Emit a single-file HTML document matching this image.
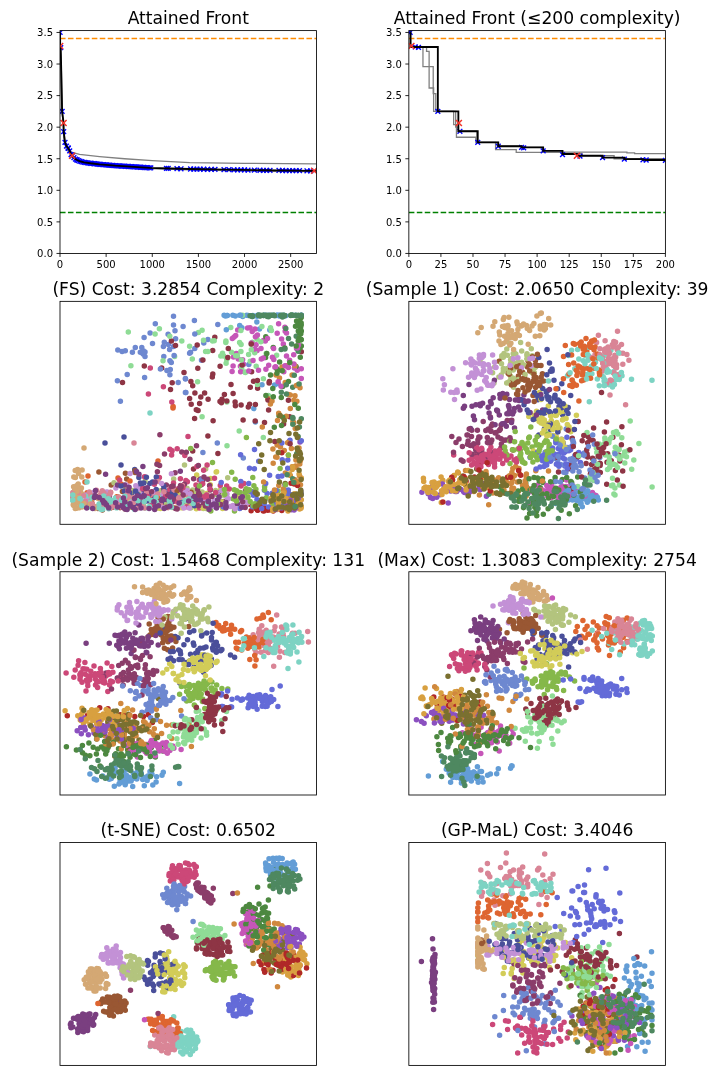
<!DOCTYPE html>
<html><head><meta charset="utf-8"><title>Attained Front</title>
<style>html,body{margin:0;padding:0;background:#fff}svg{display:block}text{font-family:"DejaVu Sans","Liberation Sans",sans-serif;fill:#000}</style>
</head><body>
<svg width="720" height="1080" viewBox="0 0 720 1080">
<rect width="720" height="1080" fill="#fff"/>
<line x1="56.5" x2="60.0" y1="253.45" y2="253.45" stroke="#000" stroke-width="0.85"/>
<line x1="56.5" x2="60.0" y1="221.88" y2="221.88" stroke="#000" stroke-width="0.85"/>
<line x1="56.5" x2="60.0" y1="190.31" y2="190.31" stroke="#000" stroke-width="0.85"/>
<line x1="56.5" x2="60.0" y1="158.74" y2="158.74" stroke="#000" stroke-width="0.85"/>
<line x1="56.5" x2="60.0" y1="127.17" y2="127.17" stroke="#000" stroke-width="0.85"/>
<line x1="56.5" x2="60.0" y1="95.60" y2="95.60" stroke="#000" stroke-width="0.85"/>
<line x1="56.5" x2="60.0" y1="64.03" y2="64.03" stroke="#000" stroke-width="0.85"/>
<line x1="56.5" x2="60.0" y1="32.46" y2="32.46" stroke="#000" stroke-width="0.85"/>
<line x1="60.00" x2="60.00" y1="253.45" y2="256.95" stroke="#000" stroke-width="0.85"/>
<line x1="106.13" x2="106.13" y1="253.45" y2="256.95" stroke="#000" stroke-width="0.85"/>
<line x1="152.27" x2="152.27" y1="253.45" y2="256.95" stroke="#000" stroke-width="0.85"/>
<line x1="198.40" x2="198.40" y1="253.45" y2="256.95" stroke="#000" stroke-width="0.85"/>
<line x1="244.53" x2="244.53" y1="253.45" y2="256.95" stroke="#000" stroke-width="0.85"/>
<line x1="290.67" x2="290.67" y1="253.45" y2="256.95" stroke="#000" stroke-width="0.85"/>
<clipPath id="c1"><rect x="60.0" y="30.6" width="256.5" height="222.85"/></clipPath>
<g clip-path="url(#c1)">
<path d="M60.09,28.67 L60.18,45.72 L61.38,70.34 L62.12,109.49 L63.41,127.17 L64.80,139.80 L66.46,146.11 L69.23,150.22 L72.09,152.43 L79.56,154.32 L99.58,156.53 L124.59,158.74 L152.27,160.63 L189.73,162.53 L244.53,163.29 L316.50,163.92" fill="none" stroke="#808080" stroke-width="1.3" stroke-linejoin="miter" />
<path d="M60.09,28.67 L60.18,46.98 L60.92,67.19 L61.85,108.23 L63.23,124.64 L63.69,137.27 L66.27,149.27 L69.23,152.43 L73.93,158.74 L83.99,163.16 L99.58,165.05 L149.68,168.65 L189.73,169.79 L262.99,171.24 L316.50,171.68" fill="none" stroke="#808080" stroke-width="1.3" stroke-linejoin="miter" />
<line x1="60.0" x2="316.5" y1="38.48" y2="38.48" stroke="#ff8c00" stroke-width="1.5" stroke-dasharray="5.55 2.4"/>
<line x1="60.0" x2="316.5" y1="212.40" y2="212.40" stroke="#008000" stroke-width="1.5" stroke-dasharray="5.55 2.4"/>
<path d="M57.69,30.06L62.49,34.86M57.69,34.86L62.49,30.06" stroke="#0000ff" stroke-width="1.4" fill="none"/>
<path d="M58.34,45.21L63.14,50.01M58.34,50.01L63.14,45.21" stroke="#0000ff" stroke-width="1.4" fill="none"/>
<path d="M59.72,108.98L64.52,113.78M59.72,113.78L64.52,108.98" stroke="#0000ff" stroke-width="1.4" fill="none"/>
<path d="M61.29,129.19L66.09,133.99M61.29,133.99L66.09,129.19" stroke="#0000ff" stroke-width="1.4" fill="none"/>
<path d="M62.58,139.92L67.38,144.72M62.58,144.72L67.38,139.92" stroke="#0000ff" stroke-width="1.4" fill="none"/>
<path d="M64.06,143.71L68.86,148.51M64.06,148.51L68.86,143.71" stroke="#0000ff" stroke-width="1.4" fill="none"/>
<path d="M65.72,145.61L70.52,150.41M65.72,150.41L70.52,145.61" stroke="#0000ff" stroke-width="1.4" fill="none"/>
<path d="M65.90,145.94L70.70,150.74M65.90,150.74L70.70,145.94" stroke="#0000ff" stroke-width="1.4" fill="none"/>
<path d="M67.29,148.45L72.09,153.25M67.29,153.25L72.09,148.45" stroke="#0000ff" stroke-width="1.4" fill="none"/>
<path d="M68.67,152.24L73.47,157.04M68.67,157.04L73.47,152.24" stroke="#0000ff" stroke-width="1.4" fill="none"/>
<path d="M69.87,153.57L74.67,158.37M69.87,158.37L74.67,153.57" stroke="#0000ff" stroke-width="1.4" fill="none"/>
<path d="M71.53,155.27L76.33,160.07M71.53,160.07L76.33,155.27" stroke="#0000ff" stroke-width="1.4" fill="none"/>
<path d="M73.10,156.66L77.90,161.46M73.10,161.46L77.90,156.66" stroke="#0000ff" stroke-width="1.4" fill="none"/>
<path d="M74.48,157.49L79.28,162.29M74.48,162.29L79.28,157.49" stroke="#0000ff" stroke-width="1.4" fill="none"/>
<path d="M74.67,157.60L79.47,162.40M74.67,162.40L79.47,157.60" stroke="#0000ff" stroke-width="1.4" fill="none"/>
<path d="M76.05,158.23L80.85,163.03M76.05,163.03L80.85,158.23" stroke="#0000ff" stroke-width="1.4" fill="none"/>
<path d="M77.53,158.84L82.33,163.64M77.53,163.64L82.33,158.84" stroke="#0000ff" stroke-width="1.4" fill="none"/>
<path d="M79.01,159.24L83.81,164.04M79.01,164.04L83.81,159.24" stroke="#0000ff" stroke-width="1.4" fill="none"/>
<path d="M80.48,159.64L85.28,164.44M80.48,164.44L85.28,159.64" stroke="#0000ff" stroke-width="1.4" fill="none"/>
<path d="M81.96,159.99L86.76,164.79M81.96,164.79L86.76,159.99" stroke="#0000ff" stroke-width="1.4" fill="none"/>
<path d="M83.43,160.21L88.23,165.01M83.43,165.01L88.23,160.21" stroke="#0000ff" stroke-width="1.4" fill="none"/>
<path d="M84.91,160.43L89.71,165.23M84.91,165.23L89.71,160.43" stroke="#0000ff" stroke-width="1.4" fill="none"/>
<path d="M86.39,160.64L91.19,165.44M86.39,165.44L91.19,160.64" stroke="#0000ff" stroke-width="1.4" fill="none"/>
<path d="M87.86,160.86L92.66,165.66M87.86,165.66L92.66,160.86" stroke="#0000ff" stroke-width="1.4" fill="none"/>
<path d="M89.34,161.03L94.14,165.83M89.34,165.83L94.14,161.03" stroke="#0000ff" stroke-width="1.4" fill="none"/>
<path d="M90.82,161.19L95.62,165.99M90.82,165.99L95.62,161.19" stroke="#0000ff" stroke-width="1.4" fill="none"/>
<path d="M92.29,161.36L97.09,166.16M92.29,166.16L97.09,161.36" stroke="#0000ff" stroke-width="1.4" fill="none"/>
<path d="M93.77,161.52L98.57,166.32M93.77,166.32L98.57,161.52" stroke="#0000ff" stroke-width="1.4" fill="none"/>
<path d="M95.24,161.68L100.04,166.48M95.24,166.48L100.04,161.68" stroke="#0000ff" stroke-width="1.4" fill="none"/>
<path d="M96.72,161.85L101.52,166.65M96.72,166.65L101.52,161.85" stroke="#0000ff" stroke-width="1.4" fill="none"/>
<path d="M98.20,161.99L103.00,166.79M98.20,166.79L103.00,161.99" stroke="#0000ff" stroke-width="1.4" fill="none"/>
<path d="M99.67,162.12L104.47,166.92M99.67,166.92L104.47,162.12" stroke="#0000ff" stroke-width="1.4" fill="none"/>
<path d="M101.15,162.25L105.95,167.05M101.15,167.05L105.95,162.25" stroke="#0000ff" stroke-width="1.4" fill="none"/>
<path d="M102.63,162.38L107.43,167.18M102.63,167.18L107.43,162.38" stroke="#0000ff" stroke-width="1.4" fill="none"/>
<path d="M104.10,162.51L108.90,167.31M104.10,167.31L108.90,162.51" stroke="#0000ff" stroke-width="1.4" fill="none"/>
<path d="M105.58,162.64L110.38,167.44M105.58,167.44L110.38,162.64" stroke="#0000ff" stroke-width="1.4" fill="none"/>
<path d="M107.05,162.77L111.85,167.57M107.05,167.57L111.85,162.77" stroke="#0000ff" stroke-width="1.4" fill="none"/>
<path d="M108.53,162.90L113.33,167.70M108.53,167.70L113.33,162.90" stroke="#0000ff" stroke-width="1.4" fill="none"/>
<path d="M110.01,163.03L114.81,167.83M110.01,167.83L114.81,163.03" stroke="#0000ff" stroke-width="1.4" fill="none"/>
<path d="M111.48,163.16L116.28,167.96M111.48,167.96L116.28,163.16" stroke="#0000ff" stroke-width="1.4" fill="none"/>
<path d="M112.96,163.29L117.76,168.09M112.96,168.09L117.76,163.29" stroke="#0000ff" stroke-width="1.4" fill="none"/>
<path d="M114.44,163.38L119.24,168.18M114.44,168.18L119.24,163.38" stroke="#0000ff" stroke-width="1.4" fill="none"/>
<path d="M115.91,163.47L120.71,168.27M115.91,168.27L120.71,163.47" stroke="#0000ff" stroke-width="1.4" fill="none"/>
<path d="M117.39,163.56L122.19,168.36M117.39,168.36L122.19,163.56" stroke="#0000ff" stroke-width="1.4" fill="none"/>
<path d="M118.86,163.65L123.66,168.45M118.86,168.45L123.66,163.65" stroke="#0000ff" stroke-width="1.4" fill="none"/>
<path d="M120.34,163.74L125.14,168.54M120.34,168.54L125.14,163.74" stroke="#0000ff" stroke-width="1.4" fill="none"/>
<path d="M121.82,163.83L126.62,168.63M121.82,168.63L126.62,163.83" stroke="#0000ff" stroke-width="1.4" fill="none"/>
<path d="M123.29,163.92L128.09,168.72M123.29,168.72L128.09,163.92" stroke="#0000ff" stroke-width="1.4" fill="none"/>
<path d="M124.77,164.01L129.57,168.81M124.77,168.81L129.57,164.01" stroke="#0000ff" stroke-width="1.4" fill="none"/>
<path d="M126.25,164.10L131.05,168.90M126.25,168.90L131.05,164.10" stroke="#0000ff" stroke-width="1.4" fill="none"/>
<path d="M127.72,164.19L132.52,168.99M127.72,168.99L132.52,164.19" stroke="#0000ff" stroke-width="1.4" fill="none"/>
<path d="M129.20,164.29L134.00,169.09M129.20,169.09L134.00,164.29" stroke="#0000ff" stroke-width="1.4" fill="none"/>
<path d="M130.67,164.38L135.47,169.18M130.67,169.18L135.47,164.38" stroke="#0000ff" stroke-width="1.4" fill="none"/>
<path d="M132.15,164.47L136.95,169.27M132.15,169.27L136.95,164.47" stroke="#0000ff" stroke-width="1.4" fill="none"/>
<path d="M133.63,164.56L138.43,169.36M133.63,169.36L138.43,164.56" stroke="#0000ff" stroke-width="1.4" fill="none"/>
<path d="M135.10,164.66L139.90,169.46M135.10,169.46L139.90,164.66" stroke="#0000ff" stroke-width="1.4" fill="none"/>
<path d="M136.58,164.75L141.38,169.55M136.58,169.55L141.38,164.75" stroke="#0000ff" stroke-width="1.4" fill="none"/>
<path d="M138.06,164.84L142.86,169.64M138.06,169.64L142.86,164.84" stroke="#0000ff" stroke-width="1.4" fill="none"/>
<path d="M139.53,164.94L144.33,169.74M139.53,169.74L144.33,164.94" stroke="#0000ff" stroke-width="1.4" fill="none"/>
<path d="M141.01,165.03L145.81,169.83M141.01,169.83L145.81,165.03" stroke="#0000ff" stroke-width="1.4" fill="none"/>
<path d="M142.48,165.13L147.28,169.93M142.48,169.93L147.28,165.13" stroke="#0000ff" stroke-width="1.4" fill="none"/>
<path d="M143.96,165.22L148.76,170.02M143.96,170.02L148.76,165.22" stroke="#0000ff" stroke-width="1.4" fill="none"/>
<path d="M145.44,165.31L150.24,170.11M145.44,170.11L150.24,165.31" stroke="#0000ff" stroke-width="1.4" fill="none"/>
<path d="M146.91,165.41L151.71,170.21M146.91,170.21L151.71,165.41" stroke="#0000ff" stroke-width="1.4" fill="none"/>
<path d="M148.39,165.47L153.19,170.27M148.39,170.27L153.19,165.47" stroke="#0000ff" stroke-width="1.4" fill="none"/>
<path d="M164.10,165.99L168.90,170.79M164.10,170.79L168.90,165.99" stroke="#0000ff" stroke-width="1.4" fill="none"/>
<path d="M165.80,166.04L170.60,170.84M165.80,170.84L170.60,166.04" stroke="#0000ff" stroke-width="1.4" fill="none"/>
<path d="M174.60,166.27L179.40,171.07M174.60,171.07L179.40,166.27" stroke="#0000ff" stroke-width="1.4" fill="none"/>
<path d="M178.60,166.37L183.40,171.17M178.60,171.17L183.40,166.37" stroke="#0000ff" stroke-width="1.4" fill="none"/>
<path d="M188.20,166.59L193.00,171.39M188.20,171.39L193.00,166.59" stroke="#0000ff" stroke-width="1.4" fill="none"/>
<path d="M191.40,166.65L196.20,171.45M191.40,171.45L196.20,166.65" stroke="#0000ff" stroke-width="1.4" fill="none"/>
<path d="M194.60,166.71L199.40,171.51M194.60,171.51L199.40,166.71" stroke="#0000ff" stroke-width="1.4" fill="none"/>
<path d="M197.60,166.76L202.40,171.56M197.60,171.56L202.40,166.76" stroke="#0000ff" stroke-width="1.4" fill="none"/>
<path d="M201.35,166.84L206.15,171.64M201.35,171.64L206.15,166.84" stroke="#0000ff" stroke-width="1.4" fill="none"/>
<path d="M205.10,166.91L209.90,171.71M205.10,171.71L209.90,166.91" stroke="#0000ff" stroke-width="1.4" fill="none"/>
<path d="M208.85,166.98L213.65,171.78M208.85,171.78L213.65,166.98" stroke="#0000ff" stroke-width="1.4" fill="none"/>
<path d="M212.60,167.05L217.40,171.85M212.60,171.85L217.40,167.05" stroke="#0000ff" stroke-width="1.4" fill="none"/>
<path d="M221.60,167.22L226.40,172.02M221.60,172.02L226.40,167.22" stroke="#0000ff" stroke-width="1.4" fill="none"/>
<path d="M226.60,167.31L231.40,172.11M226.60,172.11L231.40,167.31" stroke="#0000ff" stroke-width="1.4" fill="none"/>
<path d="M231.60,167.40L236.40,172.20M231.60,172.20L236.40,167.40" stroke="#0000ff" stroke-width="1.4" fill="none"/>
<path d="M235.10,167.46L239.90,172.26M235.10,172.26L239.90,167.46" stroke="#0000ff" stroke-width="1.4" fill="none"/>
<path d="M238.60,167.52L243.40,172.32M238.60,172.32L243.40,167.52" stroke="#0000ff" stroke-width="1.4" fill="none"/>
<path d="M242.10,167.58L246.90,172.38M242.10,172.38L246.90,167.58" stroke="#0000ff" stroke-width="1.4" fill="none"/>
<path d="M245.60,167.64L250.40,172.44M245.60,172.44L250.40,167.64" stroke="#0000ff" stroke-width="1.4" fill="none"/>
<path d="M252.00,167.75L256.80,172.55M252.00,172.55L256.80,167.75" stroke="#0000ff" stroke-width="1.4" fill="none"/>
<path d="M257.60,167.84L262.40,172.64M257.60,172.64L262.40,167.84" stroke="#0000ff" stroke-width="1.4" fill="none"/>
<path d="M260.93,167.90L265.73,172.70M260.93,172.70L265.73,167.90" stroke="#0000ff" stroke-width="1.4" fill="none"/>
<path d="M264.27,167.93L269.07,172.73M264.27,172.73L269.07,167.93" stroke="#0000ff" stroke-width="1.4" fill="none"/>
<path d="M267.60,167.97L272.40,172.77M267.60,172.77L272.40,167.97" stroke="#0000ff" stroke-width="1.4" fill="none"/>
<path d="M276.60,168.07L281.40,172.87M276.60,172.87L281.40,168.07" stroke="#0000ff" stroke-width="1.4" fill="none"/>
<path d="M280.10,168.10L284.90,172.90M280.10,172.90L284.90,168.10" stroke="#0000ff" stroke-width="1.4" fill="none"/>
<path d="M283.60,168.14L288.40,172.94M283.60,172.94L288.40,168.14" stroke="#0000ff" stroke-width="1.4" fill="none"/>
<path d="M286.98,168.18L291.77,172.98M286.98,172.98L291.77,168.18" stroke="#0000ff" stroke-width="1.4" fill="none"/>
<path d="M290.35,168.21L295.15,173.01M290.35,173.01L295.15,168.21" stroke="#0000ff" stroke-width="1.4" fill="none"/>
<path d="M293.73,168.25L298.52,173.05M293.73,173.05L298.52,168.25" stroke="#0000ff" stroke-width="1.4" fill="none"/>
<path d="M297.10,168.29L301.90,173.09M297.10,173.09L301.90,168.29" stroke="#0000ff" stroke-width="1.4" fill="none"/>
<path d="M304.60,168.37L309.40,173.17M304.60,173.17L309.40,168.37" stroke="#0000ff" stroke-width="1.4" fill="none"/>
<path d="M308.30,168.41L313.10,173.21M308.30,173.21L313.10,168.41" stroke="#0000ff" stroke-width="1.4" fill="none"/>
<path d="M60.09,32.46 L60.18,46.01 L60.74,47.61 L62.12,111.38 L63.60,123.07 L63.69,131.59 L64.98,142.32 L66.46,146.11 L68.12,148.01 L69.69,150.85 L71.07,154.64 L72.09,155.79 L73.93,157.67 L75.50,159.06 L77.07,160.00 L79.56,161.14 L83.99,162.34 L90.45,163.29 L99.58,164.30 L115.36,165.69 L133.81,166.82 L149.68,167.83 L170.72,168.53 L189.73,168.97 L226.08,169.66 L262.99,170.29 L314.10,170.84 L316.50,170.84" fill="none" stroke="#000" stroke-width="1.85" stroke-linejoin="miter" />
<path d="M57.18,43.01L63.18,49.01M57.18,49.01L63.18,43.01" stroke="#f2342a" stroke-width="1.5" fill="none"/>
<path d="M60.60,120.07L66.60,126.07M60.60,126.07L66.60,120.07" stroke="#f2342a" stroke-width="1.5" fill="none"/>
<path d="M69.09,152.79L75.09,158.79M69.09,158.79L75.09,152.79" stroke="#f2342a" stroke-width="1.5" fill="none"/>
<path d="M311.10,167.84L317.10,173.84M311.10,173.84L317.10,167.84" stroke="#f2342a" stroke-width="1.5" fill="none"/>
</g>
<line x1="405.35" x2="408.85" y1="253.45" y2="253.45" stroke="#000" stroke-width="0.85"/>
<line x1="405.35" x2="408.85" y1="221.88" y2="221.88" stroke="#000" stroke-width="0.85"/>
<line x1="405.35" x2="408.85" y1="190.31" y2="190.31" stroke="#000" stroke-width="0.85"/>
<line x1="405.35" x2="408.85" y1="158.74" y2="158.74" stroke="#000" stroke-width="0.85"/>
<line x1="405.35" x2="408.85" y1="127.17" y2="127.17" stroke="#000" stroke-width="0.85"/>
<line x1="405.35" x2="408.85" y1="95.60" y2="95.60" stroke="#000" stroke-width="0.85"/>
<line x1="405.35" x2="408.85" y1="64.03" y2="64.03" stroke="#000" stroke-width="0.85"/>
<line x1="405.35" x2="408.85" y1="32.46" y2="32.46" stroke="#000" stroke-width="0.85"/>
<line x1="408.85" x2="408.85" y1="253.45" y2="256.95" stroke="#000" stroke-width="0.85"/>
<line x1="440.92" x2="440.92" y1="253.45" y2="256.95" stroke="#000" stroke-width="0.85"/>
<line x1="472.99" x2="472.99" y1="253.45" y2="256.95" stroke="#000" stroke-width="0.85"/>
<line x1="505.06" x2="505.06" y1="253.45" y2="256.95" stroke="#000" stroke-width="0.85"/>
<line x1="537.12" x2="537.12" y1="253.45" y2="256.95" stroke="#000" stroke-width="0.85"/>
<line x1="569.19" x2="569.19" y1="253.45" y2="256.95" stroke="#000" stroke-width="0.85"/>
<line x1="601.26" x2="601.26" y1="253.45" y2="256.95" stroke="#000" stroke-width="0.85"/>
<line x1="633.33" x2="633.33" y1="253.45" y2="256.95" stroke="#000" stroke-width="0.85"/>
<line x1="665.40" x2="665.40" y1="253.45" y2="256.95" stroke="#000" stroke-width="0.85"/>
<clipPath id="c2"><rect x="408.85" y="30.6" width="256.54999999999995" height="222.85"/></clipPath>
<g clip-path="url(#c2)">
<path d="M409.23,28.67 L410.52,28.67 L410.52,46.98 L422.96,46.98 L422.96,66.56 L433.22,66.56 L433.22,93.71 L435.79,93.71 L435.79,111.38 L453.62,111.38 L453.62,124.64 L456.44,124.64 L456.44,137.27 L475.81,137.27 L475.81,142.32 L495.56,142.32 L495.56,149.58 L516.22,149.58 L516.22,152.43 L561.50,152.43 L561.50,153.37 L582.02,153.37 L582.02,155.58 L614.09,155.58 L614.09,158.74 L665.40,158.74 L665.40,161.27" fill="none" stroke="#808080" stroke-width="1.3" stroke-linejoin="miter" />
<path d="M409.23,28.67 L410.52,28.67 L410.52,46.98 L426.55,46.98 L426.55,51.40 L429.12,51.40 L429.12,88.02 L433.61,88.02 L433.61,111.38 L455.67,111.38 L455.67,127.17 L458.36,127.17 L458.36,131.27 L476.84,131.27 L476.84,142.32 L498.13,142.32 L498.13,146.11 L521.60,146.11 L521.60,147.37 L543.03,147.37 L543.03,150.66 L562.40,150.66 L562.40,152.11 L626.92,152.11 L626.92,152.87 L634.61,152.87 L634.61,153.69 L665.40,153.69 L665.40,154.38" fill="none" stroke="#808080" stroke-width="1.3" stroke-linejoin="miter" />
<line x1="408.85" x2="665.4" y1="38.48" y2="38.48" stroke="#ff8c00" stroke-width="1.5" stroke-dasharray="5.55 2.4"/>
<line x1="408.85" x2="665.4" y1="212.40" y2="212.40" stroke="#008000" stroke-width="1.5" stroke-dasharray="5.55 2.4"/>
<path d="M407.73,30.06L412.53,34.86M407.73,34.86L412.53,30.06" stroke="#0000ff" stroke-width="1.4" fill="none"/>
<path d="M412.86,44.58L417.66,49.38M412.86,49.38L417.66,44.58" stroke="#0000ff" stroke-width="1.4" fill="none"/>
<path d="M416.07,44.90L420.87,49.70M416.07,49.70L420.87,44.90" stroke="#0000ff" stroke-width="1.4" fill="none"/>
<path d="M435.44,108.98L440.24,113.78M435.44,113.78L440.24,108.98" stroke="#0000ff" stroke-width="1.4" fill="none"/>
<path d="M457.50,128.87L462.30,133.67M457.50,133.67L462.30,128.87" stroke="#0000ff" stroke-width="1.4" fill="none"/>
<path d="M475.33,139.92L480.13,144.72M475.33,144.72L480.13,139.92" stroke="#0000ff" stroke-width="1.4" fill="none"/>
<path d="M495.86,143.84L500.66,148.64M495.86,148.64L500.66,143.84" stroke="#0000ff" stroke-width="1.4" fill="none"/>
<path d="M519.20,144.97L524.00,149.77M519.20,149.77L524.00,144.97" stroke="#0000ff" stroke-width="1.4" fill="none"/>
<path d="M521.26,145.48L526.06,150.28M521.26,150.28L526.06,145.48" stroke="#0000ff" stroke-width="1.4" fill="none"/>
<path d="M540.75,148.45L545.55,153.25M540.75,153.25L545.55,148.45" stroke="#0000ff" stroke-width="1.4" fill="none"/>
<path d="M560.12,152.24L564.92,157.04M560.12,157.04L564.92,152.24" stroke="#0000ff" stroke-width="1.4" fill="none"/>
<path d="M577.57,153.75L582.37,158.55M577.57,158.55L582.37,153.75" stroke="#0000ff" stroke-width="1.4" fill="none"/>
<path d="M600.15,155.27L604.95,160.07M600.15,160.07L604.95,155.27" stroke="#0000ff" stroke-width="1.4" fill="none"/>
<path d="M621.95,156.66L626.75,161.46M621.95,161.46L626.75,156.66" stroke="#0000ff" stroke-width="1.4" fill="none"/>
<path d="M640.55,157.48L645.35,162.28M640.55,162.28L645.35,157.48" stroke="#0000ff" stroke-width="1.4" fill="none"/>
<path d="M643.76,157.60L648.56,162.40M643.76,162.40L648.56,157.60" stroke="#0000ff" stroke-width="1.4" fill="none"/>
<path d="M663.00,158.04L667.80,162.84M663.00,162.84L667.80,158.04" stroke="#0000ff" stroke-width="1.4" fill="none"/>
<path d="M410.13,32.46 L410.52,32.46 L410.52,46.98 L437.84,46.98 L437.84,111.38 L458.36,111.38 L458.36,131.27 L477.73,131.27 L477.73,142.32 L498.26,142.32 L498.26,146.24 L521.60,146.24 L521.60,147.37 L543.15,147.37 L543.15,150.85 L562.52,150.85 L562.52,154.00 L576.89,154.00 L576.89,155.79 L602.55,155.79 L602.55,157.67 L624.35,157.67 L624.35,159.06 L642.95,159.06 L642.95,159.88 L646.16,159.88 L646.16,160.00 L665.40,160.00 L665.40,160.44 L666.68,160.44 L666.68,160.44" fill="none" stroke="#000" stroke-width="1.85" stroke-linejoin="miter" />
<path d="M408.42,43.01L414.42,49.01M408.42,49.01L414.42,43.01" stroke="#f2342a" stroke-width="1.5" fill="none"/>
<path d="M455.88,120.07L461.88,126.07M455.88,126.07L461.88,120.07" stroke="#f2342a" stroke-width="1.5" fill="none"/>
<path d="M573.89,152.79L579.89,158.79M573.89,158.79L579.89,152.79" stroke="#f2342a" stroke-width="1.5" fill="none"/>
</g>
<g fill="none" stroke-width="5.5" stroke-linecap="round">
<path stroke="#8b50c0" d="M482.8,485.9h0M450.6,491.0h0M432.0,491.8h0M428.2,493.7h0M481.1,487.2h0M453.6,485.6h0M421.9,492.3h0"/>
<path stroke="#639dd6" d="M588.9,497.7h0M566.4,498.9h0M571.6,494.8h0M582.5,494.6h0M564.9,496.3h0M581.7,497.0h0M594.1,494.7h0M588.7,500.6h0"/>
<path stroke="#c656b8" d="M551.9,486.3h0M565.6,501.1h0M596.0,495.5h0M578.7,490.1h0M566.2,486.5h0M567.5,494.6h0M557.3,495.9h0M564.3,494.8h0M553.9,496.1h0M551.6,491.1h0M574.8,492.4h0"/>
<path stroke="#c656b8" d="M565.0,490.9h0M556.6,491.9h0M538.4,489.2h0M591.1,496.4h0M547.2,490.8h0M563.3,500.6h0M570.8,483.5h0M550.8,497.7h0M559.5,495.7h0M566.7,499.7h0"/>
<path stroke="#639dd6" d="M583.5,496.7h0M596.1,497.8h0M589.2,496.4h0M590.3,495.8h0M587.3,502.2h0M568.5,500.1h0M581.0,503.6h0M582.3,506.7h0M571.5,493.0h0"/>
<path stroke="#8b50c0" d="M463.5,491.4h0M468.8,490.2h0M460.7,489.3h0M456.8,491.5h0M432.7,486.1h0M455.2,491.6h0"/>
<path stroke="#8b50c0" d="M464.7,483.4h0M445.3,490.1h0M464.5,492.6h0M468.0,494.1h0M452.9,485.6h0M430.5,497.5h0M449.5,488.9h0"/>
<path stroke="#8b50c0" d="M479.1,487.3h0M440.1,494.7h0M448.2,503.1h0M469.4,492.3h0M430.8,487.5h0M480.2,489.8h0M450.3,486.7h0"/>
<path stroke="#c656b8" d="M564.3,493.0h0M547.0,495.6h0M569.8,489.9h0M525.8,494.3h0M566.2,498.1h0M561.1,486.9h0M587.2,485.1h0M547.6,486.7h0M552.2,497.0h0M537.7,485.1h0M537.8,491.8h0"/>
<path stroke="#4d8840" d="M577.7,477.0h0M529.0,489.0h0M552.2,494.6h0M560.3,490.2h0M539.3,481.1h0M543.3,514.3h0M548.1,508.7h0M523.5,507.7h0M540.3,487.8h0M529.8,504.5h0"/>
<path stroke="#4d8840" d="M543.0,482.5h0M533.0,500.9h0M554.3,490.0h0M562.9,503.0h0M534.1,485.6h0M555.1,477.6h0M525.8,482.9h0M560.3,492.2h0M536.6,511.0h0M499.8,486.7h0M536.8,515.7h0"/>
<path stroke="#7dd3c3" d="M589.7,374.0h0M595.5,362.2h0M593.7,358.9h0M631.5,379.2h0M574.8,368.7h0M606.1,353.9h0M613.5,383.6h0M591.9,373.8h0M612.5,387.0h0M593.1,365.1h0"/>
<path stroke="#d2cc58" d="M552.7,427.3h0M551.3,420.5h0M544.4,420.1h0M528.8,416.4h0M544.9,429.6h0M553.4,435.5h0M539.5,392.5h0M556.4,415.2h0M562.5,420.1h0M560.0,428.1h0"/>
<path stroke="#d0883e" d="M486.4,474.4h0M522.5,485.3h0M519.0,468.5h0M478.3,482.3h0M488.7,504.8h0M518.7,496.8h0M498.6,477.8h0M505.8,482.1h0M524.8,490.5h0M465.5,470.4h0"/>
<path stroke="#d4a874" d="M548.7,318.4h0M532.0,325.9h0M550.7,325.1h0M541.3,313.0h0M540.3,329.0h0M503.3,319.4h0M506.2,341.2h0M502.5,326.6h0M506.7,341.7h0M504.6,336.2h0"/>
<path stroke="#d4a874" d="M517.5,324.3h0M499.0,341.0h0M519.4,335.4h0M516.9,322.0h0M544.0,326.3h0M508.0,333.5h0M511.6,336.8h0M500.9,344.6h0M508.5,338.2h0M517.3,334.1h0"/>
<path stroke="#8b50c0" d="M430.4,489.9h0M469.8,486.2h0M490.1,486.0h0M486.4,496.3h0M473.5,490.1h0M466.2,489.6h0"/>
<path stroke="#8fdc96" d="M619.0,449.8h0M608.9,442.7h0M596.3,448.1h0M638.9,443.4h0M598.4,456.7h0M627.9,450.8h0M631.7,469.3h0M596.8,452.4h0M592.4,459.0h0M621.8,437.8h0"/>
<path stroke="#c391d6" d="M483.4,356.0h0M484.7,380.7h0M483.2,366.3h0M454.5,399.4h0M513.3,363.6h0M471.6,375.2h0M450.8,392.3h0M474.4,377.6h0M456.9,389.9h0M488.9,385.2h0"/>
<path stroke="#c656b8" d="M550.5,490.7h0M577.7,488.3h0M528.2,502.5h0M564.2,495.8h0M555.1,492.4h0M575.7,497.2h0M553.3,491.3h0M558.3,494.9h0M577.6,489.9h0M562.7,486.2h0"/>
<path stroke="#4d8840" d="M520.3,500.9h0M562.3,479.6h0M534.8,507.4h0M548.5,498.1h0M554.5,481.5h0M522.5,489.3h0M551.1,506.5h0M574.8,499.6h0M565.2,487.4h0M529.6,513.4h0"/>
<path stroke="#de6530" d="M588.3,368.5h0M585.4,354.9h0M578.9,400.9h0M586.8,350.9h0M573.7,363.0h0M576.2,370.1h0M583.3,354.6h0M597.9,357.8h0M594.2,368.2h0M581.2,342.1h0"/>
<path stroke="#646bd8" d="M578.7,452.4h0M544.0,466.4h0M570.6,449.8h0M565.5,451.4h0M550.6,448.8h0M562.5,457.7h0M563.7,449.7h0M572.0,460.4h0M566.3,447.5h0M564.8,466.1h0"/>
<path stroke="#7a3f80" d="M528.2,400.9h0M518.5,407.1h0M469.0,384.4h0M520.0,409.9h0M508.8,413.7h0M502.7,393.6h0M519.4,399.3h0M500.9,396.8h0M504.6,396.4h0M509.1,407.2h0M490.5,401.4h0"/>
<path stroke="#8e3545" d="M578.2,421.4h0M607.0,462.3h0M600.3,472.6h0M619.9,460.9h0M588.2,436.8h0M615.4,470.4h0M593.1,440.6h0M593.6,427.9h0M612.9,437.2h0M598.2,456.3h0M589.9,439.7h0"/>
<path stroke="#4a4f9a" d="M537.9,399.7h0M557.5,401.2h0M542.7,388.4h0M554.4,398.0h0M547.3,390.9h0M563.3,409.2h0M550.5,413.0h0M546.9,396.3h0M570.7,395.6h0M552.0,369.1h0"/>
<path stroke="#639dd6" d="M581.9,499.0h0M577.1,500.8h0M564.3,490.9h0M580.3,495.2h0M580.7,503.8h0M582.4,491.6h0M573.0,490.9h0M581.1,498.1h0M587.4,491.8h0"/>
<path stroke="#7dd3c3" d="M603.5,377.2h0M610.9,350.3h0M606.3,368.7h0M589.1,373.2h0M588.7,356.0h0M602.3,376.1h0M567.5,375.8h0M605.3,369.9h0M614.5,360.4h0M603.6,356.1h0"/>
<path stroke="#d0883e" d="M514.6,475.5h0M510.9,483.4h0M507.5,478.1h0M535.8,470.8h0M548.5,471.1h0M481.5,473.7h0M474.7,481.0h0M536.7,502.4h0M486.7,487.6h0M494.8,481.1h0M503.6,486.4h0"/>
<path stroke="#d2cc58" d="M573.7,429.6h0M534.3,415.2h0M571.8,438.7h0M563.9,409.5h0M541.0,399.6h0M550.1,427.3h0M570.7,431.8h0M550.7,416.1h0M553.6,424.1h0M567.3,424.6h0M561.4,410.8h0"/>
<path stroke="#b02828" d="M507.5,477.2h0M467.9,486.8h0M474.5,477.0h0"/>
<path stroke="#4a4f9a" d="M557.7,388.8h0M549.1,397.4h0M562.6,414.7h0M574.9,421.6h0M547.1,349.5h0M541.7,398.4h0M550.3,423.8h0M558.3,428.9h0M574.4,429.6h0M550.4,371.2h0"/>
<path stroke="#646bd8" d="M550.0,451.3h0M536.1,469.1h0M555.8,440.5h0M580.4,462.5h0M558.6,454.4h0M573.3,442.5h0M530.1,457.5h0M572.0,446.1h0M568.2,464.7h0M552.3,449.5h0M540.1,467.1h0"/>
<path stroke="#cc4878" d="M493.5,457.6h0M493.2,452.9h0M487.5,455.6h0M514.1,460.1h0M477.4,454.8h0M469.1,460.3h0M490.9,447.3h0M494.3,462.0h0M479.2,458.4h0M453.7,454.9h0"/>
<path stroke="#d2cc58" d="M541.0,420.1h0M562.9,411.2h0M542.0,417.5h0M544.8,423.3h0M522.5,443.6h0M556.4,437.0h0M536.5,411.3h0M576.4,415.2h0M558.2,412.2h0M541.4,419.7h0"/>
<path stroke="#d8a040" d="M449.8,486.4h0M452.6,483.9h0M434.1,481.9h0M459.8,479.8h0M458.3,473.1h0M432.0,482.5h0M441.3,502.5h0M443.7,488.8h0M435.2,487.9h0M451.9,486.4h0"/>
<path stroke="#8b3d6a" d="M491.0,431.2h0M451.8,436.6h0M478.8,437.1h0M487.4,442.5h0M492.4,424.1h0M486.7,459.2h0M501.1,438.7h0M479.5,453.0h0M470.3,445.6h0M484.6,455.6h0"/>
<path stroke="#7a3f80" d="M463.3,408.3h0M530.1,412.5h0M506.9,413.7h0M521.2,400.0h0M480.3,405.7h0M506.3,426.2h0M519.1,400.6h0M497.5,410.7h0M499.3,415.0h0M500.2,398.3h0M474.5,419.8h0"/>
<path stroke="#646bd8" d="M576.5,458.9h0M560.1,446.5h0M568.9,450.7h0M560.3,445.9h0M574.9,455.6h0M546.7,465.0h0M555.5,454.9h0M557.4,459.2h0M573.6,466.2h0M562.1,446.7h0"/>
<path stroke="#639dd6" d="M571.6,499.0h0M584.0,494.9h0M555.4,503.5h0M581.7,491.1h0M585.6,499.2h0M578.5,492.0h0M583.4,497.6h0M592.4,497.8h0"/>
<path stroke="#d8a040" d="M454.1,475.5h0M441.5,490.8h0M428.5,487.5h0M442.8,480.2h0M468.1,470.6h0M428.2,492.6h0M452.9,488.8h0M439.7,483.0h0M452.1,484.6h0M471.3,484.6h0"/>
<path stroke="#6e88d0" d="M569.8,459.2h0M561.7,442.8h0M545.1,452.2h0M575.2,465.1h0M575.2,459.1h0M584.8,478.1h0M580.1,455.1h0M590.9,476.0h0M593.0,473.6h0M593.6,480.3h0"/>
<path stroke="#c656b8" d="M584.5,496.0h0M592.4,492.4h0M566.6,480.0h0M537.2,491.4h0M546.8,485.4h0M582.1,495.8h0M571.4,490.4h0M542.5,490.0h0M584.9,495.9h0M542.9,500.6h0"/>
<path stroke="#c656b8" d="M559.9,491.1h0M568.7,496.3h0M560.1,495.7h0M561.8,488.6h0M531.7,491.8h0M572.6,497.8h0M557.5,488.4h0M558.7,499.6h0M539.6,492.4h0M574.3,486.9h0"/>
<path stroke="#8b3d6a" d="M461.2,459.9h0M501.1,425.0h0M507.2,420.6h0M490.4,417.0h0M499.3,430.6h0M453.5,452.2h0M487.3,437.6h0M474.5,456.0h0M482.5,454.8h0M471.8,430.3h0"/>
<path stroke="#4d8840" d="M566.3,499.4h0M542.4,494.1h0M527.0,517.9h0M580.4,491.9h0M534.0,477.5h0M570.9,481.6h0M575.6,505.8h0M553.6,496.6h0M534.6,493.6h0M555.7,488.3h0M566.7,477.4h0"/>
<path stroke="#85b84a" d="M532.9,462.0h0M558.9,441.0h0M520.5,455.7h0M549.0,447.0h0M519.5,448.7h0M532.1,453.0h0M513.5,450.3h0M538.4,451.9h0M530.8,427.1h0M536.2,445.1h0M520.3,450.0h0"/>
<path stroke="#995733" d="M522.6,372.3h0M542.4,373.7h0M517.9,378.3h0M524.6,377.5h0M528.7,389.2h0M508.1,373.2h0M533.0,395.5h0M518.4,376.0h0M530.7,383.6h0M515.1,366.2h0"/>
<path stroke="#7a3f80" d="M524.1,401.0h0M491.2,403.8h0M473.4,416.0h0M513.8,411.5h0M514.3,408.4h0M509.5,399.5h0M472.0,406.2h0M542.6,410.0h0M504.3,423.4h0M523.9,394.9h0"/>
<path stroke="#b3c47e" d="M516.1,365.4h0M501.2,375.0h0M513.3,370.0h0M510.5,376.0h0M494.7,367.0h0M528.0,357.3h0M517.9,365.2h0M498.9,376.9h0M513.5,387.3h0M480.9,362.5h0M535.2,367.5h0"/>
<path stroke="#d0883e" d="M484.0,477.7h0M526.4,474.1h0M497.0,493.6h0M504.0,490.3h0M486.0,471.4h0M512.0,491.2h0M525.4,483.6h0M531.9,488.9h0M511.3,477.7h0M509.5,475.7h0"/>
<path stroke="#8fdc96" d="M605.0,440.3h0M630.2,420.9h0M587.0,432.6h0M577.8,486.4h0M604.1,444.2h0M590.7,478.8h0M604.8,438.1h0M619.4,485.1h0M600.6,446.3h0M607.5,469.6h0M620.0,456.6h0"/>
<path stroke="#d0883e" d="M518.3,491.4h0M457.3,488.2h0M517.3,481.9h0M512.6,479.1h0M507.9,493.4h0M540.1,489.7h0M473.9,491.6h0M492.8,492.9h0M519.6,473.9h0M497.0,493.2h0"/>
<path stroke="#d0883e" d="M515.7,466.5h0M495.8,482.0h0M511.9,482.6h0M524.3,497.6h0M494.7,480.1h0M526.4,486.2h0M482.8,487.1h0M511.9,472.5h0M506.4,482.5h0M504.1,484.0h0"/>
<path stroke="#7dd3c3" d="M609.1,384.8h0M577.4,367.5h0M613.9,371.4h0M614.0,373.6h0M622.0,375.8h0M619.3,379.6h0M568.7,355.6h0M607.6,370.5h0M588.1,360.3h0M586.2,355.8h0M604.1,381.1h0"/>
<path stroke="#b3c47e" d="M509.7,367.1h0M507.5,368.5h0M521.6,362.3h0M503.3,368.6h0M503.3,371.3h0M530.2,357.2h0M509.2,382.4h0M503.3,357.2h0M494.0,382.9h0M501.8,355.8h0"/>
<path stroke="#6e88d0" d="M552.4,436.2h0M572.5,458.6h0M576.2,498.9h0M599.8,457.6h0M584.2,453.1h0M557.8,459.9h0M595.0,470.6h0M568.8,466.1h0M584.5,454.9h0M572.3,462.0h0M592.7,435.1h0"/>
<path stroke="#cc4878" d="M484.0,454.1h0M516.5,462.0h0M485.3,461.3h0M488.5,464.4h0M481.6,462.6h0M494.6,466.9h0M511.0,456.0h0M472.0,455.0h0M482.6,455.6h0M506.7,454.6h0M495.0,450.9h0"/>
<path stroke="#6e88d0" d="M584.9,455.8h0M561.7,439.2h0M582.0,489.0h0M573.6,442.9h0M594.3,444.2h0M555.7,481.6h0M560.7,464.6h0M552.4,456.1h0M585.9,455.3h0M565.9,465.3h0"/>
<path stroke="#7a3f80" d="M475.9,404.7h0M502.2,423.8h0M512.6,413.9h0M506.9,394.3h0M508.5,405.4h0M488.2,407.3h0M470.6,428.5h0M495.1,424.8h0M499.8,394.4h0M509.4,411.1h0"/>
<path stroke="#8e3545" d="M586.1,463.4h0M599.4,456.4h0M618.7,455.9h0M569.5,465.4h0M623.1,486.2h0M601.3,451.7h0M593.7,460.3h0M607.7,453.8h0M599.8,463.2h0M606.7,484.2h0"/>
<path stroke="#8e3545" d="M573.3,446.4h0M597.1,464.9h0M594.2,469.5h0M598.9,447.4h0M586.7,449.8h0M575.7,454.5h0M558.5,472.1h0M601.5,392.6h0M587.7,457.0h0M618.9,455.3h0"/>
<path stroke="#d8a040" d="M446.3,491.8h0M448.3,481.5h0M454.3,475.4h0M441.1,477.0h0M433.1,486.3h0M463.6,479.0h0M436.1,495.8h0M433.7,486.5h0M483.2,476.4h0M423.4,478.3h0"/>
<path stroke="#4a4f9a" d="M538.4,412.4h0M528.5,412.7h0M538.8,435.0h0M544.8,413.0h0M550.5,429.7h0M544.4,429.1h0M554.8,397.3h0M549.5,362.9h0M568.2,407.5h0M559.0,406.4h0M561.7,407.8h0"/>
<path stroke="#8b3d6a" d="M488.4,442.7h0M473.8,446.2h0M506.0,439.9h0M475.7,449.2h0M477.7,443.3h0M511.8,420.3h0M498.0,437.0h0M510.0,437.7h0M477.9,439.9h0M477.4,430.2h0"/>
<path stroke="#8e3545" d="M598.4,471.9h0M621.9,426.8h0M572.3,438.2h0M611.3,460.7h0M578.1,456.8h0M590.9,470.7h0M604.4,432.0h0M617.3,479.9h0M600.1,465.6h0M555.2,457.6h0"/>
<path stroke="#7dd3c3" d="M572.4,380.6h0M578.8,359.1h0M571.6,350.3h0M652.0,380.2h0M577.6,349.4h0M588.2,347.3h0M586.5,374.7h0M583.3,360.8h0M606.9,369.3h0M597.3,378.9h0M591.4,366.3h0"/>
<path stroke="#b02828" d="M466.1,481.2h0M442.9,502.1h0M479.5,466.3h0"/>
<path stroke="#cc4878" d="M496.7,458.8h0M476.4,464.5h0M495.3,456.7h0M472.0,458.2h0M494.1,455.8h0M512.5,449.7h0M497.5,454.0h0M493.6,461.5h0M480.9,466.7h0M496.3,453.7h0"/>
<path stroke="#7a7030" d="M510.4,493.2h0M490.7,478.5h0M462.9,476.1h0M473.5,484.1h0M462.8,479.6h0M487.5,480.0h0M484.2,483.5h0M504.8,493.2h0M472.4,481.0h0M486.7,478.0h0"/>
<path stroke="#4d8840" d="M550.6,481.8h0M532.4,491.1h0M532.9,488.4h0M569.0,489.8h0M518.0,490.9h0M571.7,482.8h0M542.5,478.5h0M559.9,505.3h0M558.8,490.1h0M538.3,496.0h0"/>
<path stroke="#8b3d6a" d="M469.2,429.1h0M500.3,429.2h0M490.9,442.5h0M471.5,436.5h0M488.3,428.9h0M481.8,449.7h0M488.8,457.8h0M490.0,451.3h0M476.1,450.7h0M468.1,441.1h0M495.1,433.1h0"/>
<path stroke="#8fdc96" d="M633.8,460.0h0M609.2,456.9h0M615.0,494.9h0M597.1,467.0h0M615.3,447.2h0M599.2,443.9h0M613.5,464.2h0M618.9,449.0h0M624.6,451.9h0M613.9,493.9h0"/>
<path stroke="#85b84a" d="M517.9,448.9h0M509.8,441.1h0M520.4,446.0h0M525.6,448.3h0M527.8,443.0h0M524.9,463.2h0M532.1,447.0h0M546.4,451.8h0M547.3,434.0h0M541.2,445.5h0"/>
<path stroke="#6e88d0" d="M565.9,472.6h0M572.1,485.1h0M567.9,447.4h0M569.9,469.0h0M563.7,472.3h0M572.8,440.6h0M590.0,470.1h0M552.8,459.1h0M583.8,487.8h0M566.2,429.1h0"/>
<path stroke="#b3c47e" d="M532.4,370.1h0M513.2,353.7h0M521.7,351.1h0M510.2,343.4h0M532.0,372.8h0M521.1,368.2h0M510.7,379.6h0M510.4,364.0h0M525.1,374.4h0M504.0,353.5h0M534.2,372.4h0"/>
<path stroke="#8fdc96" d="M626.5,456.8h0M596.1,475.5h0M616.3,431.4h0M619.6,459.0h0M610.7,465.0h0M613.5,432.6h0M617.3,455.7h0M589.7,479.6h0M612.5,478.2h0M594.2,480.5h0"/>
<path stroke="#d0883e" d="M542.3,480.9h0M526.1,476.2h0M511.9,488.2h0M493.6,480.8h0M489.1,487.7h0M490.7,484.8h0M479.4,495.0h0M525.1,480.7h0M526.1,496.3h0M513.6,488.3h0M512.8,468.5h0"/>
<path stroke="#8b50c0" d="M470.8,490.7h0M454.3,488.2h0M432.7,498.5h0M482.6,483.9h0M455.9,489.7h0M436.7,497.2h0M442.4,483.9h0"/>
<path stroke="#8e3545" d="M587.1,454.0h0M596.7,467.8h0M571.5,488.5h0M583.8,435.4h0M582.2,440.7h0M581.6,477.1h0M568.3,468.6h0M600.3,463.7h0M629.9,449.7h0M590.4,473.9h0M603.6,447.4h0"/>
<path stroke="#d8a040" d="M460.5,482.3h0M449.6,486.0h0M458.3,483.4h0M452.1,482.0h0M436.3,486.9h0M424.0,488.3h0M452.3,490.7h0M455.9,491.0h0M435.3,493.4h0M457.7,472.0h0"/>
<path stroke="#639dd6" d="M598.3,499.9h0M568.5,490.2h0M597.4,497.3h0M574.0,487.5h0M584.8,494.7h0M582.4,495.9h0M591.0,498.9h0M593.8,499.1h0"/>
<path stroke="#de6530" d="M583.8,380.0h0M586.0,338.5h0M573.6,383.6h0M584.6,348.5h0M578.1,365.9h0M579.6,343.5h0M563.5,356.6h0M556.0,388.8h0M571.6,355.1h0M576.9,370.6h0"/>
<path stroke="#646bd8" d="M545.4,458.2h0M558.3,448.6h0M556.4,464.2h0M540.7,459.1h0M561.6,451.7h0M542.5,460.8h0M563.3,442.9h0M557.1,464.0h0M566.9,437.3h0M550.5,461.3h0"/>
<path stroke="#639dd6" d="M580.5,499.1h0M574.5,497.5h0M592.1,495.5h0M587.8,490.8h0M576.2,498.9h0M579.5,496.9h0M581.1,499.6h0M572.5,500.1h0"/>
<path stroke="#646bd8" d="M546.3,459.3h0M563.9,453.0h0M541.8,456.0h0M564.5,458.9h0M543.6,457.2h0M567.3,468.5h0M579.9,454.3h0M558.7,464.7h0M555.8,442.8h0M552.6,448.8h0"/>
<path stroke="#d4a874" d="M507.8,325.4h0M527.3,328.5h0M540.3,313.4h0M544.2,330.1h0M481.2,327.4h0M515.8,334.4h0M521.6,325.7h0M517.9,329.6h0M508.9,317.2h0M526.5,325.6h0M512.3,335.5h0"/>
<path stroke="#d98596" d="M625.6,404.7h0M595.1,354.4h0M613.6,372.8h0M618.6,374.4h0M609.6,353.4h0M610.0,395.0h0M614.5,362.6h0M616.5,367.7h0M613.8,341.4h0M603.0,362.8h0M608.7,358.1h0"/>
<path stroke="#7a3f80" d="M514.5,428.0h0M489.1,412.9h0M509.6,412.8h0M494.4,380.3h0M515.4,399.9h0M490.5,417.9h0M496.7,409.9h0M523.5,400.4h0M540.8,394.6h0M479.8,404.3h0"/>
<path stroke="#b3c47e" d="M501.9,357.6h0M518.2,362.2h0M519.3,369.4h0M510.5,359.7h0M531.3,348.7h0M511.6,358.5h0M515.5,363.8h0M514.8,380.4h0M526.3,365.4h0M515.1,364.7h0"/>
<path stroke="#d98596" d="M617.5,331.2h0M602.5,358.1h0M596.6,342.4h0M592.1,357.4h0M611.2,363.5h0M605.3,349.0h0M608.6,351.6h0M599.1,354.8h0M619.8,353.1h0M612.0,380.7h0"/>
<path stroke="#cc4878" d="M478.9,449.7h0M476.7,447.6h0M486.4,454.4h0M492.2,461.4h0M530.5,456.7h0M478.3,460.6h0M508.6,457.8h0M493.6,456.9h0M516.8,458.7h0M490.2,458.0h0"/>
<path stroke="#995733" d="M499.1,361.3h0M529.7,370.9h0M516.7,366.8h0M539.9,381.9h0M528.0,360.8h0M535.4,364.7h0M536.1,377.5h0M514.5,384.6h0M535.4,360.6h0M527.8,385.5h0M533.9,381.1h0"/>
<path stroke="#b02828" d="M451.7,477.3h0M480.1,478.9h0M480.4,483.0h0"/>
<path stroke="#d2cc58" d="M548.5,423.6h0M561.4,439.2h0M564.8,447.2h0M552.8,429.5h0M558.1,431.2h0M565.0,406.0h0M558.0,428.9h0M563.0,442.3h0M539.1,421.6h0M555.4,415.6h0"/>
<path stroke="#8b3d6a" d="M459.0,438.9h0M490.7,430.9h0M462.4,446.5h0M472.0,454.2h0M510.2,420.7h0M485.8,430.5h0M483.2,421.6h0M456.0,442.5h0M504.0,440.2h0M479.9,437.3h0"/>
<path stroke="#7a7030" d="M476.7,469.0h0M492.1,484.9h0M486.0,483.2h0M479.6,482.7h0M491.9,479.8h0M479.7,476.0h0M504.0,483.6h0M496.6,493.0h0M470.9,471.6h0M496.5,481.9h0M500.0,494.5h0"/>
<path stroke="#d2cc58" d="M559.3,412.6h0M557.6,424.5h0M549.3,435.0h0M533.8,419.5h0M558.1,410.1h0M556.7,422.5h0M533.4,451.0h0M541.1,423.1h0M546.8,411.6h0M548.3,405.9h0"/>
<path stroke="#4a4f9a" d="M561.8,383.8h0M555.4,411.0h0M566.7,410.5h0M540.4,412.7h0M550.5,401.7h0M559.7,401.6h0M534.4,392.6h0M539.9,385.5h0M546.8,374.8h0M535.3,418.5h0"/>
<path stroke="#4e8860" d="M533.0,512.9h0M539.1,503.4h0M539.3,490.0h0M507.1,493.9h0M606.6,500.3h0M511.9,507.0h0M557.9,502.4h0M516.3,507.0h0M538.0,503.1h0M584.6,483.8h0M556.7,491.7h0M564.6,495.1h0"/>
<path stroke="#8fdc96" d="M608.7,463.1h0M652.1,487.1h0M614.6,452.2h0M615.8,464.9h0M617.6,467.6h0M592.8,472.2h0M597.6,464.2h0M578.6,455.7h0M613.6,464.3h0M611.5,485.8h0M605.3,455.0h0"/>
<path stroke="#d98596" d="M608.2,353.1h0M617.2,349.7h0M604.7,351.2h0M622.8,364.2h0M615.7,356.9h0M621.5,344.4h0M615.0,360.5h0M611.8,359.9h0M628.9,360.2h0M615.6,342.3h0"/>
<path stroke="#4a4f9a" d="M558.2,399.9h0M555.0,395.2h0M552.1,371.1h0M538.8,357.4h0M568.0,413.4h0M547.8,425.3h0M557.8,432.0h0M543.5,412.9h0M549.4,425.3h0M563.2,403.8h0"/>
<path stroke="#4d8840" d="M546.9,493.7h0M501.8,490.9h0M569.3,513.7h0M537.5,478.1h0M529.1,478.7h0M525.0,495.1h0M533.7,499.8h0M518.7,501.3h0M561.2,510.2h0M519.2,496.9h0"/>
<path stroke="#8fdc96" d="M609.9,439.3h0M609.7,467.4h0M590.4,476.5h0M624.8,462.9h0M612.8,484.9h0M617.8,433.9h0M622.8,455.8h0M609.4,461.1h0M614.9,488.0h0M611.4,437.6h0"/>
<path stroke="#b3c47e" d="M506.7,383.1h0M527.0,353.8h0M514.3,352.7h0M520.6,342.6h0M506.8,349.0h0M509.5,381.5h0M519.7,379.9h0M532.2,355.8h0M515.8,354.1h0M507.4,355.3h0"/>
<path stroke="#4e8860" d="M542.2,498.4h0M552.2,503.0h0M488.9,494.3h0M559.0,508.1h0M564.8,505.0h0M511.7,498.0h0M544.3,503.9h0M524.3,498.8h0M554.2,491.2h0M560.8,505.1h0M534.5,497.5h0"/>
<path stroke="#de6530" d="M584.0,354.4h0M582.4,374.9h0M597.2,354.1h0M582.4,368.4h0M569.0,374.0h0M576.4,385.2h0M585.6,354.0h0M563.7,392.5h0M591.8,341.1h0M592.9,358.8h0"/>
<path stroke="#d4a874" d="M540.2,326.1h0M512.7,337.4h0M504.7,327.4h0M528.2,344.2h0M499.8,335.0h0M507.7,328.6h0M504.6,326.1h0M509.5,337.2h0M518.2,335.0h0M494.8,321.7h0M521.3,325.8h0"/>
<path stroke="#995733" d="M527.5,367.0h0M519.4,365.8h0M523.3,379.0h0M510.0,383.0h0M536.0,378.9h0M517.7,394.8h0M509.2,374.2h0M529.9,386.8h0M537.3,384.0h0M516.4,382.3h0"/>
<path stroke="#646bd8" d="M562.2,451.9h0M558.9,466.2h0M555.4,454.8h0M545.3,462.2h0M537.4,452.3h0M554.3,454.1h0M565.7,463.9h0M559.1,448.9h0M552.4,448.0h0M566.4,463.9h0M544.0,455.1h0"/>
<path stroke="#85b84a" d="M548.4,450.4h0M523.0,462.0h0M539.0,450.9h0M548.1,453.7h0M539.7,448.8h0M507.0,455.3h0M538.4,444.7h0M545.9,440.6h0M506.1,455.1h0M522.0,442.6h0"/>
<path stroke="#c391d6" d="M475.1,363.1h0M477.5,372.8h0M489.7,371.5h0M456.7,391.4h0M443.3,389.9h0M494.5,362.2h0M487.7,385.2h0M492.6,355.0h0M492.9,384.1h0M479.3,358.6h0M457.2,392.2h0"/>
<path stroke="#85b84a" d="M547.5,455.3h0M537.1,436.7h0M520.0,455.9h0M534.6,454.4h0M515.2,431.4h0M510.0,463.4h0M528.7,438.0h0M535.3,440.5h0M520.8,453.6h0M522.4,461.8h0"/>
<path stroke="#d4a874" d="M511.6,330.8h0M513.6,349.4h0M510.9,343.2h0M514.9,335.7h0M536.9,316.1h0M529.6,330.5h0M509.8,345.1h0M477.8,332.8h0M539.8,335.7h0M535.3,336.3h0M499.3,332.0h0"/>
<path stroke="#4e8860" d="M558.4,518.4h0M514.3,501.1h0M535.4,497.1h0M511.2,497.2h0M593.7,501.3h0M516.5,494.4h0M538.2,498.7h0M536.8,491.0h0M524.0,505.9h0M524.9,505.4h0M573.7,495.2h0M556.0,502.0h0"/>
<path stroke="#d8a040" d="M433.0,492.0h0M427.2,491.1h0M465.6,484.6h0M438.2,485.1h0M463.6,477.4h0M465.3,478.1h0M428.4,490.6h0M445.7,486.8h0M423.7,481.4h0M465.8,485.8h0M449.7,480.0h0"/>
<path stroke="#de6530" d="M577.6,372.7h0M594.4,340.0h0M584.4,346.3h0M590.6,378.2h0M591.4,341.9h0M584.1,347.4h0M593.8,364.1h0M590.0,369.6h0M580.7,345.9h0M576.9,375.6h0M569.8,385.5h0"/>
<path stroke="#7a7030" d="M478.6,484.3h0M491.9,485.9h0M458.9,487.9h0M506.5,485.6h0M485.1,485.3h0M473.4,478.2h0M481.3,473.1h0M489.7,484.2h0M464.3,483.7h0M468.2,495.9h0"/>
<path stroke="#4e8860" d="M555.7,503.0h0M540.4,500.7h0M538.0,508.6h0M536.5,492.4h0M529.1,508.6h0M531.7,498.6h0M521.8,500.8h0M536.2,504.5h0M590.0,485.0h0M514.5,495.9h0M563.2,499.8h0M560.8,497.1h0"/>
<path stroke="#4a4f9a" d="M554.0,380.3h0M545.3,410.0h0M549.3,411.5h0M524.0,404.7h0M567.9,354.7h0M533.2,419.5h0M546.2,392.1h0M536.9,395.4h0M548.0,399.3h0M527.2,410.0h0M521.1,399.8h0"/>
<path stroke="#d4a874" d="M504.1,317.4h0M507.9,326.6h0M503.2,343.4h0M545.4,328.4h0M515.2,338.5h0M544.2,324.5h0M546.3,324.8h0M493.0,326.3h0M542.1,328.0h0M533.9,323.5h0M523.5,324.1h0"/>
<path stroke="#d98596" d="M602.4,371.0h0M626.9,354.5h0M613.2,358.4h0M601.1,359.2h0M616.7,364.8h0M614.5,343.4h0M605.8,365.0h0M608.9,363.7h0M608.0,347.1h0M598.4,335.2h0M615.3,367.0h0"/>
<path stroke="#d98596" d="M612.3,344.8h0M618.5,347.0h0M613.2,347.1h0M606.9,361.3h0M606.6,383.3h0M599.9,354.7h0M599.5,371.2h0M613.5,365.5h0M603.6,361.1h0M605.1,340.7h0"/>
<path stroke="#d2cc58" d="M566.1,418.4h0M542.4,433.0h0M548.0,426.7h0M557.8,427.7h0M544.1,430.3h0M543.8,424.3h0M546.3,426.0h0M546.9,435.9h0M563.1,419.3h0M569.0,426.8h0M539.0,419.0h0"/>
<path stroke="#de6530" d="M589.7,343.7h0M572.3,386.5h0M565.3,345.6h0M590.7,347.2h0M594.0,349.7h0M582.8,372.1h0M583.2,349.3h0M573.3,343.4h0M563.4,378.7h0M595.1,347.1h0M590.1,345.0h0"/>
<path stroke="#995733" d="M505.0,398.0h0M533.9,374.2h0M510.6,368.3h0M522.9,387.8h0M534.2,401.4h0M533.1,381.3h0M532.5,356.7h0M528.2,383.8h0M534.2,377.8h0M540.0,382.5h0"/>
<path stroke="#8b3d6a" d="M467.5,444.2h0M491.3,425.9h0M510.9,440.6h0M467.0,434.9h0M467.6,435.0h0M463.1,461.2h0M491.8,439.9h0M473.7,443.7h0M501.4,444.1h0M500.9,448.1h0M496.1,432.6h0"/>
<path stroke="#7dd3c3" d="M589.3,401.7h0M604.0,385.6h0M603.7,363.6h0M586.6,379.1h0M606.9,372.2h0M621.4,372.5h0M587.6,354.5h0M614.4,384.6h0M616.5,379.4h0M605.1,380.0h0M601.6,359.1h0"/>
<path stroke="#8e3545" d="M621.4,444.7h0M603.1,452.8h0M606.1,443.7h0M568.1,430.3h0M597.1,444.1h0M606.6,422.0h0M622.7,471.1h0M592.6,458.2h0M587.6,442.8h0M591.6,464.6h0"/>
<path stroke="#cc4878" d="M502.7,463.4h0M488.2,462.0h0M477.7,465.4h0M489.3,455.5h0M498.9,459.0h0M481.6,448.3h0M489.3,450.5h0M481.6,455.7h0M477.4,468.1h0M483.0,458.5h0M476.5,457.8h0"/>
<path stroke="#c391d6" d="M495.9,367.5h0M483.5,354.4h0M475.5,368.2h0M470.9,359.1h0M489.9,368.5h0M483.5,363.8h0M479.4,355.1h0M484.0,370.6h0M479.3,363.4h0M444.4,384.7h0"/>
<path stroke="#b3c47e" d="M526.9,355.5h0M511.7,364.1h0M492.6,372.8h0M501.5,363.7h0M518.3,379.6h0M513.4,378.2h0M509.1,372.2h0M508.3,382.5h0M523.2,364.7h0M526.8,358.7h0"/>
<path stroke="#b02828" d="M463.8,476.4h0M487.1,462.8h0M510.7,477.3h0"/>
<path stroke="#b02828" d="M452.6,479.9h0M464.5,477.9h0M479.0,470.0h0"/>
<path stroke="#85b84a" d="M533.5,455.1h0M529.4,437.1h0M556.2,439.0h0M548.6,450.8h0M532.6,453.8h0M504.6,446.9h0M530.4,457.2h0M523.9,445.3h0M552.2,450.7h0M527.6,452.2h0M544.5,442.6h0"/>
<path stroke="#85b84a" d="M514.6,441.7h0M549.2,444.2h0M537.3,459.8h0M546.6,459.2h0M536.4,456.7h0M547.2,441.2h0M512.6,449.7h0M526.8,449.4h0M521.4,459.3h0M505.2,450.7h0"/>
<path stroke="#cc4878" d="M494.5,463.7h0M469.2,452.8h0M499.2,450.2h0M499.9,459.1h0M473.9,462.4h0M519.3,448.2h0M506.5,459.9h0M471.6,465.1h0M501.2,453.7h0M504.1,456.1h0"/>
<path stroke="#6e88d0" d="M579.1,471.8h0M588.4,446.4h0M597.1,481.8h0M591.6,474.1h0M574.1,460.9h0M593.7,460.9h0M576.1,467.3h0M581.2,465.8h0M566.3,449.4h0M598.1,475.2h0M615.0,453.8h0"/>
<path stroke="#c391d6" d="M495.7,367.2h0M452.9,368.8h0M470.8,363.4h0M521.5,367.8h0M465.6,362.7h0M510.2,365.5h0M472.9,361.5h0M468.5,377.2h0M513.4,358.8h0M482.0,357.5h0"/>
<path stroke="#4e8860" d="M567.5,496.2h0M587.5,485.0h0M515.8,494.0h0M562.1,500.8h0M565.0,503.6h0M528.0,501.9h0M532.9,490.0h0M582.0,496.6h0M523.7,496.5h0M534.4,503.7h0M537.4,497.7h0M532.6,498.4h0"/>
<path stroke="#c391d6" d="M477.2,390.3h0M531.2,365.7h0M488.3,364.7h0M483.1,371.3h0M481.6,374.4h0M471.7,372.9h0M486.2,377.6h0M454.1,392.6h0M476.9,370.4h0M486.3,382.6h0M529.9,358.8h0"/>
<path stroke="#995733" d="M535.6,387.4h0M519.7,371.6h0M527.8,380.2h0M524.9,379.9h0M537.6,365.5h0M516.6,394.1h0M521.8,379.1h0M541.0,365.4h0M530.5,385.0h0M525.0,392.1h0M537.4,354.3h0"/>
<path stroke="#6e88d0" d="M572.8,471.1h0M595.1,477.5h0M560.4,481.9h0M573.3,466.6h0M560.1,445.0h0M550.1,457.5h0M573.7,494.2h0M558.0,456.4h0M584.1,455.0h0M592.2,472.2h0"/>
<path stroke="#d8a040" d="M449.9,481.5h0M438.0,483.6h0M466.1,490.0h0M425.6,486.9h0M449.8,481.6h0M463.2,483.6h0M454.1,484.4h0M449.9,487.2h0M463.6,483.1h0M442.0,494.4h0M445.8,487.2h0"/>
<path stroke="#de6530" d="M599.6,374.7h0M579.9,367.0h0M599.4,373.0h0M584.8,368.2h0M589.8,346.3h0M572.1,380.1h0M574.9,344.2h0M568.6,364.5h0M599.3,370.1h0M581.6,380.8h0"/>
<path stroke="#b02828" d="M490.3,491.0h0M518.6,470.6h0M520.7,475.2h0"/>
<path stroke="#c391d6" d="M481.0,389.0h0M532.6,358.2h0M442.8,378.7h0M476.2,374.3h0M476.0,370.7h0M491.9,385.7h0M500.9,376.9h0M490.3,372.1h0M471.4,365.0h0M517.9,357.7h0"/>
<path stroke="#995733" d="M518.0,390.6h0M511.5,385.1h0M543.6,381.1h0M541.2,377.2h0M524.5,380.1h0M536.2,365.0h0M529.5,364.4h0M539.2,385.6h0M528.1,390.1h0M517.9,381.7h0"/>
<path stroke="#d98596" d="M610.4,380.1h0M599.9,348.8h0M603.4,366.4h0M622.9,353.3h0M605.0,352.2h0M605.0,349.2h0M602.7,363.5h0M608.0,349.5h0M614.9,355.2h0M613.9,372.9h0"/>
<path stroke="#7dd3c3" d="M609.4,371.8h0M548.4,380.9h0M596.3,368.4h0M599.4,357.8h0M615.1,376.1h0M585.0,363.8h0M604.7,385.4h0M599.3,385.7h0M618.7,353.1h0M570.1,372.7h0"/>
<path stroke="#7a3f80" d="M549.5,389.5h0M482.6,403.2h0M464.5,406.2h0M463.3,395.5h0M497.4,410.9h0M536.4,415.1h0M517.8,399.7h0M525.7,401.5h0M511.5,422.6h0M493.2,397.7h0"/>
<path stroke="#7a7030" d="M470.7,477.1h0M479.6,476.0h0M486.9,480.4h0M464.4,481.1h0M486.8,484.7h0M499.9,494.1h0M485.6,474.7h0M461.3,478.1h0M477.0,477.8h0M473.4,486.8h0"/>
<path stroke="#7a7030" d="M502.4,485.4h0M494.3,485.9h0M491.9,477.3h0M484.0,488.9h0M470.2,485.9h0M477.8,482.4h0M502.8,479.1h0M480.6,481.3h0M474.2,490.9h0M450.3,481.8h0"/>
<path stroke="#7a7030" d="M484.8,486.5h0M502.0,481.3h0M519.4,481.5h0M480.7,484.8h0M465.7,479.8h0M484.5,475.4h0M475.1,489.9h0M478.6,481.3h0M491.4,487.1h0M496.5,486.0h0M457.7,488.6h0"/>
<path stroke="#4e8860" d="M525.4,493.2h0M550.8,506.1h0M577.3,509.4h0M513.2,496.9h0M524.6,495.1h0M527.6,493.8h0M562.9,500.8h0M541.9,499.9h0M543.7,500.7h0M515.4,507.3h0M585.5,480.0h0"/>
<path stroke="#d98596" d="M273.7,666.3h0M269.4,634.3h0M265.3,650.8h0M266.2,630.2h0M266.9,642.5h0M272.4,649.2h0M274.8,639.7h0M256.6,642.8h0M253.6,637.5h0M263.0,632.3h0"/>
<path stroke="#b02828" d="M152.4,722.5h0M111.3,717.3h0M117.8,716.9h0M87.5,715.3h0"/>
<path stroke="#b02828" d="M143.5,716.4h0M134.8,716.5h0M120.2,714.8h0"/>
<path stroke="#639dd6" d="M137.6,775.1h0M89.9,773.9h0M112.7,775.6h0M126.2,770.0h0M140.6,773.3h0M147.1,778.7h0M94.3,779.1h0M131.1,780.9h0M179.6,783.4h0M123.4,778.8h0"/>
<path stroke="#639dd6" d="M119.9,774.2h0M128.7,780.9h0M111.7,770.3h0M119.0,784.0h0M147.8,776.1h0M121.5,782.2h0M156.6,776.7h0M131.9,778.7h0M114.3,786.3h0M124.0,770.9h0"/>
<path stroke="#c656b8" d="M150.3,742.7h0M169.9,750.5h0M149.7,749.9h0M137.4,756.9h0M148.7,746.0h0M157.3,746.3h0M131.2,751.8h0M133.3,743.6h0M159.4,749.1h0"/>
<path stroke="#d98596" d="M254.4,638.6h0M254.9,649.6h0M261.1,652.2h0M295.0,633.2h0M308.4,641.9h0M292.4,633.2h0M261.8,625.7h0M280.0,651.3h0M272.9,637.1h0M255.9,652.6h0"/>
<path stroke="#639dd6" d="M122.3,773.8h0M145.2,777.5h0M123.5,778.5h0M132.7,786.4h0M141.3,773.2h0M152.8,784.9h0M111.3,778.5h0M112.2,769.3h0M129.7,777.6h0M120.1,781.0h0"/>
<path stroke="#6e88d0" d="M150.8,698.2h0M155.1,708.2h0M140.8,685.6h0M147.1,710.9h0M150.0,706.7h0M152.7,705.8h0M156.6,719.4h0M150.8,708.3h0M142.0,712.3h0M163.2,686.4h0"/>
<path stroke="#d8a040" d="M103.3,714.1h0M127.5,708.4h0M99.5,715.4h0M92.9,716.9h0M95.4,720.4h0M82.9,711.4h0M113.2,716.2h0M107.7,720.6h0M123.6,713.9h0M96.3,717.6h0"/>
<path stroke="#b02828" d="M124.5,726.8h0M110.1,722.2h0M99.7,707.7h0"/>
<path stroke="#b3c47e" d="M182.1,619.9h0M173.4,611.4h0M190.6,621.3h0M192.0,611.4h0M185.2,615.4h0M190.3,617.2h0M201.9,616.5h0M180.1,623.5h0M197.4,613.2h0M208.2,621.7h0"/>
<path stroke="#85b84a" d="M200.9,689.1h0M221.9,688.6h0M204.8,708.4h0M196.0,695.6h0M207.5,683.6h0M196.0,706.9h0M196.7,689.6h0M186.7,701.1h0M198.2,697.7h0M186.6,691.4h0"/>
<path stroke="#4d8840" d="M85.4,755.3h0M154.4,740.6h0M140.5,757.4h0M131.2,753.7h0M82.5,752.8h0M155.4,756.9h0M151.4,747.6h0M136.6,750.7h0M118.5,748.8h0M130.1,757.2h0M136.4,751.2h0"/>
<path stroke="#995733" d="M157.9,620.0h0M169.0,621.2h0M164.4,648.3h0M166.5,640.2h0M158.6,633.2h0M170.3,626.0h0M173.9,627.3h0M168.0,641.8h0M160.0,632.3h0M158.1,617.4h0"/>
<path stroke="#d4a874" d="M167.6,600.6h0M169.6,593.1h0M170.9,587.8h0M166.1,587.9h0M156.9,586.4h0M155.8,595.2h0M156.8,593.0h0M134.5,586.8h0M142.6,586.9h0M147.1,593.2h0"/>
<path stroke="#995733" d="M159.4,621.0h0M163.8,638.9h0M164.4,631.9h0M175.9,641.4h0M163.0,630.7h0M174.0,637.7h0M172.6,647.9h0M158.7,622.3h0M151.2,629.5h0M167.9,638.0h0M162.3,625.9h0"/>
<path stroke="#d8a040" d="M99.3,719.7h0M94.9,710.5h0M81.7,714.1h0M96.7,722.2h0M92.7,714.5h0M110.9,714.2h0M92.6,714.4h0M95.1,718.6h0M124.6,721.6h0M95.1,713.5h0"/>
<path stroke="#d4a874" d="M190.8,596.5h0M154.9,598.0h0M160.9,592.7h0M162.6,594.2h0M188.6,590.5h0M166.4,600.3h0M157.4,592.5h0M161.1,597.3h0M154.0,588.5h0M186.6,592.9h0"/>
<path stroke="#995733" d="M153.3,634.6h0M162.8,633.3h0M155.2,631.9h0M152.5,633.4h0M165.8,633.3h0M149.2,623.9h0M168.5,616.8h0M157.2,632.9h0M167.7,649.7h0M167.1,639.5h0"/>
<path stroke="#4a4f9a" d="M185.8,618.8h0M197.8,653.4h0M200.1,648.3h0M206.7,632.9h0M234.6,657.3h0M170.7,658.1h0M173.6,660.7h0M203.5,672.2h0M186.0,662.6h0M197.9,650.2h0M183.9,644.7h0"/>
<path stroke="#c656b8" d="M166.4,742.5h0M161.3,744.2h0M139.8,750.1h0M142.5,748.7h0M151.4,740.6h0M153.7,743.5h0M146.5,744.4h0M157.8,745.4h0M166.7,743.4h0"/>
<path stroke="#995733" d="M166.2,637.8h0M167.4,630.8h0M157.1,625.5h0M171.6,636.0h0M164.4,631.9h0M170.6,628.9h0M167.9,623.9h0M161.4,635.0h0M158.4,631.2h0M165.6,626.4h0"/>
<path stroke="#8b50c0" d="M84.5,718.0h0M95.1,729.8h0M91.6,726.8h0M124.0,730.0h0M96.4,734.8h0M102.5,725.5h0M102.0,729.5h0M88.4,734.7h0"/>
<path stroke="#d4a874" d="M157.0,590.1h0M189.4,587.8h0M181.6,594.4h0M161.0,590.8h0M159.0,597.7h0M162.3,591.5h0M184.4,592.0h0M156.1,587.3h0M153.0,592.9h0M166.6,601.4h0"/>
<path stroke="#4a4f9a" d="M194.1,666.9h0M212.6,647.9h0M193.3,643.1h0M210.3,663.6h0M179.8,683.1h0M178.0,637.7h0M220.7,650.8h0M179.0,659.6h0M211.4,659.1h0M203.6,647.9h0"/>
<path stroke="#de6530" d="M249.5,646.4h0M252.8,643.3h0M223.4,627.6h0M271.2,619.8h0M254.6,647.6h0M225.7,623.6h0M255.0,643.1h0M231.5,625.2h0M236.3,648.0h0M222.7,630.9h0M248.3,641.9h0"/>
<path stroke="#cc4878" d="M80.3,676.6h0M109.6,685.1h0M88.2,679.3h0M112.4,681.7h0M78.6,660.8h0M95.0,673.7h0M94.0,666.1h0M98.4,673.6h0M85.2,674.2h0M104.8,682.2h0"/>
<path stroke="#b02828" d="M105.4,728.8h0M122.8,726.5h0M108.2,723.9h0M148.3,714.8h0"/>
<path stroke="#4a4f9a" d="M216.4,650.0h0M221.9,649.6h0M175.3,636.6h0M203.2,655.5h0M173.3,651.4h0M165.6,629.0h0M206.0,646.9h0M211.5,640.0h0M216.3,642.2h0M217.6,645.8h0"/>
<path stroke="#85b84a" d="M211.9,682.1h0M191.4,697.5h0M203.6,683.2h0M196.6,695.9h0M215.0,695.2h0M216.7,685.1h0M179.6,694.2h0M202.0,685.8h0M197.7,689.5h0M181.4,686.4h0"/>
<path stroke="#cc4878" d="M107.7,674.4h0M79.9,674.5h0M78.1,665.2h0M75.2,669.9h0M99.6,674.3h0M95.4,679.0h0M95.5,684.9h0M88.0,675.9h0M73.8,677.3h0M80.0,679.3h0"/>
<path stroke="#c391d6" d="M145.9,612.6h0M153.8,608.9h0M163.9,610.5h0M126.9,607.3h0M151.0,617.6h0M129.5,602.5h0M154.3,601.4h0M118.9,604.7h0M156.1,611.1h0M161.0,610.2h0M138.5,608.7h0"/>
<path stroke="#b02828" d="M118.8,720.0h0M108.0,708.7h0M124.8,715.9h0"/>
<path stroke="#de6530" d="M217.1,626.1h0M216.0,622.6h0M231.6,628.8h0M256.6,639.3h0M253.0,642.4h0M218.7,625.3h0M259.1,647.0h0M241.6,630.4h0M224.0,630.1h0M268.4,612.4h0"/>
<path stroke="#639dd6" d="M109.3,775.8h0M147.1,780.6h0M115.1,767.9h0M124.5,779.4h0M110.6,776.7h0M126.7,775.6h0M115.5,773.1h0M133.4,773.5h0M144.3,785.8h0M136.4,777.0h0"/>
<path stroke="#4d8840" d="M101.3,747.1h0M114.7,755.4h0M128.5,750.6h0M163.2,745.1h0M105.7,754.1h0M133.4,750.1h0M108.1,747.6h0M127.6,749.8h0M96.6,739.1h0M121.2,753.7h0"/>
<path stroke="#7a3f80" d="M120.5,635.4h0M132.3,650.2h0M109.3,643.3h0M126.6,636.9h0M134.1,640.6h0M158.2,644.9h0M131.2,653.4h0M120.8,640.8h0M128.6,643.8h0M133.0,650.6h0"/>
<path stroke="#995733" d="M159.2,633.5h0M167.8,616.6h0M162.7,642.8h0M170.1,636.3h0M157.6,628.3h0M167.6,629.6h0M158.4,628.3h0M158.8,628.4h0M148.0,636.9h0M154.7,628.8h0"/>
<path stroke="#b02828" d="M67.3,715.7h0M116.6,726.2h0M132.9,726.6h0"/>
<path stroke="#de6530" d="M238.7,642.3h0M255.1,642.3h0M267.9,642.4h0M246.4,636.9h0M234.7,629.2h0M256.1,659.7h0M249.3,645.3h0M251.2,642.5h0M231.1,629.0h0M262.9,643.4h0"/>
<path stroke="#7a7030" d="M128.6,749.0h0M128.1,718.6h0M108.3,727.7h0M113.6,711.2h0M124.4,740.8h0M122.0,725.6h0M122.4,720.1h0M139.0,739.9h0M158.3,698.6h0M157.2,715.3h0"/>
<path stroke="#d0883e" d="M102.6,729.9h0M136.1,735.8h0M105.1,735.9h0M130.7,724.5h0M113.9,740.3h0M120.0,741.0h0M180.8,710.5h0M119.0,727.8h0M143.6,721.6h0M128.6,752.6h0"/>
<path stroke="#4a4f9a" d="M170.5,651.8h0M212.2,632.5h0M195.7,653.2h0M213.1,623.2h0M205.0,669.4h0M205.3,655.8h0M211.1,665.6h0M178.7,650.1h0M180.2,651.3h0M213.8,644.7h0"/>
<path stroke="#c656b8" d="M152.4,744.9h0M156.3,743.8h0M126.3,745.6h0M165.6,745.6h0M181.1,749.4h0M167.3,753.3h0M145.1,751.4h0M166.2,746.5h0M141.4,744.7h0M130.5,751.2h0"/>
<path stroke="#b3c47e" d="M185.7,617.4h0M204.0,610.2h0M183.6,609.0h0M192.2,621.0h0M184.9,609.5h0M164.9,616.9h0M193.7,611.0h0M196.2,610.5h0M188.1,610.2h0M197.4,610.7h0M196.9,613.9h0"/>
<path stroke="#7a7030" d="M107.7,714.0h0M107.9,721.9h0M129.7,731.0h0M124.1,729.8h0M140.6,715.4h0M142.2,727.7h0M136.0,726.9h0M104.2,733.5h0M128.4,714.3h0M134.3,721.7h0M114.9,756.3h0"/>
<path stroke="#d98596" d="M283.4,640.6h0M284.7,652.5h0M288.8,649.1h0M283.1,633.9h0M279.4,657.3h0M265.1,637.0h0M283.7,636.8h0M263.7,645.6h0M291.6,641.1h0M307.7,631.4h0"/>
<path stroke="#646bd8" d="M259.5,698.2h0M253.1,696.5h0M254.6,702.0h0M249.1,695.3h0M250.4,699.1h0M267.2,697.3h0M277.9,706.6h0M237.3,697.9h0M257.1,709.2h0M251.1,703.4h0"/>
<path stroke="#de6530" d="M252.8,646.5h0M220.1,628.6h0M251.0,641.0h0M253.0,638.0h0M262.9,615.0h0M260.3,640.2h0M259.0,643.2h0M263.2,642.8h0M250.2,637.7h0M228.9,629.5h0"/>
<path stroke="#8b3d6a" d="M131.4,668.2h0M143.4,685.9h0M140.5,659.6h0M145.4,664.8h0M143.4,679.8h0M134.1,683.2h0M135.6,665.7h0M135.4,657.0h0M146.7,673.5h0M128.7,673.7h0"/>
<path stroke="#8b3d6a" d="M106.0,673.0h0M134.3,673.8h0M130.6,666.4h0M143.9,685.6h0M153.3,670.4h0M137.9,667.5h0M120.5,678.6h0M131.0,675.0h0M121.3,679.8h0M148.2,678.6h0"/>
<path stroke="#4a4f9a" d="M230.5,655.1h0M211.5,637.4h0M213.1,650.0h0M190.5,654.3h0M207.5,667.5h0M193.9,645.2h0M189.6,661.1h0M203.0,658.0h0M182.2,659.7h0M180.6,654.1h0M202.0,634.4h0"/>
<path stroke="#d0883e" d="M132.5,737.4h0M157.2,736.1h0M147.9,750.5h0M124.0,729.8h0M161.6,733.6h0M96.9,739.0h0M134.4,725.8h0M124.5,733.7h0M191.4,746.6h0M148.5,725.7h0"/>
<path stroke="#8b50c0" d="M94.0,733.1h0M113.2,725.4h0M81.3,733.8h0M112.4,731.3h0M117.7,731.0h0M108.1,737.6h0M105.9,726.5h0M99.5,732.4h0"/>
<path stroke="#8b50c0" d="M116.0,732.6h0M98.7,725.2h0M98.9,724.2h0M94.7,732.4h0M90.4,725.5h0M97.2,726.6h0M120.8,728.1h0M117.5,727.0h0"/>
<path stroke="#85b84a" d="M198.8,692.6h0M199.6,695.0h0M195.0,694.8h0M227.8,688.9h0M198.1,694.7h0M202.4,701.5h0M194.3,704.9h0M189.7,687.5h0M193.0,698.6h0M205.5,690.1h0"/>
<path stroke="#7a3f80" d="M136.7,643.5h0M155.7,635.5h0M118.3,646.4h0M136.3,640.0h0M119.2,635.3h0M132.8,638.3h0M144.2,646.5h0M142.2,643.1h0M146.8,652.8h0M141.6,645.8h0"/>
<path stroke="#c391d6" d="M129.9,612.7h0M136.2,617.6h0M174.8,611.2h0M124.6,616.0h0M130.2,606.7h0M158.8,608.1h0M138.0,611.2h0M141.1,606.2h0M163.7,609.7h0M150.7,614.8h0"/>
<path stroke="#4d8840" d="M104.4,746.5h0M162.8,751.0h0M115.8,753.8h0M134.6,753.7h0M82.4,745.6h0M113.2,742.1h0M100.6,735.2h0M146.7,745.3h0M139.8,743.4h0M127.9,753.3h0"/>
<path stroke="#85b84a" d="M204.0,685.2h0M194.8,691.6h0M185.3,686.2h0M201.8,684.8h0M204.1,681.0h0M195.8,691.9h0M211.9,688.1h0M195.9,687.9h0M189.3,684.5h0M206.1,685.1h0"/>
<path stroke="#646bd8" d="M263.6,698.9h0M261.9,697.3h0M264.7,698.5h0M249.9,703.6h0M262.3,701.5h0M272.0,689.6h0M248.1,707.8h0M253.2,706.4h0M265.1,698.1h0M269.4,700.6h0M222.6,706.4h0"/>
<path stroke="#8b50c0" d="M121.5,729.9h0M85.2,730.1h0M119.1,731.8h0M113.1,732.7h0M107.5,740.4h0M107.3,726.9h0M80.7,727.4h0M83.1,726.3h0M116.3,722.3h0"/>
<path stroke="#d8a040" d="M82.0,708.2h0M100.2,720.5h0M109.3,719.4h0M97.0,710.1h0M124.3,710.4h0M88.4,718.3h0M95.1,716.3h0M104.8,717.7h0M96.7,723.7h0M106.2,709.4h0"/>
<path stroke="#c656b8" d="M162.9,743.0h0M155.4,755.8h0M148.8,748.9h0M146.8,750.8h0M152.5,755.5h0M172.8,745.9h0M151.1,746.0h0M143.3,747.2h0M146.6,753.2h0"/>
<path stroke="#995733" d="M167.0,628.5h0M188.7,626.5h0M163.2,619.1h0M164.4,631.7h0M168.1,637.3h0M159.4,630.4h0M152.0,632.4h0M149.9,634.9h0M163.2,638.5h0M157.3,621.7h0M173.9,638.3h0"/>
<path stroke="#6e88d0" d="M172.8,697.6h0M148.1,690.4h0M143.1,691.1h0M162.0,690.2h0M135.3,698.8h0M165.5,692.3h0M150.7,694.7h0M151.3,702.0h0M148.0,707.9h0M181.6,715.9h0M160.8,701.6h0"/>
<path stroke="#d98596" d="M269.7,648.0h0M284.5,627.7h0M271.9,638.8h0M278.5,643.1h0M268.3,644.3h0M268.4,647.4h0M268.5,652.6h0M258.7,632.6h0M283.0,629.6h0M276.7,614.9h0M257.6,639.7h0"/>
<path stroke="#639dd6" d="M125.5,783.4h0M132.0,779.1h0M102.7,776.0h0M125.2,784.8h0M126.6,776.2h0M150.0,771.6h0M162.0,775.3h0M152.0,774.3h0M136.8,779.1h0M141.4,775.1h0M135.3,777.5h0"/>
<path stroke="#c391d6" d="M140.7,617.4h0M141.3,606.7h0M157.9,608.9h0M143.2,617.1h0M127.6,620.2h0M146.6,609.1h0M155.8,621.6h0M159.6,621.8h0M161.6,612.1h0M121.2,612.8h0M137.8,616.7h0"/>
<path stroke="#d98596" d="M276.0,645.4h0M274.3,637.6h0M277.6,646.4h0M264.5,636.3h0M259.3,634.2h0M279.2,634.0h0M253.2,634.7h0M255.7,639.3h0M259.2,629.2h0M268.8,638.0h0M270.9,637.1h0"/>
<path stroke="#d2cc58" d="M173.5,673.4h0M186.4,664.9h0M204.2,655.1h0M210.1,665.7h0M204.8,659.8h0M189.8,662.4h0M179.1,681.7h0M197.0,668.3h0M193.6,668.4h0M201.6,669.2h0M199.8,664.3h0"/>
<path stroke="#cc4878" d="M87.8,685.7h0M90.8,675.7h0M107.8,691.5h0M96.8,682.0h0M101.2,677.4h0M101.0,672.3h0M100.4,668.4h0M103.9,680.7h0M90.8,671.3h0M86.0,691.1h0M83.0,668.8h0"/>
<path stroke="#c656b8" d="M159.5,751.1h0M144.2,746.4h0M149.5,748.8h0M133.6,745.2h0M152.1,753.9h0M146.3,747.1h0M158.7,748.6h0M159.1,746.2h0M164.3,751.2h0"/>
<path stroke="#639dd6" d="M163.3,772.2h0M109.3,779.2h0M121.5,772.8h0M156.1,781.9h0M137.1,772.3h0M113.5,774.3h0M142.7,779.6h0M96.5,779.9h0M137.0,777.5h0M112.2,772.4h0"/>
<path stroke="#d0883e" d="M120.8,703.5h0M171.7,738.5h0M137.4,730.7h0M137.0,749.1h0M166.6,725.2h0M148.9,725.3h0M121.4,748.8h0M149.5,731.7h0M156.3,709.3h0M171.8,725.0h0M129.6,742.6h0"/>
<path stroke="#d0883e" d="M124.5,737.2h0M129.9,744.0h0M111.6,735.5h0M145.2,722.8h0M159.4,748.5h0M159.3,747.9h0M93.5,729.8h0M139.4,728.5h0M126.6,723.5h0M105.8,744.0h0"/>
<path stroke="#8b3d6a" d="M124.0,677.0h0M121.9,675.8h0M142.5,655.4h0M128.1,663.0h0M119.2,679.7h0M134.0,649.9h0M111.5,689.0h0M136.3,677.2h0M135.4,657.6h0M147.1,681.7h0M142.0,694.9h0"/>
<path stroke="#8fdc96" d="M212.4,709.5h0M178.2,744.2h0M194.0,732.8h0M202.4,719.1h0M202.2,721.8h0M198.7,710.7h0M201.8,721.0h0M201.1,737.9h0M193.7,726.6h0M196.6,730.6h0"/>
<path stroke="#c656b8" d="M142.9,747.4h0M157.7,746.3h0M137.0,743.5h0M152.3,745.8h0M173.9,748.2h0M159.0,750.3h0M134.8,750.5h0M148.3,750.1h0M159.4,747.5h0"/>
<path stroke="#7a7030" d="M130.7,726.0h0M143.0,726.8h0M136.8,723.1h0M119.6,725.2h0M132.8,734.4h0M95.8,734.6h0M133.4,745.3h0M132.2,740.2h0M122.3,734.8h0M114.9,721.2h0"/>
<path stroke="#c391d6" d="M154.8,606.9h0M127.1,620.4h0M154.7,608.1h0M151.9,616.4h0M136.6,614.2h0M117.4,607.2h0M135.9,612.2h0M139.2,615.3h0M153.5,613.1h0M148.7,604.5h0"/>
<path stroke="#4d8840" d="M100.0,765.9h0M93.2,747.3h0M89.9,755.7h0M144.2,749.2h0M150.3,756.4h0M104.6,741.4h0M66.4,746.8h0M136.0,746.3h0M120.2,758.3h0M132.9,747.5h0"/>
<path stroke="#cc4878" d="M107.1,663.0h0M99.1,675.2h0M104.5,682.9h0M104.0,678.2h0M109.7,673.9h0M108.6,672.4h0M95.1,675.5h0M98.4,681.8h0M89.8,679.7h0M109.6,673.1h0"/>
<path stroke="#8fdc96" d="M173.1,732.1h0M182.1,728.8h0M193.9,735.8h0M184.7,743.7h0M196.5,724.5h0M176.1,725.2h0M196.0,721.7h0M204.2,729.1h0M206.5,732.2h0M173.6,724.5h0M195.3,731.2h0"/>
<path stroke="#d98596" d="M267.1,641.6h0M256.3,638.4h0M274.2,630.8h0M275.0,626.7h0M281.5,627.1h0M268.9,632.7h0M264.1,636.0h0M270.2,641.4h0M259.6,638.1h0M263.1,635.3h0"/>
<path stroke="#d8a040" d="M86.1,719.5h0M109.4,719.2h0M81.3,720.6h0M119.4,717.1h0M95.6,719.6h0M65.1,710.7h0M83.4,722.9h0M113.7,722.7h0M111.9,722.6h0M108.0,714.1h0M101.2,719.9h0"/>
<path stroke="#de6530" d="M263.5,617.2h0M241.7,649.9h0M247.0,644.1h0M249.8,659.5h0M250.5,641.5h0M237.7,649.0h0M224.1,628.6h0M224.6,630.6h0M262.9,639.6h0M247.9,648.2h0M253.6,642.5h0"/>
<path stroke="#b3c47e" d="M195.5,609.3h0M208.9,606.9h0M175.9,609.3h0M196.5,624.0h0M200.4,616.0h0M200.8,630.7h0M184.9,619.3h0M183.4,610.2h0M173.1,613.3h0M184.5,614.1h0"/>
<path stroke="#d4a874" d="M187.1,595.2h0M183.6,593.3h0M163.9,602.3h0M160.9,598.4h0M158.6,588.6h0M164.0,593.5h0M196.4,600.5h0M153.3,591.2h0M159.8,583.3h0M156.0,603.7h0M142.6,592.5h0"/>
<path stroke="#85b84a" d="M198.6,688.8h0M194.8,695.1h0M188.0,691.7h0M203.4,685.3h0M192.1,693.6h0M202.7,698.9h0M201.2,694.1h0M199.4,686.2h0M215.2,690.1h0M204.6,686.9h0M194.9,691.6h0"/>
<path stroke="#8e3545" d="M209.3,710.1h0M215.0,711.7h0M204.4,714.5h0M210.6,717.5h0M207.5,693.3h0M209.6,720.6h0M205.4,701.9h0M208.7,721.7h0M189.6,720.4h0M209.4,707.0h0"/>
<path stroke="#7a3f80" d="M125.7,636.1h0M130.0,643.2h0M138.8,625.0h0M125.6,640.4h0M140.9,638.5h0M118.9,641.1h0M136.8,642.3h0M135.1,632.8h0M143.4,643.5h0M151.2,642.5h0M115.0,635.3h0"/>
<path stroke="#4e8860" d="M123.1,765.7h0M109.3,768.4h0M121.4,771.3h0M120.5,762.8h0M97.0,771.4h0M106.4,778.0h0M178.8,766.8h0M137.3,764.1h0M105.3,778.2h0M141.1,774.2h0"/>
<path stroke="#cc4878" d="M97.6,687.6h0M106.0,675.9h0M121.1,675.4h0M87.7,682.3h0M99.3,673.4h0M84.9,662.4h0M111.8,666.6h0M82.0,682.2h0M102.9,682.2h0M100.0,674.4h0"/>
<path stroke="#8e3545" d="M206.2,714.8h0M209.9,706.5h0M175.3,725.7h0M207.1,715.7h0M214.8,713.9h0M215.5,697.1h0M191.8,719.8h0M209.2,710.5h0M210.4,696.7h0M211.4,703.1h0"/>
<path stroke="#8b3d6a" d="M140.2,658.3h0M145.2,683.0h0M123.5,672.4h0M122.8,679.2h0M118.7,665.4h0M121.3,674.3h0M117.3,678.0h0M145.0,668.7h0M147.6,673.7h0M147.5,683.6h0"/>
<path stroke="#8fdc96" d="M189.4,723.0h0M198.8,726.5h0M183.4,736.9h0M183.5,728.7h0M184.8,729.4h0M191.3,735.3h0M206.6,735.3h0M193.5,729.7h0M180.5,726.4h0M196.3,711.5h0M172.5,748.0h0"/>
<path stroke="#d4a874" d="M166.1,596.7h0M190.4,597.2h0M161.7,594.7h0M168.6,594.2h0M148.6,590.0h0M164.8,588.7h0M190.0,589.4h0M164.1,598.3h0M156.3,585.2h0M171.6,596.1h0M166.7,587.6h0"/>
<path stroke="#7a7030" d="M130.6,732.1h0M131.9,722.2h0M120.8,718.7h0M146.8,728.9h0M116.9,720.2h0M121.5,728.1h0M118.3,716.0h0M130.4,722.8h0M116.4,711.1h0M122.9,739.0h0"/>
<path stroke="#7a3f80" d="M133.9,643.2h0M129.3,634.2h0M122.4,634.1h0M142.9,638.7h0M170.9,639.9h0M124.4,643.1h0M142.5,644.6h0M148.2,646.1h0M116.7,645.2h0M121.2,634.9h0"/>
<path stroke="#8fdc96" d="M187.5,731.0h0M188.8,720.1h0M177.9,731.8h0M178.7,725.2h0M169.6,736.6h0M185.5,718.6h0M196.4,732.7h0M221.8,720.4h0M190.8,731.5h0M217.3,709.2h0"/>
<path stroke="#7dd3c3" d="M273.1,652.5h0M297.0,651.9h0M284.0,643.1h0M285.6,642.0h0M275.4,645.4h0M286.8,626.1h0M297.9,638.6h0M291.7,640.6h0M270.6,649.2h0M292.7,644.9h0"/>
<path stroke="#7dd3c3" d="M294.7,641.5h0M270.1,632.3h0M290.5,651.7h0M293.2,640.0h0M289.4,637.4h0M293.4,638.9h0M290.3,654.0h0M286.9,629.4h0M266.0,636.9h0M274.9,652.4h0"/>
<path stroke="#6e88d0" d="M161.1,690.6h0M145.0,691.0h0M161.8,703.1h0M154.1,690.7h0M164.5,695.7h0M154.1,690.1h0M148.2,693.7h0M154.4,696.5h0M151.5,702.0h0M162.1,695.5h0"/>
<path stroke="#8b50c0" d="M121.4,739.1h0M97.9,730.6h0M133.2,728.5h0M98.9,721.3h0M117.0,737.4h0M108.9,726.1h0M77.2,730.8h0M105.1,731.9h0M109.4,719.7h0"/>
<path stroke="#7a3f80" d="M139.6,645.8h0M126.4,648.3h0M131.2,648.2h0M86.1,643.2h0M135.7,642.0h0M121.3,639.7h0M130.7,642.8h0M129.1,644.2h0M131.5,645.5h0M146.2,652.2h0M119.4,648.7h0"/>
<path stroke="#d0883e" d="M103.7,729.8h0M130.0,728.8h0M188.8,725.2h0M153.2,733.8h0M154.1,735.3h0M121.8,734.9h0M160.5,721.4h0M142.4,729.1h0M141.3,741.8h0M130.0,715.3h0M110.4,737.9h0"/>
<path stroke="#d8a040" d="M96.1,717.9h0M108.5,711.0h0M93.8,711.6h0M98.3,715.4h0M91.7,709.8h0M77.8,715.7h0M89.5,715.9h0M116.8,716.3h0M118.0,716.5h0M85.9,721.1h0M89.9,724.2h0"/>
<path stroke="#4d8840" d="M120.3,754.7h0M113.4,743.0h0M97.6,748.9h0M146.9,751.9h0M138.4,745.1h0M135.4,754.7h0M104.2,749.3h0M88.9,743.0h0M141.6,747.4h0M138.7,750.6h0"/>
<path stroke="#6e88d0" d="M158.6,705.2h0M151.5,710.9h0M139.0,696.1h0M166.6,701.2h0M155.6,694.1h0M151.8,699.4h0M135.6,692.5h0M165.3,699.1h0M137.3,683.3h0M158.3,688.8h0"/>
<path stroke="#c391d6" d="M168.1,609.9h0M144.2,607.8h0M150.9,604.6h0M131.2,613.6h0M152.9,607.8h0M159.7,615.3h0M136.0,623.0h0M155.5,614.1h0M131.1,609.1h0M136.9,601.5h0"/>
<path stroke="#8b3d6a" d="M137.6,665.1h0M122.8,679.8h0M131.8,678.1h0M148.7,672.6h0M146.8,681.8h0M117.6,678.2h0M150.1,656.7h0M125.4,660.2h0M147.1,676.8h0M123.1,685.1h0M128.6,677.0h0"/>
<path stroke="#646bd8" d="M270.7,696.7h0M242.5,699.5h0M221.2,695.1h0M261.6,698.8h0M267.1,706.2h0M262.9,699.8h0M221.7,706.5h0M262.8,706.0h0M262.1,706.3h0M256.6,698.2h0"/>
<path stroke="#c391d6" d="M127.3,612.1h0M142.2,604.2h0M158.6,613.7h0M151.1,606.5h0M171.7,619.1h0M117.2,610.0h0M159.6,610.4h0M152.6,608.2h0M141.9,605.5h0M158.8,616.0h0"/>
<path stroke="#d2cc58" d="M208.1,667.4h0M183.9,682.6h0M201.0,667.5h0M205.4,667.1h0M189.5,661.0h0M215.9,662.4h0M162.8,673.0h0M192.9,668.8h0M207.5,655.3h0M204.7,660.1h0"/>
<path stroke="#646bd8" d="M257.1,695.2h0M265.9,701.4h0M264.5,697.5h0M265.3,706.4h0M255.4,705.5h0M273.7,699.6h0M253.8,701.9h0M262.8,698.4h0M241.0,700.2h0M268.6,703.1h0"/>
<path stroke="#646bd8" d="M259.7,694.7h0M248.9,704.4h0M254.2,705.1h0M265.5,695.5h0M250.2,703.3h0M252.9,700.6h0M230.4,707.1h0M232.0,699.3h0M280.2,686.0h0M255.0,702.6h0"/>
<path stroke="#d4a874" d="M172.6,595.9h0M151.9,591.2h0M151.4,594.5h0M147.3,590.7h0M187.1,599.7h0M163.2,585.2h0M146.4,590.5h0M162.0,593.7h0M173.7,586.0h0M173.7,594.8h0"/>
<path stroke="#de6530" d="M260.6,618.3h0M254.7,655.4h0M251.7,645.2h0M254.1,637.4h0M235.7,642.3h0M256.9,619.1h0M230.6,634.2h0M240.4,631.8h0M244.4,643.2h0M254.9,666.0h0"/>
<path stroke="#b3c47e" d="M162.1,624.9h0M184.8,616.5h0M191.8,616.8h0M181.5,623.8h0M192.7,605.9h0M207.5,618.3h0M207.4,619.2h0M179.7,607.8h0M177.6,615.7h0M188.3,617.5h0"/>
<path stroke="#4d8840" d="M123.8,761.4h0M123.8,745.5h0M109.5,744.8h0M106.9,750.8h0M96.4,753.9h0M112.6,743.4h0M76.4,750.0h0M143.7,749.0h0M143.4,747.0h0M123.5,756.0h0M117.4,755.8h0"/>
<path stroke="#646bd8" d="M223.3,707.1h0M242.5,698.9h0M247.7,698.1h0M227.6,691.0h0M251.4,704.2h0M221.6,693.8h0M231.6,707.1h0M261.5,698.5h0M271.4,701.5h0M250.8,700.8h0M260.3,698.6h0"/>
<path stroke="#d2cc58" d="M201.5,670.6h0M217.1,661.3h0M205.2,667.3h0M206.3,657.9h0M199.5,657.8h0M198.7,667.7h0M169.6,663.7h0M199.9,668.1h0M205.5,675.7h0M206.2,668.7h0M201.1,667.1h0"/>
<path stroke="#d0883e" d="M99.4,723.7h0M113.1,744.1h0M105.9,729.3h0M140.7,743.5h0M111.0,729.8h0M110.4,734.1h0M110.2,736.3h0M143.8,744.0h0M154.3,728.8h0M132.6,710.0h0"/>
<path stroke="#d8a040" d="M92.8,720.6h0M79.5,716.5h0M111.1,714.6h0M99.0,716.9h0M123.4,716.7h0M114.8,726.0h0M91.4,713.5h0M104.2,714.7h0M89.1,712.5h0M80.3,719.9h0"/>
<path stroke="#6e88d0" d="M165.9,704.3h0M130.3,690.8h0M146.1,704.5h0M162.4,689.9h0M161.8,694.8h0M163.3,697.9h0M148.8,686.4h0M150.3,709.3h0M163.1,696.5h0M136.2,691.4h0"/>
<path stroke="#4e8860" d="M105.3,769.8h0M119.2,764.7h0M127.2,766.2h0M130.7,770.6h0M112.1,769.4h0M116.2,760.1h0M118.0,762.9h0M128.5,754.1h0M122.2,761.0h0M118.8,764.5h0M150.4,776.4h0"/>
<path stroke="#8fdc96" d="M184.1,733.9h0M226.5,711.5h0M201.5,715.5h0M191.3,730.3h0M187.0,730.1h0M190.0,738.3h0M190.8,730.5h0M191.7,740.2h0M181.9,727.5h0M183.6,742.4h0"/>
<path stroke="#4e8860" d="M113.6,775.9h0M152.0,769.8h0M114.7,763.3h0M141.5,767.8h0M129.7,765.6h0M111.0,773.6h0M128.2,761.8h0M85.3,758.7h0M94.5,768.8h0M110.5,771.5h0M121.1,766.2h0"/>
<path stroke="#85b84a" d="M205.1,685.1h0M195.4,687.0h0M193.9,685.6h0M201.7,687.0h0M212.2,691.0h0M198.4,683.3h0M211.0,688.2h0M190.0,700.5h0M188.6,694.8h0M189.7,695.9h0M209.4,681.4h0"/>
<path stroke="#b3c47e" d="M189.8,617.8h0M183.0,605.5h0M197.3,613.1h0M188.1,615.9h0M181.6,618.2h0M182.6,606.8h0M171.9,617.0h0M184.4,626.9h0M204.3,609.8h0M198.2,622.7h0M200.4,619.0h0"/>
<path stroke="#8e3545" d="M204.0,701.2h0M214.5,724.9h0M181.3,724.7h0M210.3,713.5h0M190.7,730.3h0M201.2,728.7h0M226.2,696.4h0M222.8,731.6h0M213.7,720.1h0M211.7,710.4h0"/>
<path stroke="#8b3d6a" d="M153.2,674.6h0M156.7,671.0h0M134.0,680.1h0M127.6,680.0h0M150.8,684.4h0M103.7,676.6h0M122.2,663.2h0M141.6,644.2h0M149.6,673.4h0M128.4,669.9h0"/>
<path stroke="#d2cc58" d="M206.1,669.4h0M178.3,676.3h0M210.2,656.2h0M194.8,670.7h0M202.2,654.8h0M195.3,661.4h0M193.5,662.4h0M171.8,666.6h0M205.2,662.4h0M209.1,665.3h0"/>
<path stroke="#4e8860" d="M138.7,751.0h0M121.0,775.6h0M122.8,763.1h0M175.6,767.2h0M129.7,769.8h0M91.5,767.4h0M134.6,775.3h0M120.6,773.7h0M106.5,769.5h0M176.4,767.0h0M101.2,767.3h0"/>
<path stroke="#4a4f9a" d="M216.3,652.2h0M201.6,636.0h0M168.1,659.2h0M188.6,664.4h0M193.8,630.7h0M204.8,655.3h0M160.2,633.1h0M200.7,661.5h0M189.6,632.2h0M187.5,639.8h0"/>
<path stroke="#cc4878" d="M86.2,680.2h0M110.6,681.0h0M86.9,669.3h0M102.2,676.9h0M112.9,672.3h0M118.1,681.0h0M66.1,672.9h0M80.9,672.7h0M85.0,669.1h0M103.4,680.1h0"/>
<path stroke="#8fdc96" d="M184.6,726.6h0M184.5,719.7h0M197.5,717.5h0M176.9,738.8h0M187.1,740.0h0M170.4,745.3h0M187.1,724.9h0M191.9,733.5h0M187.3,735.6h0M198.3,721.6h0"/>
<path stroke="#b3c47e" d="M181.2,633.2h0M192.3,613.8h0M191.1,613.0h0M202.3,613.3h0M188.7,613.3h0M183.2,609.1h0M202.5,619.1h0M180.5,604.8h0M191.5,620.2h0M194.4,624.6h0"/>
<path stroke="#7a3f80" d="M124.8,632.0h0M140.9,645.8h0M148.2,636.8h0M120.3,643.8h0M136.4,641.9h0M142.2,638.3h0M137.4,641.3h0M117.1,635.7h0M144.4,644.1h0M147.9,641.0h0"/>
<path stroke="#6e88d0" d="M150.7,717.7h0M139.9,678.5h0M159.4,705.5h0M122.6,685.9h0M149.2,702.9h0M184.0,698.8h0M156.4,695.0h0M153.6,683.6h0M170.0,700.6h0M150.8,698.8h0M157.4,690.4h0"/>
<path stroke="#8e3545" d="M215.7,711.0h0M211.4,702.8h0M180.5,727.7h0M209.9,708.2h0M217.0,708.5h0M208.2,711.4h0M218.0,693.7h0M211.0,710.4h0M207.3,702.5h0M213.0,711.6h0"/>
<path stroke="#8b50c0" d="M119.1,729.7h0M81.1,719.6h0M101.8,729.2h0M105.0,729.5h0M105.9,726.8h0M84.5,727.3h0M119.2,730.5h0M114.7,730.6h0"/>
<path stroke="#8e3545" d="M210.5,706.0h0M211.7,697.2h0M221.7,723.9h0M223.7,710.1h0M215.7,707.2h0M212.5,715.3h0M225.0,718.7h0M190.1,729.6h0M205.7,717.8h0M196.4,707.6h0M218.6,706.9h0"/>
<path stroke="#d2cc58" d="M184.0,664.2h0M183.4,669.5h0M194.2,671.8h0M176.0,679.7h0M210.6,661.2h0M166.8,669.2h0M188.0,670.4h0M198.7,664.8h0M210.2,679.9h0M181.9,674.4h0"/>
<path stroke="#7a7030" d="M135.4,733.0h0M116.3,733.4h0M126.4,729.9h0M113.3,729.1h0M109.2,745.3h0M153.1,720.7h0M139.2,728.5h0M90.7,725.7h0M107.2,741.1h0M123.2,744.3h0M108.8,719.1h0"/>
<path stroke="#8e3545" d="M226.3,707.7h0M211.5,710.2h0M208.3,700.8h0M209.9,712.1h0M213.3,698.5h0M196.6,724.5h0M214.7,707.4h0M191.5,727.4h0M184.0,726.1h0M228.8,707.8h0M214.3,701.5h0"/>
<path stroke="#7a7030" d="M141.6,730.7h0M126.6,724.2h0M157.5,737.4h0M108.9,738.8h0M117.1,739.1h0M112.5,726.5h0M124.1,724.7h0M83.8,710.2h0M145.2,729.7h0M129.0,738.4h0"/>
<path stroke="#d2cc58" d="M205.5,668.0h0M206.7,665.8h0M200.8,664.2h0M200.1,669.5h0M206.5,660.2h0M197.7,657.4h0M192.6,658.0h0M209.9,661.0h0M206.1,656.0h0M173.2,673.6h0"/>
<path stroke="#4e8860" d="M107.4,768.5h0M126.8,767.9h0M139.5,767.4h0M140.7,770.0h0M134.8,776.5h0M154.9,753.0h0M119.5,777.6h0M114.8,755.1h0M101.7,776.5h0M121.2,776.2h0"/>
<path stroke="#4e8860" d="M124.2,763.2h0M137.3,767.7h0M98.0,760.4h0M151.9,766.0h0M130.5,766.4h0M80.2,749.6h0M111.5,765.0h0M109.6,774.1h0M178.2,766.6h0M118.9,771.9h0M118.4,760.5h0"/>
<path stroke="#7dd3c3" d="M241.9,649.4h0M287.4,653.1h0M286.4,645.2h0M293.7,647.6h0M267.2,633.0h0M298.9,661.9h0M300.8,638.1h0M293.0,634.0h0M279.4,642.3h0M289.1,639.7h0M282.2,632.4h0"/>
<path stroke="#7dd3c3" d="M294.6,640.5h0M283.6,638.4h0M288.0,668.5h0M279.1,638.8h0M277.1,639.3h0M266.9,635.1h0M274.5,647.7h0M291.1,645.8h0M274.4,640.3h0M263.8,656.5h0"/>
<path stroke="#7dd3c3" d="M243.8,645.8h0M291.7,635.1h0M284.2,639.4h0M278.5,636.6h0M287.1,640.8h0M298.4,642.7h0M292.9,625.0h0M299.1,632.2h0M271.4,637.2h0M286.7,651.9h0M244.4,638.5h0"/>
<path stroke="#7dd3c3" d="M301.9,642.2h0M254.4,647.7h0M243.3,638.8h0M275.8,648.2h0M301.6,636.4h0M266.0,647.8h0M280.5,641.7h0M278.5,642.4h0M288.8,648.1h0M285.8,624.9h0M269.7,633.5h0"/>
<path stroke="#de6530" d="M610.5,628.1h0M577.3,626.4h0M594.7,639.0h0M625.4,627.9h0M597.3,633.1h0M593.7,640.1h0M623.6,647.7h0M626.8,629.2h0M616.8,640.4h0M597.0,642.8h0"/>
<path stroke="#639dd6" d="M473.3,773.9h0M452.8,777.6h0M465.5,779.5h0M462.1,780.7h0M452.4,774.2h0M466.8,773.8h0M477.4,766.8h0M496.7,773.8h0M457.3,772.3h0M463.4,775.2h0"/>
<path stroke="#de6530" d="M618.6,634.9h0M609.3,627.7h0M585.3,638.1h0M619.1,620.8h0M614.2,630.2h0M582.9,620.5h0M617.9,625.6h0M608.5,644.9h0M597.3,647.7h0M606.2,616.5h0"/>
<path stroke="#639dd6" d="M476.2,774.4h0M461.4,782.9h0M459.2,777.5h0M483.1,782.0h0M463.6,772.9h0M457.0,774.6h0M460.4,770.3h0M465.9,772.8h0M475.2,773.6h0"/>
<path stroke="#c656b8" d="M486.9,733.5h0M512.2,729.4h0M477.9,732.7h0M497.3,742.1h0M485.0,737.8h0M484.3,737.5h0M492.1,728.4h0M489.3,734.2h0M477.9,728.8h0M503.5,735.2h0"/>
<path stroke="#b02828" d="M454.6,707.3h0M466.1,708.6h0M443.1,697.1h0M448.3,711.7h0"/>
<path stroke="#c656b8" d="M488.8,742.7h0M475.2,744.8h0M485.1,737.4h0M492.8,736.4h0M481.1,727.2h0M490.0,736.6h0M492.3,735.7h0M471.7,735.2h0M504.8,736.2h0"/>
<path stroke="#c656b8" d="M491.5,742.7h0M489.7,733.3h0M497.4,732.3h0M480.8,753.5h0M489.0,736.1h0M478.0,728.7h0M506.0,735.4h0M499.2,751.1h0M498.7,734.1h0"/>
<path stroke="#995733" d="M525.3,622.3h0M507.1,632.7h0M531.8,629.7h0M531.4,629.5h0M523.2,625.2h0M523.9,624.3h0M525.8,617.3h0M525.6,624.6h0M528.6,628.0h0M527.9,621.7h0M512.7,623.1h0"/>
<path stroke="#cc4878" d="M467.4,661.2h0M465.4,663.3h0M461.8,651.1h0M470.8,664.9h0M453.7,658.6h0M473.3,655.0h0M472.5,664.7h0M468.8,665.4h0M471.0,656.5h0M452.8,656.2h0"/>
<path stroke="#d4a874" d="M522.5,592.7h0M547.9,599.4h0M530.3,584.4h0M523.1,591.0h0M520.9,593.6h0M515.5,584.6h0M516.4,588.4h0M530.3,589.9h0M535.6,598.2h0M537.5,593.4h0M525.5,592.4h0"/>
<path stroke="#cc4878" d="M477.8,655.4h0M478.1,662.9h0M468.0,666.3h0M476.0,666.6h0M478.4,663.5h0M465.5,659.5h0M463.3,668.6h0M449.6,666.6h0M464.4,656.7h0M465.4,658.3h0M486.3,660.5h0"/>
<path stroke="#c656b8" d="M488.5,742.7h0M478.4,735.3h0M478.8,742.2h0M490.7,732.0h0M490.5,735.7h0M492.5,731.7h0M487.8,732.5h0M462.4,732.8h0M488.6,732.3h0M498.4,734.2h0"/>
<path stroke="#c391d6" d="M527.8,602.2h0M509.0,610.3h0M514.3,605.9h0M505.3,609.2h0M493.0,605.9h0M521.4,600.1h0M510.4,603.1h0M504.5,610.0h0M513.7,609.8h0M529.4,602.7h0"/>
<path stroke="#de6530" d="M587.1,626.2h0M607.7,624.3h0M611.1,634.2h0M624.2,634.9h0M631.3,641.0h0M599.3,628.0h0M597.1,625.8h0M631.7,629.0h0M623.2,637.2h0M585.0,629.6h0"/>
<path stroke="#4a4f9a" d="M533.0,634.2h0M559.0,645.4h0M548.2,643.9h0M571.9,649.5h0M571.8,648.5h0M551.7,654.1h0M541.7,665.3h0M545.8,636.2h0M535.3,647.6h0M556.0,647.1h0"/>
<path stroke="#b3c47e" d="M533.8,609.2h0M549.4,613.7h0M570.6,615.1h0M554.5,610.7h0M555.4,629.5h0M552.5,624.0h0M551.4,613.7h0M543.5,616.9h0M563.3,608.4h0M556.2,617.0h0"/>
<path stroke="#7a3f80" d="M492.9,633.4h0M495.9,634.3h0M475.0,623.0h0M486.6,633.0h0M474.4,619.7h0M483.1,628.9h0M474.7,627.7h0M500.6,642.7h0M479.8,626.9h0M488.5,622.7h0"/>
<path stroke="#6e88d0" d="M500.8,690.6h0M502.7,682.2h0M485.2,682.2h0M506.6,679.3h0M495.5,679.5h0M523.8,680.1h0M495.3,681.0h0M497.7,671.1h0M516.5,681.4h0M495.7,684.0h0"/>
<path stroke="#b3c47e" d="M568.9,622.3h0M560.1,614.4h0M555.0,619.6h0M555.6,605.1h0M564.2,610.2h0M556.0,618.6h0M562.1,625.2h0M548.6,613.5h0M554.5,615.5h0M538.7,612.1h0"/>
<path stroke="#d8a040" d="M460.7,692.0h0M430.6,704.3h0M442.7,699.2h0M461.4,689.4h0M437.3,707.2h0M441.0,693.0h0M436.5,688.6h0M443.7,701.2h0M468.3,703.0h0M438.0,712.2h0M450.4,693.4h0"/>
<path stroke="#b3c47e" d="M546.3,613.9h0M549.3,618.4h0M548.4,616.6h0M560.9,614.1h0M563.3,625.2h0M555.4,620.1h0M565.6,609.5h0M548.0,621.3h0M556.5,615.2h0M559.7,617.9h0"/>
<path stroke="#639dd6" d="M442.6,761.5h0M480.0,771.5h0M460.8,778.6h0M476.5,778.6h0M512.1,766.1h0M471.5,776.2h0M473.8,772.1h0M482.1,778.0h0M511.7,765.7h0"/>
<path stroke="#b3c47e" d="M556.6,622.2h0M575.3,616.7h0M554.1,605.7h0M543.9,611.0h0M549.0,617.2h0M562.5,618.9h0M553.2,614.5h0M560.9,618.3h0M557.2,620.3h0M557.6,618.0h0"/>
<path stroke="#85b84a" d="M545.3,682.9h0M554.8,676.9h0M550.1,677.5h0M538.0,686.8h0M540.0,686.2h0M546.0,684.9h0M554.1,682.2h0M569.4,677.1h0M574.6,681.1h0M556.7,689.5h0"/>
<path stroke="#b02828" d="M452.3,699.2h0M433.8,697.0h0M438.4,705.9h0M450.4,710.0h0M468.1,713.5h0"/>
<path stroke="#de6530" d="M619.3,636.9h0M622.5,628.7h0M593.3,622.1h0M619.4,620.5h0M607.5,635.4h0M609.5,655.6h0M610.0,638.7h0M623.4,620.2h0M588.0,634.6h0M575.8,631.5h0"/>
<path stroke="#cc4878" d="M469.9,664.4h0M455.3,663.8h0M488.2,660.2h0M466.8,660.2h0M457.3,664.4h0M461.4,655.0h0M478.4,652.6h0M461.2,651.1h0M454.5,653.2h0M477.1,670.0h0M458.9,670.7h0"/>
<path stroke="#8b50c0" d="M426.3,715.7h0M462.5,718.2h0M462.2,711.5h0M450.3,720.3h0M435.1,711.1h0M463.4,724.1h0M463.7,710.6h0M453.1,719.9h0M453.5,719.1h0"/>
<path stroke="#8b50c0" d="M439.3,716.8h0M452.5,717.2h0M470.4,728.4h0M442.0,718.3h0M465.4,715.6h0M467.6,715.2h0M453.2,717.9h0M478.7,715.8h0"/>
<path stroke="#b02828" d="M442.2,707.1h0M460.3,696.4h0M448.6,705.3h0M445.2,705.4h0"/>
<path stroke="#b02828" d="M442.9,709.4h0M451.2,706.4h0M480.0,701.9h0M436.6,703.6h0"/>
<path stroke="#646bd8" d="M600.9,681.4h0M578.1,702.1h0M600.4,691.7h0M615.9,694.3h0M605.3,686.4h0M589.1,689.8h0M597.0,689.8h0M593.8,688.2h0M605.7,695.7h0M627.1,692.4h0"/>
<path stroke="#85b84a" d="M549.3,686.2h0M532.6,683.2h0M541.1,685.0h0M524.0,668.0h0M532.2,681.3h0M552.9,683.1h0M546.1,679.6h0M557.0,677.6h0M549.2,676.8h0M547.4,675.8h0"/>
<path stroke="#995733" d="M528.0,618.5h0M528.2,625.4h0M534.4,632.5h0M521.9,621.5h0M523.2,613.2h0M523.6,627.8h0M524.4,623.0h0M527.7,625.9h0M523.6,625.3h0M513.7,622.4h0"/>
<path stroke="#6e88d0" d="M485.2,681.5h0M502.1,682.8h0M513.5,683.5h0M490.9,680.6h0M507.1,689.2h0M496.4,686.7h0M520.8,694.3h0M502.5,683.9h0M528.7,689.5h0M504.1,676.3h0M506.6,669.2h0"/>
<path stroke="#8fdc96" d="M540.6,723.2h0M552.4,695.9h0M524.0,731.2h0M541.4,731.9h0M548.3,716.2h0M541.6,721.7h0M561.5,722.8h0M558.8,714.2h0M541.2,731.5h0M515.1,728.3h0"/>
<path stroke="#d8a040" d="M444.8,706.0h0M445.2,697.6h0M440.0,709.4h0M444.0,704.5h0M455.2,703.9h0M441.9,705.2h0M457.6,701.1h0M442.0,701.0h0M440.8,701.9h0M423.0,698.8h0"/>
<path stroke="#d0883e" d="M460.3,711.1h0M473.6,714.8h0M443.8,714.6h0M456.3,720.1h0M466.0,734.4h0M446.9,712.7h0M482.7,702.2h0M466.0,705.6h0M512.9,701.6h0M481.5,705.3h0M476.2,717.5h0"/>
<path stroke="#995733" d="M538.2,628.3h0M526.3,628.3h0M499.5,629.2h0M531.4,618.8h0M510.0,619.4h0M534.9,628.5h0M523.0,632.2h0M514.2,628.4h0M512.9,624.5h0M535.6,624.1h0"/>
<path stroke="#639dd6" d="M450.6,782.2h0M464.4,775.8h0M466.5,767.7h0M467.8,777.1h0M456.5,777.6h0M446.3,769.3h0M453.5,761.8h0M463.0,772.0h0M462.5,775.5h0M478.9,777.4h0"/>
<path stroke="#de6530" d="M614.3,643.0h0M623.7,629.4h0M595.9,635.5h0M581.5,636.2h0M620.3,652.0h0M609.3,617.7h0M609.1,637.0h0M598.6,649.9h0M627.0,641.5h0M605.8,624.4h0"/>
<path stroke="#7a3f80" d="M484.9,636.8h0M486.9,629.5h0M485.7,638.8h0M478.1,625.8h0M475.4,627.3h0M478.9,628.1h0M497.8,626.4h0M485.3,619.9h0M480.7,617.1h0M487.0,641.1h0"/>
<path stroke="#8fdc96" d="M540.8,708.6h0M537.0,717.2h0M538.7,715.0h0M550.1,709.9h0M547.8,716.9h0M546.1,708.5h0M548.1,721.7h0M539.6,727.3h0M547.7,725.3h0M558.1,720.7h0M530.5,728.0h0"/>
<path stroke="#8fdc96" d="M564.2,720.9h0M548.4,712.5h0M549.9,710.9h0M554.2,716.8h0M556.1,718.8h0M526.3,728.2h0M537.1,719.6h0M537.4,733.4h0M557.8,731.1h0M543.9,729.8h0"/>
<path stroke="#4a4f9a" d="M545.8,654.7h0M549.9,653.7h0M549.3,651.5h0M537.2,654.5h0M538.6,644.9h0M539.8,659.5h0M552.7,635.6h0M545.9,646.9h0M579.1,636.7h0M537.0,659.5h0M564.2,650.9h0"/>
<path stroke="#85b84a" d="M545.0,681.8h0M546.7,663.8h0M547.5,689.8h0M548.4,674.2h0M561.5,674.1h0M555.4,678.9h0M546.1,675.6h0M534.9,680.4h0M549.5,676.5h0M545.8,681.5h0"/>
<path stroke="#d4a874" d="M527.3,593.1h0M523.8,594.0h0M518.4,588.1h0M542.7,595.0h0M527.1,592.6h0M522.9,585.9h0M528.2,592.1h0M525.2,587.5h0M520.3,585.1h0M530.1,599.5h0"/>
<path stroke="#639dd6" d="M475.9,773.9h0M428.4,776.0h0M467.7,778.8h0M473.5,772.2h0M449.2,773.2h0M470.3,778.2h0M487.6,775.3h0M478.2,782.3h0M481.5,771.4h0M475.3,776.5h0"/>
<path stroke="#8b3d6a" d="M495.0,652.0h0M518.2,643.2h0M487.6,657.4h0M496.6,660.2h0M507.0,642.6h0M484.8,666.6h0M491.6,650.9h0M489.5,647.7h0M479.3,648.3h0M503.9,659.4h0"/>
<path stroke="#d2cc58" d="M559.9,664.3h0M551.8,665.8h0M541.8,657.1h0M548.6,653.3h0M561.8,652.9h0M550.1,647.6h0M560.5,653.8h0M542.1,659.5h0M550.1,667.7h0M537.8,665.7h0"/>
<path stroke="#cc4878" d="M470.4,662.2h0M467.5,656.0h0M471.7,662.2h0M468.0,664.3h0M460.0,665.1h0M451.5,654.7h0M476.2,663.8h0M466.4,655.6h0M464.1,659.4h0M470.5,653.6h0"/>
<path stroke="#8e3545" d="M546.5,705.3h0M559.0,707.4h0M546.5,707.4h0M540.2,715.7h0M567.6,706.0h0M559.2,703.2h0M557.5,698.9h0M559.2,714.4h0M541.7,703.5h0M561.2,701.2h0"/>
<path stroke="#8b50c0" d="M459.7,715.4h0M452.2,710.3h0M467.5,718.7h0M435.0,716.3h0M450.8,715.9h0M467.0,712.7h0M456.6,716.9h0M451.0,715.3h0M433.8,713.8h0"/>
<path stroke="#4e8860" d="M452.3,764.3h0M453.0,761.3h0M466.7,748.8h0M464.8,785.5h0M460.9,748.4h0M455.2,759.7h0M469.0,752.5h0M474.3,757.6h0M458.8,753.4h0M465.9,760.8h0"/>
<path stroke="#8b50c0" d="M431.5,712.5h0M455.0,714.9h0M421.4,721.4h0M442.5,721.1h0M464.9,713.4h0M450.5,713.6h0M468.9,723.9h0M449.1,721.2h0M437.5,716.1h0"/>
<path stroke="#d0883e" d="M468.7,714.2h0M441.7,704.8h0M492.0,716.8h0M486.4,694.8h0M440.4,709.2h0M459.9,708.9h0M478.6,713.4h0M462.3,707.6h0M433.9,719.0h0M467.2,714.9h0"/>
<path stroke="#85b84a" d="M551.3,676.0h0M551.0,674.2h0M541.2,675.9h0M544.2,694.4h0M558.2,679.0h0M554.3,677.5h0M526.9,679.0h0M556.3,687.5h0M541.7,683.3h0M552.7,686.6h0M550.9,671.7h0"/>
<path stroke="#4a4f9a" d="M573.8,640.9h0M568.6,667.0h0M555.9,643.8h0M548.0,642.4h0M549.4,650.3h0M543.0,640.7h0M553.3,641.3h0M542.6,657.8h0M546.0,643.0h0M546.7,632.6h0"/>
<path stroke="#646bd8" d="M598.0,685.4h0M589.9,679.8h0M595.9,680.9h0M609.6,693.3h0M601.7,680.9h0M584.1,679.2h0M597.1,683.0h0M616.8,690.6h0M598.4,689.4h0M587.5,688.9h0"/>
<path stroke="#c656b8" d="M492.7,739.1h0M497.9,731.7h0M497.7,736.4h0M495.4,736.8h0M473.2,738.8h0M513.2,734.1h0M491.1,742.5h0M502.5,735.9h0M499.8,730.2h0"/>
<path stroke="#85b84a" d="M549.1,673.1h0M565.3,672.6h0M556.3,677.1h0M563.6,690.6h0M552.8,672.8h0M535.0,679.0h0M551.1,677.9h0M545.5,676.7h0M558.8,674.1h0M551.8,674.2h0"/>
<path stroke="#d98596" d="M613.9,629.4h0M638.3,633.1h0M618.7,629.8h0M631.8,627.8h0M631.2,637.7h0M618.4,639.5h0M621.9,622.0h0M629.9,631.3h0M625.1,626.8h0M622.5,626.2h0M603.4,628.6h0"/>
<path stroke="#d2cc58" d="M552.5,652.3h0M572.5,652.7h0M546.2,640.6h0M555.3,655.8h0M544.6,658.1h0M539.5,659.5h0M547.5,657.4h0M544.9,648.7h0M556.6,643.9h0M582.0,651.5h0"/>
<path stroke="#d8a040" d="M450.1,697.8h0M423.9,713.7h0M427.0,706.6h0M422.1,697.1h0M447.8,705.2h0M457.0,708.9h0M438.1,701.2h0M425.1,688.0h0M435.6,702.5h0M435.0,702.5h0"/>
<path stroke="#cc4878" d="M465.3,671.2h0M468.7,670.0h0M465.9,665.9h0M481.0,653.1h0M460.6,668.3h0M474.9,660.6h0M469.5,656.7h0M470.4,660.0h0M456.1,653.9h0M461.3,653.8h0"/>
<path stroke="#85b84a" d="M542.9,676.5h0M543.1,677.0h0M535.1,680.6h0M541.7,680.7h0M546.0,673.2h0M565.6,674.6h0M541.7,687.1h0M558.2,681.3h0M543.4,677.7h0M561.2,671.9h0M544.9,680.3h0"/>
<path stroke="#c656b8" d="M490.8,729.5h0M480.9,742.2h0M500.5,726.0h0M509.7,743.2h0M473.0,735.0h0M552.4,598.1h0M488.9,738.1h0M486.3,735.5h0M489.8,738.2h0"/>
<path stroke="#8fdc96" d="M551.7,738.5h0M541.7,732.4h0M552.0,725.3h0M532.2,718.7h0M554.3,709.4h0M546.0,718.9h0M553.0,744.2h0M537.1,733.8h0M526.4,730.9h0M536.0,719.6h0"/>
<path stroke="#d98596" d="M629.9,620.5h0M632.0,633.7h0M612.2,627.8h0M629.1,625.6h0M614.8,621.9h0M621.4,635.4h0M634.7,629.0h0M627.4,624.9h0M620.1,637.3h0M636.6,639.0h0M580.4,639.9h0"/>
<path stroke="#4d8840" d="M456.3,752.9h0M501.9,729.9h0M470.7,737.4h0M450.1,735.8h0M448.9,741.6h0M478.4,741.8h0M447.7,738.2h0M461.5,745.9h0M450.6,740.9h0M481.6,742.1h0M471.8,738.7h0"/>
<path stroke="#c391d6" d="M504.2,602.6h0M508.4,607.7h0M527.1,601.8h0M520.7,609.6h0M515.7,613.2h0M505.6,605.1h0M522.2,598.9h0M508.7,600.8h0M511.2,605.6h0M500.5,604.2h0"/>
<path stroke="#7a7030" d="M472.2,704.8h0M465.0,695.3h0M492.1,712.3h0M486.8,723.0h0M474.3,700.9h0M474.8,696.2h0M473.6,724.3h0M482.0,709.8h0M467.3,699.7h0M448.0,676.2h0M441.7,723.2h0"/>
<path stroke="#d0883e" d="M496.6,722.7h0M477.8,709.9h0M511.2,726.5h0M479.4,742.9h0M478.3,720.3h0M446.4,706.1h0M478.1,726.9h0M491.9,721.3h0M483.3,719.6h0M456.9,691.5h0"/>
<path stroke="#8b3d6a" d="M501.6,647.0h0M491.6,651.8h0M490.1,676.8h0M512.4,650.2h0M523.2,661.6h0M486.6,662.2h0M500.1,641.6h0M503.3,657.4h0M518.1,643.8h0M482.3,656.0h0"/>
<path stroke="#4e8860" d="M452.6,766.6h0M462.9,768.1h0M450.3,757.9h0M441.6,776.4h0M453.7,759.8h0M456.5,770.9h0M451.5,767.9h0M466.8,761.5h0M460.0,762.5h0M441.4,755.9h0M460.1,769.8h0"/>
<path stroke="#7dd3c3" d="M609.1,643.2h0M646.1,639.5h0M652.3,636.1h0M637.7,639.2h0M640.5,654.8h0M633.5,627.1h0M647.2,624.1h0M645.4,653.2h0M641.3,630.6h0M637.4,626.7h0"/>
<path stroke="#d4a874" d="M527.6,592.1h0M532.1,596.8h0M524.4,588.1h0M526.4,589.7h0M520.8,585.4h0M540.5,596.8h0M522.0,587.3h0M536.1,592.6h0M525.3,587.9h0M533.5,590.0h0M530.3,595.0h0"/>
<path stroke="#b02828" d="M453.2,705.4h0M451.4,706.8h0M477.8,706.4h0M443.6,702.9h0"/>
<path stroke="#8b3d6a" d="M516.1,643.8h0M513.7,650.1h0M505.4,648.3h0M491.5,655.9h0M486.9,670.0h0M506.5,644.1h0M495.4,656.8h0M507.4,663.4h0M498.4,651.3h0M477.4,656.9h0M491.4,660.7h0"/>
<path stroke="#d8a040" d="M449.6,700.5h0M440.8,698.1h0M452.6,700.1h0M456.1,694.0h0M428.8,705.0h0M458.8,708.1h0M459.1,702.4h0M452.7,702.1h0M443.6,711.8h0M426.3,706.0h0"/>
<path stroke="#8fdc96" d="M555.7,720.1h0M534.9,715.1h0M548.9,722.7h0M543.6,717.1h0M539.2,741.5h0M546.4,720.5h0M558.6,701.4h0M544.6,711.7h0M550.4,720.0h0M537.4,748.3h0M530.6,722.2h0"/>
<path stroke="#d98596" d="M632.6,639.6h0M626.4,631.1h0M627.9,631.9h0M632.8,634.4h0M626.2,628.3h0M597.8,633.4h0M587.4,649.3h0M620.6,632.7h0M624.6,630.9h0M635.3,626.4h0"/>
<path stroke="#639dd6" d="M461.1,778.8h0M464.9,771.4h0M467.7,768.7h0M510.5,768.2h0M449.1,770.0h0M490.4,774.0h0M469.3,776.8h0M471.3,781.1h0M468.8,772.2h0M498.3,768.7h0"/>
<path stroke="#d4a874" d="M529.4,595.2h0M529.9,588.0h0M533.8,591.9h0M537.7,599.1h0M538.0,587.5h0M529.9,591.4h0M545.7,601.1h0M534.6,591.5h0M524.9,582.9h0M532.8,592.7h0"/>
<path stroke="#4d8840" d="M492.3,725.8h0M479.1,745.4h0M472.8,739.6h0M467.3,733.4h0M438.4,744.6h0M449.1,743.6h0M460.4,736.4h0M479.1,740.2h0M530.5,747.5h0M436.9,736.8h0M503.6,740.5h0"/>
<path stroke="#995733" d="M541.9,635.3h0M526.5,626.9h0M528.2,626.3h0M531.8,627.9h0M530.2,622.2h0M529.2,626.6h0M513.8,627.0h0M527.9,627.7h0M520.9,625.3h0M535.7,615.5h0M519.8,628.8h0"/>
<path stroke="#8b50c0" d="M433.9,711.7h0M455.1,717.4h0M457.8,719.7h0M451.2,717.6h0M424.1,723.3h0M438.8,715.5h0M445.2,716.7h0M465.2,715.7h0M452.1,710.7h0"/>
<path stroke="#d4a874" d="M530.0,593.4h0M526.7,588.1h0M524.9,590.8h0M531.3,593.8h0M524.3,591.7h0M541.0,595.7h0M512.9,587.9h0M539.3,599.5h0M531.0,596.7h0M526.2,591.2h0"/>
<path stroke="#de6530" d="M611.7,642.7h0M598.3,633.9h0M614.1,625.8h0M608.9,641.6h0M627.1,618.0h0M604.8,622.7h0M602.5,638.9h0M620.6,621.3h0M589.3,633.9h0M607.7,632.0h0"/>
<path stroke="#7dd3c3" d="M644.3,644.7h0M639.5,637.2h0M626.1,633.5h0M624.0,643.9h0M640.4,623.0h0M644.0,646.6h0M631.7,644.8h0M606.8,633.2h0M639.8,649.4h0M650.8,626.3h0"/>
<path stroke="#8e3545" d="M548.2,722.0h0M547.2,705.0h0M545.8,698.3h0M540.8,703.7h0M539.8,698.4h0M538.3,710.0h0M533.2,710.6h0M556.1,710.3h0M551.6,702.1h0M553.9,714.5h0"/>
<path stroke="#7dd3c3" d="M645.5,633.0h0M639.2,635.3h0M601.6,636.4h0M631.1,635.9h0M647.4,623.9h0M615.2,633.0h0M647.3,656.2h0M619.6,654.8h0M640.2,647.9h0M634.0,634.1h0"/>
<path stroke="#d98596" d="M620.7,622.7h0M633.1,634.3h0M621.2,626.8h0M629.6,627.9h0M637.0,635.8h0M638.5,629.3h0M612.2,631.9h0M620.8,642.2h0M619.0,636.7h0M626.8,628.1h0"/>
<path stroke="#8e3545" d="M549.4,712.0h0M548.4,714.9h0M557.7,701.4h0M548.6,703.4h0M543.0,722.7h0M558.2,708.6h0M553.6,705.5h0M546.0,724.7h0M576.0,707.5h0M536.9,718.3h0M538.4,711.3h0"/>
<path stroke="#995733" d="M529.9,619.1h0M518.9,621.9h0M526.3,610.7h0M526.4,626.8h0M523.3,630.4h0M520.3,629.0h0M516.1,628.7h0M522.9,626.8h0M529.0,619.7h0M533.4,625.8h0"/>
<path stroke="#d8a040" d="M444.5,703.0h0M455.0,691.7h0M443.0,707.6h0M441.8,703.7h0M447.0,711.0h0M445.3,709.2h0M453.6,709.3h0M431.6,698.5h0M450.9,699.4h0M463.4,697.0h0"/>
<path stroke="#b02828" d="M447.1,697.7h0M448.7,705.4h0M449.3,700.0h0M457.5,720.4h0"/>
<path stroke="#7a3f80" d="M477.5,640.6h0M488.9,631.3h0M491.4,628.0h0M486.8,635.2h0M499.2,633.5h0M476.2,625.8h0M494.2,628.8h0M493.1,620.6h0M482.0,630.1h0M484.1,630.1h0M497.2,632.8h0"/>
<path stroke="#6e88d0" d="M512.3,672.4h0M504.7,686.0h0M516.1,694.8h0M518.5,680.4h0M504.5,682.9h0M486.0,674.7h0M498.7,689.0h0M514.5,685.6h0M505.3,669.8h0M494.0,666.3h0"/>
<path stroke="#4a4f9a" d="M570.2,643.8h0M565.0,647.0h0M564.5,640.5h0M558.3,644.5h0M564.0,644.1h0M574.9,652.0h0M564.8,652.7h0M567.7,646.3h0M568.9,645.9h0M540.1,654.4h0"/>
<path stroke="#d0883e" d="M453.2,718.3h0M475.2,713.0h0M477.9,734.8h0M499.1,698.0h0M488.4,717.8h0M478.1,727.1h0M501.8,698.5h0M480.3,716.5h0M488.8,712.5h0M455.1,693.9h0"/>
<path stroke="#646bd8" d="M570.7,679.0h0M601.4,683.8h0M579.9,688.4h0M619.3,695.1h0M621.7,678.6h0M598.8,688.8h0M597.7,686.8h0M614.0,685.9h0M626.6,688.8h0M610.6,683.9h0M585.9,691.5h0"/>
<path stroke="#4a4f9a" d="M546.8,632.6h0M552.5,643.9h0M551.1,655.4h0M562.0,636.3h0M559.8,646.6h0M566.6,648.6h0M538.3,648.5h0M548.7,644.6h0M580.6,642.5h0M566.9,653.7h0M547.3,641.5h0"/>
<path stroke="#7a3f80" d="M479.8,629.2h0M481.1,635.1h0M482.2,630.4h0M479.7,633.0h0M491.3,630.1h0M495.0,635.1h0M492.3,637.9h0M479.0,631.9h0M490.7,627.2h0M489.4,630.2h0"/>
<path stroke="#646bd8" d="M579.6,702.6h0M591.6,680.4h0M602.2,695.8h0M608.6,684.9h0M597.9,685.4h0M592.7,677.0h0M616.7,686.5h0M602.0,688.5h0M604.9,689.9h0M597.6,685.1h0M609.3,695.8h0"/>
<path stroke="#c391d6" d="M516.4,607.3h0M506.6,606.9h0M526.5,612.8h0M511.6,605.8h0M520.4,603.5h0M512.8,613.0h0M510.7,605.9h0M528.3,614.1h0M507.9,604.0h0M507.4,605.9h0M540.9,617.1h0"/>
<path stroke="#c391d6" d="M512.0,606.7h0M511.3,605.3h0M522.2,606.9h0M520.7,606.3h0M519.5,605.6h0M521.9,599.9h0M513.5,600.6h0M510.3,596.8h0M526.3,601.5h0M515.4,605.0h0M510.9,608.8h0"/>
<path stroke="#8e3545" d="M567.2,703.1h0M544.3,723.5h0M525.8,708.9h0M542.2,712.7h0M554.6,707.0h0M561.4,701.1h0M527.6,713.3h0M537.4,713.6h0M546.2,710.8h0M553.4,708.7h0M549.8,711.9h0"/>
<path stroke="#d4a874" d="M544.3,601.3h0M533.6,592.9h0M532.9,601.9h0M525.9,589.6h0M546.5,595.5h0M539.0,595.3h0M543.5,591.5h0M532.5,597.0h0M513.4,586.3h0M522.4,582.1h0"/>
<path stroke="#4d8840" d="M471.5,739.3h0M464.2,741.3h0M484.8,735.1h0M494.8,734.8h0M486.9,743.6h0M519.0,737.8h0M448.9,738.7h0M452.6,727.4h0M438.6,750.5h0M458.5,737.5h0M459.7,733.9h0"/>
<path stroke="#6e88d0" d="M503.3,681.5h0M510.8,680.2h0M499.6,676.9h0M515.1,686.2h0M505.9,691.0h0M484.5,682.1h0M521.4,676.0h0M525.4,689.7h0M496.4,680.6h0M493.3,675.8h0"/>
<path stroke="#4e8860" d="M443.8,762.0h0M463.4,760.8h0M463.0,769.6h0M460.4,768.1h0M461.1,765.1h0M456.8,760.8h0M471.2,757.8h0M474.4,754.5h0M466.4,761.6h0M466.1,764.5h0"/>
<path stroke="#7a3f80" d="M476.3,632.2h0M492.1,623.9h0M504.2,638.9h0M485.1,622.5h0M495.7,638.7h0M481.7,625.2h0M489.1,633.0h0M470.9,630.8h0M496.6,630.3h0M496.7,637.7h0M476.1,630.9h0"/>
<path stroke="#b3c47e" d="M553.5,613.5h0M546.3,608.5h0M549.5,613.0h0M557.1,620.7h0M556.2,619.3h0M562.5,613.9h0M550.7,618.0h0M549.7,620.4h0M547.2,606.5h0M561.4,611.6h0M552.8,608.2h0"/>
<path stroke="#4d8840" d="M460.8,746.2h0M505.8,731.8h0M508.0,743.7h0M448.4,742.2h0M441.0,732.4h0M471.2,743.4h0M511.5,737.3h0M501.1,732.2h0M495.7,748.8h0M493.4,735.6h0M487.7,745.8h0"/>
<path stroke="#8b50c0" d="M483.5,715.3h0M443.7,708.2h0M439.9,721.3h0M441.6,721.8h0M416.4,719.7h0M466.6,710.8h0M434.4,722.9h0M478.1,715.1h0"/>
<path stroke="#b3c47e" d="M546.7,611.8h0M544.6,606.0h0M549.1,606.6h0M561.2,624.6h0M558.4,609.4h0M560.6,611.9h0M547.8,611.4h0M554.4,610.6h0M534.9,610.2h0M558.9,620.9h0M562.8,616.5h0"/>
<path stroke="#7a3f80" d="M490.5,628.6h0M479.4,623.7h0M483.9,639.3h0M483.4,628.7h0M479.5,631.6h0M484.2,627.0h0M479.4,630.1h0M497.8,635.5h0M478.7,630.6h0M492.4,628.3h0"/>
<path stroke="#d98596" d="M619.1,621.5h0M617.9,618.8h0M627.4,633.4h0M619.1,620.3h0M617.7,632.7h0M621.0,621.0h0M628.3,634.7h0M630.7,631.4h0M631.4,618.9h0M627.6,642.2h0"/>
<path stroke="#6e88d0" d="M496.6,691.2h0M505.2,678.8h0M514.5,678.5h0M524.8,684.6h0M525.3,682.5h0M519.4,695.6h0M504.0,680.8h0M506.1,687.7h0M509.8,683.6h0M515.5,698.6h0M515.1,677.0h0"/>
<path stroke="#646bd8" d="M603.1,691.3h0M584.0,677.5h0M606.8,691.3h0M599.3,692.3h0M598.6,689.2h0M589.7,690.0h0M606.5,692.3h0M596.8,688.5h0M598.1,678.6h0M613.4,688.9h0"/>
<path stroke="#c391d6" d="M512.3,606.1h0M508.4,622.8h0M523.5,614.6h0M506.7,603.9h0M523.8,613.5h0M506.5,606.2h0M525.7,611.4h0M510.3,609.6h0M509.2,608.1h0M526.3,609.4h0"/>
<path stroke="#c391d6" d="M508.7,600.7h0M518.2,607.1h0M519.0,603.8h0M502.8,609.7h0M525.4,602.0h0M508.9,609.1h0M518.1,604.1h0M512.9,597.7h0M529.2,602.4h0M506.6,606.3h0"/>
<path stroke="#d8a040" d="M457.2,696.9h0M448.6,697.1h0M441.5,703.1h0M437.4,708.6h0M459.1,700.2h0M432.4,700.6h0M441.2,700.0h0M461.5,708.8h0M421.6,698.3h0M420.8,698.2h0M437.2,708.1h0"/>
<path stroke="#6e88d0" d="M491.2,673.0h0M516.7,685.5h0M499.5,681.1h0M507.7,681.1h0M504.3,684.4h0M511.7,679.5h0M512.4,685.5h0M507.6,671.1h0M485.8,683.2h0M516.4,680.0h0"/>
<path stroke="#d2cc58" d="M544.0,661.2h0M559.8,648.2h0M541.6,657.7h0M555.5,656.9h0M533.1,650.8h0M554.3,651.0h0M556.9,649.6h0M540.2,644.7h0M544.0,644.6h0M537.0,653.4h0M576.8,654.1h0"/>
<path stroke="#d0883e" d="M482.3,722.3h0M461.4,718.1h0M445.4,719.3h0M493.0,715.2h0M477.3,708.3h0M471.3,729.6h0M455.3,734.0h0M461.9,746.5h0M467.4,729.5h0M526.8,699.0h0"/>
<path stroke="#8b3d6a" d="M495.7,660.4h0M493.5,659.9h0M524.9,662.3h0M511.1,649.3h0M494.5,658.5h0M494.2,652.3h0M487.9,660.3h0M516.0,645.8h0M503.5,653.1h0M507.7,649.4h0M470.9,653.4h0"/>
<path stroke="#4a4f9a" d="M547.7,651.7h0M553.5,644.4h0M575.0,638.9h0M570.5,650.0h0M551.0,650.4h0M553.7,637.8h0M532.5,631.3h0M558.1,656.3h0M549.0,647.9h0M541.7,632.9h0"/>
<path stroke="#8b3d6a" d="M521.5,648.9h0M510.4,644.5h0M497.6,653.9h0M515.7,652.0h0M483.7,658.4h0M499.8,655.4h0M509.3,652.1h0M532.6,639.1h0M497.8,649.9h0M509.8,643.2h0"/>
<path stroke="#995733" d="M530.6,623.9h0M525.5,622.5h0M513.3,620.8h0M519.9,624.7h0M519.1,626.4h0M509.1,621.6h0M533.1,621.6h0M530.2,623.9h0M532.5,620.6h0M519.2,618.7h0"/>
<path stroke="#8fdc96" d="M525.3,741.2h0M544.6,727.7h0M527.4,711.6h0M522.4,729.7h0M542.3,724.9h0M553.4,714.2h0M531.6,733.1h0M539.3,722.3h0M527.9,716.8h0M543.4,706.2h0"/>
<path stroke="#d98596" d="M619.6,626.0h0M626.8,624.5h0M625.2,633.2h0M632.7,633.1h0M617.0,638.0h0M611.3,629.9h0M621.4,620.3h0M617.7,632.2h0M636.1,623.8h0M632.3,638.1h0"/>
<path stroke="#8b3d6a" d="M496.1,652.5h0M509.5,650.9h0M505.8,648.8h0M519.6,652.4h0M499.9,654.6h0M473.6,663.0h0M512.6,652.2h0M527.6,642.0h0M488.9,644.1h0M494.5,642.3h0"/>
<path stroke="#d0883e" d="M467.5,721.2h0M487.4,706.3h0M509.2,710.2h0M488.3,735.0h0M474.2,712.5h0M490.1,732.7h0M467.7,707.6h0M482.7,723.2h0M516.1,696.3h0M450.7,705.0h0M434.7,686.8h0"/>
<path stroke="#7dd3c3" d="M648.5,626.2h0M651.3,640.6h0M641.4,638.1h0M649.8,653.6h0M637.9,635.8h0M649.7,623.8h0M645.8,631.8h0M640.2,655.3h0M632.3,641.0h0M652.3,651.0h0"/>
<path stroke="#cc4878" d="M469.9,667.4h0M469.7,665.2h0M475.8,665.3h0M470.8,660.2h0M457.4,668.5h0M484.8,664.2h0M472.6,652.9h0M467.7,652.7h0M467.8,666.3h0M486.0,668.2h0"/>
<path stroke="#4e8860" d="M449.3,767.6h0M456.2,757.5h0M466.2,752.9h0M450.6,775.3h0M456.9,766.2h0M461.9,768.8h0M447.2,766.5h0M456.8,763.0h0M471.2,753.1h0M460.0,756.0h0"/>
<path stroke="#7a7030" d="M466.3,711.9h0M476.6,702.3h0M472.1,695.4h0M466.8,716.5h0M436.6,717.7h0M480.0,722.2h0M447.6,718.0h0M456.7,725.7h0M462.2,704.4h0M465.0,722.0h0M467.0,724.4h0"/>
<path stroke="#646bd8" d="M596.5,691.3h0M599.8,690.0h0M601.2,688.1h0M621.7,689.8h0M590.7,679.2h0M607.9,687.7h0M612.6,686.5h0M597.4,684.4h0M581.6,701.7h0M563.2,679.9h0"/>
<path stroke="#8e3545" d="M539.6,705.9h0M539.4,715.0h0M553.8,707.4h0M546.8,706.1h0M554.9,713.0h0M534.8,717.9h0M536.3,709.7h0M555.3,707.5h0M538.2,707.8h0M544.4,710.5h0"/>
<path stroke="#8e3545" d="M568.9,709.6h0M553.0,707.5h0M550.4,718.1h0M546.0,720.5h0M539.9,711.8h0M555.6,700.8h0M548.0,709.4h0M551.8,714.2h0M549.4,709.7h0M531.0,703.5h0"/>
<path stroke="#d2cc58" d="M549.6,650.0h0M523.1,658.6h0M540.5,665.2h0M520.3,653.4h0M541.5,660.3h0M564.7,645.9h0M557.1,643.3h0M535.6,655.2h0M540.4,659.2h0M541.4,656.6h0"/>
<path stroke="#d2cc58" d="M553.9,657.7h0M530.7,651.1h0M558.8,652.6h0M555.9,659.0h0M536.6,663.3h0M541.2,659.0h0M550.0,659.1h0M551.1,640.3h0M546.1,664.6h0M541.8,665.9h0M548.2,654.8h0"/>
<path stroke="#4e8860" d="M463.8,760.7h0M451.9,759.2h0M456.6,765.9h0M463.8,782.0h0M453.9,768.6h0M468.7,761.0h0M455.8,761.8h0M447.9,746.8h0M453.1,771.0h0M465.7,752.5h0"/>
<path stroke="#4e8860" d="M458.9,760.9h0M454.7,761.7h0M456.5,768.9h0M458.3,769.1h0M453.8,767.2h0M444.5,757.8h0M462.0,778.2h0M448.7,769.0h0M477.2,776.2h0M450.1,765.1h0M456.9,764.4h0"/>
<path stroke="#d2cc58" d="M554.3,651.9h0M554.7,654.5h0M532.8,661.9h0M534.5,666.1h0M554.5,643.0h0M549.5,654.2h0M537.6,655.6h0M548.3,654.0h0M559.6,657.8h0M524.4,657.5h0"/>
<path stroke="#7dd3c3" d="M645.4,652.1h0M645.3,648.3h0M641.3,650.7h0M615.4,640.0h0M642.9,638.4h0M651.6,628.5h0M634.7,644.8h0M647.0,627.8h0M642.5,621.0h0M611.7,649.6h0"/>
<path stroke="#7a7030" d="M471.0,694.6h0M472.9,679.3h0M466.6,720.5h0M481.1,710.3h0M472.9,695.7h0M478.5,730.4h0M484.3,708.7h0M473.7,707.6h0M472.0,702.8h0M448.1,715.2h0M459.9,719.8h0"/>
<path stroke="#4d8840" d="M467.7,737.4h0M495.9,740.7h0M476.8,746.0h0M485.0,738.7h0M509.3,738.8h0M463.1,742.9h0M483.8,741.5h0M469.2,738.1h0M474.5,746.7h0M465.6,733.8h0M451.0,736.5h0"/>
<path stroke="#4d8840" d="M488.3,736.3h0M469.2,724.1h0M470.5,733.7h0M455.8,750.8h0M493.3,735.5h0M466.5,738.1h0M499.1,735.6h0M507.3,728.8h0M489.7,738.3h0M483.5,735.6h0M505.6,737.5h0"/>
<path stroke="#7a7030" d="M427.9,706.5h0M476.3,720.2h0M470.2,715.8h0M460.0,714.7h0M478.9,695.4h0M486.5,720.2h0M472.9,729.7h0M477.4,736.4h0M446.1,711.3h0M460.5,712.8h0M462.7,699.5h0"/>
<path stroke="#7a7030" d="M471.3,719.8h0M466.7,712.1h0M476.4,736.3h0M478.8,721.3h0M463.2,714.9h0M478.0,719.2h0M465.8,699.9h0M467.3,722.0h0M476.4,702.4h0M473.4,696.7h0M491.5,728.2h0"/>
<path stroke="#7dd3c3" d="M644.5,620.5h0M638.8,654.4h0M649.5,628.5h0M642.7,635.8h0M644.3,644.0h0M648.1,636.7h0M592.1,630.3h0M648.5,638.1h0M650.2,634.8h0M642.3,655.1h0M643.2,624.9h0"/>
<path stroke="#7a7030" d="M479.3,716.2h0M475.4,704.6h0M467.3,698.5h0M469.6,692.8h0M445.7,716.7h0M492.9,713.6h0M480.3,712.6h0M471.7,709.8h0M468.2,732.5h0M459.5,708.7h0M477.7,690.8h0"/>
<path stroke="#d8a040" d="M292.0,958.4h0M282.5,971.9h0M299.4,953.4h0M290.3,975.1h0M279.3,962.0h0M287.8,973.5h0M295.4,973.9h0M298.4,975.4h0M293.4,958.3h0M287.7,975.1h0M299.7,973.0h0"/>
<path stroke="#d0883e" d="M268.2,922.0h0M263.0,963.4h0M258.7,931.9h0M253.1,927.4h0M264.9,953.8h0M272.2,933.0h0M277.5,986.7h0M280.3,942.9h0M266.2,939.4h0M283.2,964.3h0"/>
<path stroke="#d8a040" d="M303.7,959.5h0M295.1,972.1h0M280.1,958.0h0M285.5,959.2h0M299.0,971.0h0M282.8,962.8h0M306.9,963.7h0M287.4,953.4h0M302.5,956.0h0M290.8,977.1h0"/>
<path stroke="#646bd8" d="M234.0,1002.2h0M230.5,1010.2h0M243.4,996.6h0M242.0,1004.7h0M233.1,1013.8h0M241.8,1006.1h0M232.5,1005.2h0M240.4,1013.8h0M228.6,1004.8h0M241.3,1009.3h0"/>
<path stroke="#d0883e" d="M276.8,963.2h0M254.0,948.1h0M253.3,963.5h0M254.5,928.3h0M266.2,970.0h0M274.5,923.2h0M272.9,956.2h0M276.3,945.1h0M261.2,931.6h0M266.0,949.8h0M257.4,932.0h0"/>
<path stroke="#b02828" d="M274.4,951.4h0M299.9,965.6h0M273.5,956.8h0M280.7,962.4h0M284.6,960.2h0M294.0,955.2h0M263.9,969.6h0"/>
<path stroke="#7a3f80" d="M71.1,1023.1h0M77.4,1018.9h0M81.7,1018.4h0M88.6,1016.4h0M85.1,1027.8h0M87.6,1030.4h0M94.4,1017.6h0M77.8,1032.5h0M78.8,1019.7h0M80.2,1022.5h0"/>
<path stroke="#4a4f9a" d="M159.2,971.7h0M160.8,976.4h0M167.9,981.8h0M170.8,965.0h0M160.1,961.4h0M158.9,970.7h0M173.1,969.8h0M155.4,953.9h0M145.4,979.7h0M152.9,972.3h0"/>
<path stroke="#646bd8" d="M246.9,998.7h0M234.9,998.2h0M239.5,1008.1h0M229.6,1008.3h0M229.2,1005.0h0M248.1,1012.1h0M232.3,1004.5h0M244.2,1009.8h0M241.3,1012.1h0M241.5,1006.2h0"/>
<path stroke="#c656b8" d="M241.2,924.0h0M246.3,944.5h0M254.0,921.0h0M248.9,936.8h0M250.2,925.0h0M246.7,921.6h0M253.3,913.5h0M247.9,932.9h0M256.7,931.1h0M243.5,930.2h0M251.1,927.5h0"/>
<path stroke="#d8a040" d="M292.1,975.8h0M296.0,967.8h0M297.3,945.9h0M300.9,951.8h0M301.7,958.5h0M287.1,960.6h0M282.1,954.5h0M299.2,966.7h0M302.7,954.2h0M304.5,960.0h0"/>
<path stroke="#8fdc96" d="M202.3,931.3h0M215.6,938.5h0M212.0,929.1h0M199.0,942.8h0M200.8,924.2h0M211.0,938.8h0M212.1,940.4h0M220.4,928.7h0M220.5,937.5h0M204.0,926.0h0"/>
<path stroke="#d4a874" d="M94.0,990.9h0M89.8,980.0h0M106.2,976.2h0M88.9,974.6h0M84.2,979.8h0M97.9,981.3h0M91.8,972.3h0M96.8,968.5h0M93.4,973.0h0M96.1,985.2h0M95.2,981.6h0"/>
<path stroke="#995733" d="M124.6,1005.7h0M107.3,997.1h0M115.9,1007.5h0M114.8,1000.8h0M108.2,1011.7h0M118.3,998.4h0M109.3,1002.8h0M119.8,1010.2h0M113.5,1007.0h0M125.3,1010.3h0"/>
<path stroke="#c391d6" d="M108.8,952.9h0M108.4,954.2h0M117.3,962.7h0M111.6,962.7h0M106.1,954.7h0M115.9,954.4h0M116.2,962.4h0M110.5,952.9h0M114.8,950.0h0M101.9,954.5h0"/>
<path stroke="#995733" d="M101.2,1001.8h0M118.7,1001.3h0M100.9,1003.6h0M112.1,1009.8h0M109.3,1012.8h0M123.8,1007.6h0M112.0,1015.0h0M118.1,999.0h0M113.4,1016.0h0M109.6,1012.1h0"/>
<path stroke="#cc4878" d="M178.0,870.2h0M195.1,866.9h0M186.2,875.8h0M193.3,875.0h0M194.2,877.2h0M187.3,876.5h0M181.8,879.1h0M172.7,875.2h0M171.5,879.4h0M185.5,863.1h0"/>
<path stroke="#8b50c0" d="M277.7,943.1h0M288.1,937.2h0M273.1,937.3h0M296.9,929.8h0M296.6,937.7h0M296.7,932.1h0M278.5,938.2h0M297.4,930.0h0M284.8,937.1h0M285.6,929.3h0"/>
<path stroke="#de6530" d="M159.1,1017.6h0M156.5,1031.4h0M150.6,1023.8h0M165.5,1036.9h0M161.5,1033.1h0M177.0,1035.6h0M162.0,1032.8h0M167.5,1031.5h0M156.3,1021.3h0M166.8,1028.0h0"/>
<path stroke="#85b84a" d="M224.8,967.8h0M213.8,973.1h0M235.0,966.8h0M206.0,970.2h0M230.3,965.7h0M223.7,976.5h0M212.3,967.1h0M227.8,967.1h0M220.7,973.0h0M215.6,961.0h0"/>
<path stroke="#b02828" d="M286.2,959.2h0M266.6,963.3h0M282.3,961.7h0M280.3,957.4h0M277.6,945.4h0M273.1,954.0h0M263.0,955.0h0M288.4,957.0h0"/>
<path stroke="#995733" d="M100.7,1003.4h0M107.0,1001.8h0M111.1,1004.6h0M112.9,999.2h0M126.1,1003.1h0M119.5,1000.0h0M117.8,1011.7h0M123.5,1001.6h0M121.3,1004.7h0M111.0,1012.3h0M122.1,1007.5h0"/>
<path stroke="#d4a874" d="M91.4,986.8h0M98.6,978.6h0M93.0,979.5h0M89.9,974.1h0M89.5,983.3h0M101.8,974.5h0M86.2,977.2h0M98.4,968.7h0M96.7,978.9h0M93.8,976.2h0"/>
<path stroke="#d8a040" d="M286.9,964.4h0M300.4,958.7h0M298.9,955.7h0M279.8,964.3h0M300.0,964.7h0M291.5,952.0h0M294.0,972.5h0M291.4,957.1h0M291.0,969.0h0M295.4,957.3h0"/>
<path stroke="#8b50c0" d="M293.5,933.9h0M282.1,947.9h0M287.3,928.6h0M285.6,939.8h0M291.0,947.2h0M283.3,938.4h0M288.0,944.7h0M281.9,945.2h0M290.7,943.2h0M276.8,934.8h0"/>
<path stroke="#6e88d0" d="M183.5,900.6h0M172.8,897.3h0M181.6,900.7h0M182.3,900.1h0M193.1,921.4h0M184.6,886.4h0M171.5,891.2h0M169.1,896.0h0M170.7,902.8h0M174.9,886.1h0"/>
<path stroke="#85b84a" d="M218.6,969.0h0M220.4,974.5h0M227.1,973.4h0M216.1,980.3h0M224.1,965.9h0M218.8,972.7h0M229.9,973.5h0M223.4,979.9h0M224.7,975.1h0M218.6,963.3h0"/>
<path stroke="#7a7030" d="M252.7,943.6h0M251.8,943.1h0M253.3,929.1h0M271.0,948.4h0M278.5,946.4h0M278.7,958.8h0M253.8,947.1h0M273.1,956.0h0M274.6,956.1h0M282.9,950.2h0M273.2,954.2h0"/>
<path stroke="#d2cc58" d="M166.7,988.6h0M183.6,983.5h0M178.3,966.3h0M169.5,971.6h0M175.3,979.2h0M181.9,985.5h0M154.8,967.3h0M185.2,966.4h0M173.7,963.3h0M168.8,988.6h0"/>
<path stroke="#7a3f80" d="M90.0,1013.9h0M119.5,1003.1h0M86.1,1018.2h0M87.2,1015.4h0M80.3,1029.0h0M89.1,1014.0h0M76.8,1019.0h0M88.2,1023.3h0M73.5,1018.3h0M81.7,1018.2h0M83.8,1019.8h0"/>
<path stroke="#8fdc96" d="M202.4,924.4h0M205.0,943.5h0M217.1,928.6h0M211.7,943.3h0M218.0,930.9h0M208.4,931.3h0M207.9,945.8h0M199.9,934.1h0M215.8,944.0h0M215.4,941.2h0M197.3,936.1h0"/>
<path stroke="#639dd6" d="M268.4,866.1h0M279.9,869.5h0M279.9,872.6h0M292.2,871.9h0M273.7,870.8h0M277.3,878.5h0M268.8,870.9h0M276.4,864.7h0M287.0,870.7h0M272.0,867.2h0"/>
<path stroke="#b3c47e" d="M137.5,960.5h0M137.9,966.8h0M143.3,964.1h0M137.4,970.6h0M130.5,955.9h0M132.7,964.7h0M122.0,969.0h0M137.3,963.1h0M134.6,976.5h0M126.5,967.3h0"/>
<path stroke="#cc4878" d="M186.4,881.7h0M176.9,875.2h0M193.9,864.4h0M179.9,867.7h0M171.9,868.4h0M174.1,868.7h0M179.1,865.8h0M172.2,879.4h0M175.8,876.3h0M169.2,873.8h0"/>
<path stroke="#c656b8" d="M258.1,925.3h0M247.1,918.3h0M249.3,911.0h0M245.7,930.6h0M249.4,927.3h0M242.3,926.2h0M247.3,940.7h0M244.3,924.0h0M241.9,923.7h0M249.7,916.8h0M248.0,931.5h0"/>
<path stroke="#646bd8" d="M246.5,999.7h0M239.8,1011.2h0M234.5,998.8h0M232.5,1008.9h0M237.4,1000.1h0M247.0,1010.2h0M243.0,1000.5h0M239.3,1009.1h0M247.7,1007.7h0M232.0,1009.6h0M234.2,1006.0h0"/>
<path stroke="#d4a874" d="M101.9,979.2h0M99.1,976.1h0M85.5,984.3h0M88.0,979.1h0M88.5,976.7h0M94.5,975.2h0M92.0,969.0h0M87.9,987.9h0M100.8,973.3h0M89.8,972.4h0M96.4,973.0h0"/>
<path stroke="#639dd6" d="M276.0,867.0h0M288.7,876.1h0M274.9,874.2h0M276.4,858.3h0M278.3,864.0h0M266.1,865.1h0M293.2,862.1h0M278.9,858.8h0M280.3,864.8h0M270.9,871.0h0"/>
<path stroke="#8b3d6a" d="M176.2,936.7h0M211.3,896.1h0M232.8,893.4h0M199.6,891.5h0M205.7,892.7h0M130.5,990.2h0M212.9,899.9h0M204.0,887.6h0M168.3,932.6h0M204.7,896.3h0"/>
<path stroke="#8fdc96" d="M211.0,938.2h0M207.0,930.8h0M217.9,940.5h0M200.1,936.4h0M214.4,930.2h0M196.4,929.9h0M219.3,936.7h0M196.7,942.0h0M202.4,934.5h0M206.7,938.5h0M224.9,935.4h0"/>
<path stroke="#7dd3c3" d="M180.5,1039.3h0M178.7,1038.2h0M181.9,1046.5h0M195.4,1044.5h0M189.0,1034.1h0M196.7,1037.0h0M192.2,1036.5h0M189.5,1048.3h0M183.6,1042.4h0M194.8,1039.4h0M190.2,1045.7h0"/>
<path stroke="#7dd3c3" d="M187.2,1037.0h0M186.6,1044.3h0M150.3,1046.6h0M192.7,1034.3h0M177.6,1043.6h0M181.2,1031.4h0M188.4,1043.0h0M179.0,1038.0h0M190.3,1054.6h0M195.9,1038.7h0M182.0,1039.8h0"/>
<path stroke="#cc4878" d="M179.2,865.6h0M183.9,874.0h0M183.6,884.4h0M173.9,879.7h0M195.2,871.6h0M189.8,873.9h0M191.3,873.8h0M187.8,863.4h0M193.9,875.5h0M181.1,869.6h0M170.3,881.0h0"/>
<path stroke="#d2cc58" d="M163.5,988.0h0M162.7,991.7h0M164.6,965.0h0M168.0,964.6h0M174.0,972.5h0M176.0,964.2h0M183.7,964.8h0M184.2,967.1h0M180.2,983.4h0M165.9,984.1h0"/>
<path stroke="#7dd3c3" d="M190.7,1030.3h0M187.7,1041.8h0M180.7,1052.1h0M187.3,1044.6h0M195.0,1043.0h0M180.5,1035.2h0M191.1,1037.7h0M177.9,1047.0h0M177.0,1046.3h0M182.1,1040.0h0M192.2,1032.9h0"/>
<path stroke="#7a3f80" d="M92.2,1020.1h0M85.6,1026.2h0M79.7,1022.9h0M82.3,1031.3h0M93.1,1025.3h0M82.7,1025.3h0M79.1,1023.8h0M78.1,1016.6h0M81.3,1017.8h0M95.7,1014.6h0"/>
<path stroke="#8b50c0" d="M284.6,928.1h0M287.5,947.8h0M295.4,943.6h0M289.0,933.3h0M285.9,933.4h0M300.7,936.1h0M293.2,938.0h0M273.1,935.9h0M272.4,941.6h0M299.3,944.1h0"/>
<path stroke="#4a4f9a" d="M157.4,969.2h0M165.6,967.4h0M161.0,983.9h0M166.8,971.8h0M157.8,967.8h0M147.6,982.3h0M150.3,979.3h0M171.3,983.1h0M167.5,987.7h0M160.2,969.0h0"/>
<path stroke="#8b3d6a" d="M207.7,893.2h0M198.9,888.6h0M208.4,901.2h0M167.8,934.1h0M198.3,883.1h0M167.3,929.6h0M207.8,899.4h0M199.0,888.5h0M167.7,930.6h0M200.5,889.2h0M205.7,896.8h0"/>
<path stroke="#995733" d="M119.3,1004.3h0M109.8,1007.5h0M107.2,1012.2h0M118.0,1005.8h0M111.8,1003.6h0M118.9,1004.6h0M109.8,997.3h0M111.5,1007.4h0M113.0,1001.8h0M117.6,996.1h0M116.6,998.4h0"/>
<path stroke="#4a4f9a" d="M167.1,962.9h0M160.6,985.2h0M166.3,982.0h0M154.0,965.3h0M153.2,976.6h0M155.2,957.1h0M161.1,970.4h0M152.3,971.5h0M153.8,969.4h0M144.0,977.1h0"/>
<path stroke="#639dd6" d="M270.5,874.8h0M291.8,863.1h0M277.6,867.4h0M269.0,858.8h0M294.6,864.3h0M278.6,870.7h0M290.1,863.7h0M273.0,858.3h0M272.4,877.0h0M268.8,865.8h0M284.1,865.7h0"/>
<path stroke="#4a4f9a" d="M173.0,964.3h0M154.3,974.5h0M161.4,976.6h0M160.4,969.7h0M170.7,984.8h0M153.5,985.7h0M147.5,984.2h0M147.7,965.2h0M161.4,969.8h0M148.7,983.3h0"/>
<path stroke="#85b84a" d="M214.1,976.3h0M216.8,972.1h0M205.7,969.9h0M225.4,967.4h0M213.4,965.3h0M228.9,961.5h0M218.8,972.3h0M206.5,969.4h0M213.0,978.8h0M220.6,963.0h0"/>
<path stroke="#d2cc58" d="M169.6,973.0h0M177.5,973.4h0M181.1,982.2h0M167.2,962.3h0M163.2,964.6h0M159.5,969.1h0M184.6,973.7h0M179.9,980.9h0M164.2,974.7h0M174.4,984.9h0"/>
<path stroke="#4d8840" d="M249.1,923.3h0M274.2,929.0h0M268.2,944.6h0M262.1,926.7h0M269.1,928.3h0M266.1,927.1h0M266.5,925.7h0M245.9,912.2h0M264.7,926.0h0M259.0,935.9h0M267.5,918.5h0"/>
<path stroke="#cc4878" d="M189.6,870.6h0M181.6,876.8h0M182.6,884.6h0M170.5,873.2h0M186.6,869.9h0M176.7,875.0h0M175.8,868.8h0M182.4,880.8h0M184.8,879.4h0M174.1,872.1h0"/>
<path stroke="#6e88d0" d="M190.6,895.9h0M178.6,891.7h0M173.2,892.2h0M168.1,896.8h0M175.1,904.1h0M185.3,903.4h0M179.6,885.6h0M177.6,900.8h0M176.8,909.7h0M170.7,900.1h0M176.1,901.3h0"/>
<path stroke="#995733" d="M111.3,1007.1h0M124.7,1001.1h0M108.0,998.5h0M117.6,997.0h0M114.4,996.2h0M109.6,1015.2h0M120.5,1011.6h0M119.8,997.0h0M115.6,1002.3h0M111.4,999.3h0"/>
<path stroke="#85b84a" d="M226.1,964.1h0M230.7,970.3h0M231.1,968.9h0M205.3,970.7h0M229.3,972.5h0M214.1,979.5h0M234.6,976.1h0M217.4,973.7h0M233.7,966.7h0M215.6,962.8h0M214.5,967.5h0"/>
<path stroke="#7dd3c3" d="M188.2,1041.8h0M195.4,1044.4h0M197.7,1040.2h0M188.4,1042.1h0M186.6,1030.4h0M189.7,1041.9h0M193.9,1040.1h0M173.7,1016.7h0M187.3,1029.9h0M189.4,1038.8h0"/>
<path stroke="#8e3545" d="M203.9,941.0h0M217.0,946.5h0M205.3,952.6h0M228.1,948.1h0M222.7,955.1h0M229.9,951.4h0M220.8,955.0h0M212.7,947.3h0M208.2,950.9h0M219.2,942.0h0M205.2,953.2h0"/>
<path stroke="#646bd8" d="M233.0,998.0h0M242.7,1003.4h0M241.8,1003.3h0M250.4,1011.9h0M234.0,999.7h0M235.8,998.3h0M236.2,1016.1h0M238.1,1005.3h0M233.2,1000.0h0M240.6,1012.9h0"/>
<path stroke="#d4a874" d="M100.2,987.9h0M92.3,969.9h0M95.2,974.8h0M92.2,980.1h0M96.7,969.8h0M105.3,973.9h0M106.5,976.3h0M96.3,981.1h0M98.0,988.0h0M92.7,988.3h0"/>
<path stroke="#b3c47e" d="M135.0,973.9h0M135.9,976.1h0M139.3,969.7h0M133.4,967.6h0M138.1,970.2h0M130.7,956.0h0M134.4,957.2h0M138.9,967.9h0M124.5,972.3h0M133.2,968.6h0"/>
<path stroke="#b02828" d="M290.1,966.6h0M281.8,969.2h0M282.0,968.0h0M264.7,972.3h0M271.2,973.0h0M275.1,960.7h0M291.5,957.5h0M293.4,975.4h0"/>
<path stroke="#b3c47e" d="M138.2,966.1h0M133.0,971.8h0M137.0,963.3h0M143.7,963.4h0M139.2,959.5h0M128.9,964.8h0M140.5,972.9h0M142.2,970.9h0M130.7,961.8h0M133.4,977.0h0"/>
<path stroke="#4a4f9a" d="M171.4,975.9h0M160.6,964.4h0M161.7,970.1h0M154.3,973.8h0M159.4,968.7h0M153.7,990.4h0M162.4,983.3h0M150.5,972.8h0M147.5,960.4h0M152.4,984.0h0M163.4,967.8h0"/>
<path stroke="#7a7030" d="M274.1,963.1h0M269.9,955.7h0M279.2,971.0h0M273.2,947.3h0M277.1,946.8h0M279.0,949.5h0M269.0,958.2h0M272.2,953.6h0M263.4,943.0h0M281.0,963.9h0M273.9,952.8h0"/>
<path stroke="#b3c47e" d="M129.6,972.5h0M125.3,970.5h0M135.0,966.0h0M129.8,965.2h0M139.0,961.2h0M139.9,976.0h0M129.7,966.3h0M132.5,973.7h0M134.9,979.5h0M122.6,968.3h0M122.4,969.5h0"/>
<path stroke="#c656b8" d="M247.8,925.7h0M253.1,922.1h0M250.1,942.2h0M247.5,929.4h0M248.0,914.0h0M255.7,921.3h0M251.8,935.0h0M246.7,931.5h0M251.4,915.0h0M245.1,931.4h0"/>
<path stroke="#8fdc96" d="M212.3,932.3h0M212.5,936.7h0M222.1,939.0h0M218.4,941.5h0M220.5,937.2h0M210.0,943.6h0M199.1,932.1h0M212.2,932.4h0M200.8,930.8h0M215.1,944.1h0"/>
<path stroke="#85b84a" d="M217.2,963.7h0M220.1,974.5h0M213.2,975.9h0M227.4,968.1h0M219.9,968.7h0M218.0,972.2h0M209.7,970.8h0M227.0,965.8h0M225.1,973.2h0M221.9,970.6h0"/>
<path stroke="#646bd8" d="M233.4,1015.5h0M240.8,1004.6h0M244.9,1013.3h0M246.1,1013.9h0M247.5,1007.5h0M248.9,999.8h0M239.8,995.4h0M239.2,1013.6h0M229.1,1010.4h0M236.7,1003.7h0M243.3,1013.6h0"/>
<path stroke="#7dd3c3" d="M180.6,1044.6h0M195.5,1048.6h0M182.0,1038.2h0M191.6,1033.0h0M187.5,1044.7h0M183.6,1038.6h0M184.4,1049.3h0M182.9,1054.0h0M197.7,1041.5h0M186.9,1051.8h0M184.7,1040.7h0"/>
<path stroke="#de6530" d="M171.0,1030.3h0M176.5,1032.7h0M159.3,1030.4h0M154.2,1020.5h0M156.9,1023.7h0M171.1,1019.8h0M164.5,1025.8h0M163.4,1025.6h0M154.4,1024.7h0M165.6,1030.2h0"/>
<path stroke="#c391d6" d="M123.6,978.1h0M110.8,952.8h0M120.9,966.8h0M113.4,956.1h0M105.9,957.7h0M123.5,972.5h0M113.1,949.2h0M117.7,954.6h0M103.6,959.0h0M120.5,952.5h0M112.9,958.7h0"/>
<path stroke="#646bd8" d="M243.4,1001.2h0M236.3,997.6h0M249.5,1003.6h0M242.2,1008.8h0M246.4,1001.7h0M230.0,1009.2h0M251.2,1000.3h0M236.2,1003.8h0M236.4,1014.1h0M232.5,1006.1h0"/>
<path stroke="#d4a874" d="M97.6,978.2h0M94.4,982.0h0M105.6,988.4h0M90.3,969.1h0M99.3,981.3h0M100.0,982.0h0M106.5,983.6h0M88.4,971.8h0M98.3,970.1h0M95.6,980.8h0"/>
<path stroke="#d8a040" d="M290.5,946.3h0M291.2,966.4h0M291.4,971.0h0M285.8,969.3h0M292.1,960.8h0M296.2,963.9h0M302.9,952.5h0M288.6,975.0h0M280.9,956.3h0M300.1,947.3h0"/>
<path stroke="#c391d6" d="M106.6,957.7h0M116.2,960.8h0M103.2,959.3h0M101.8,954.8h0M112.8,961.6h0M108.1,963.0h0M116.1,949.9h0M108.3,951.5h0M114.0,955.3h0M101.1,956.9h0"/>
<path stroke="#8b3d6a" d="M209.5,895.1h0M168.2,926.6h0M158.1,1013.6h0M170.5,930.3h0M201.7,887.3h0M209.5,895.7h0M202.7,891.1h0M209.9,898.8h0M164.5,929.0h0M163.2,927.8h0M205.1,895.8h0"/>
<path stroke="#de6530" d="M162.3,1016.5h0M177.6,1032.3h0M166.5,1021.6h0M177.6,1028.3h0M158.8,1028.7h0M160.9,1017.9h0M168.3,1026.8h0M178.2,1027.9h0M173.5,1021.1h0M180.1,1033.2h0M153.4,1020.7h0"/>
<path stroke="#de6530" d="M161.5,1027.6h0M170.2,1031.5h0M173.6,1030.8h0M154.8,1021.7h0M159.2,1027.7h0M170.0,1031.4h0M171.4,1037.1h0M159.8,1033.7h0M168.9,1024.3h0M167.8,1021.5h0"/>
<path stroke="#639dd6" d="M279.1,868.3h0M281.0,873.5h0M279.4,858.1h0M276.8,874.9h0M289.3,869.9h0M292.4,868.4h0M292.2,869.7h0M292.6,871.1h0M287.1,863.0h0M265.9,867.9h0"/>
<path stroke="#de6530" d="M160.4,1025.0h0M167.0,1033.9h0M164.7,1029.9h0M172.5,1034.7h0M161.3,1025.5h0M159.5,1029.2h0M97.9,1003.4h0M163.1,1020.4h0M168.5,1022.4h0M168.3,1025.0h0M157.0,1032.9h0"/>
<path stroke="#7a7030" d="M269.6,962.0h0M268.1,953.3h0M272.8,950.8h0M253.8,943.4h0M282.2,932.2h0M268.9,954.3h0M258.2,946.5h0M268.8,956.3h0M282.3,964.2h0M283.5,941.8h0"/>
<path stroke="#7a7030" d="M266.5,960.0h0M258.8,943.4h0M261.7,956.6h0M282.3,950.2h0M274.7,950.7h0M271.1,953.1h0M270.9,938.5h0M280.8,943.7h0M270.2,958.3h0M292.4,933.4h0"/>
<path stroke="#4d8840" d="M264.9,920.8h0M249.0,946.1h0M249.8,907.1h0M255.4,914.3h0M270.0,886.0h0M263.5,908.1h0M266.5,937.9h0M261.8,919.4h0M259.3,924.6h0M255.6,929.2h0"/>
<path stroke="#d8a040" d="M301.4,951.9h0M288.2,963.5h0M296.1,957.6h0M297.7,957.0h0M295.9,972.5h0M305.0,955.1h0M302.5,954.0h0M287.4,960.4h0M285.2,959.9h0M289.9,946.9h0M300.2,958.1h0"/>
<path stroke="#4e8860" d="M279.6,889.9h0M276.7,884.5h0M275.4,875.9h0M270.5,879.5h0M288.2,881.1h0M273.2,888.6h0M282.9,881.5h0M276.0,869.6h0M288.2,870.9h0M298.5,875.8h0M279.0,875.8h0"/>
<path stroke="#d0883e" d="M267.6,943.0h0M278.0,933.3h0M272.7,934.4h0M247.0,942.3h0M265.0,948.9h0M260.7,941.8h0M268.4,923.5h0M279.6,958.3h0M255.5,929.1h0M293.2,952.0h0M260.3,937.9h0"/>
<path stroke="#c391d6" d="M113.5,963.1h0M112.4,953.9h0M116.3,954.9h0M116.2,946.1h0M107.0,953.0h0M113.4,962.6h0M121.4,963.8h0M118.2,962.7h0M123.9,971.1h0M115.7,954.8h0M106.8,947.8h0"/>
<path stroke="#8fdc96" d="M208.8,940.3h0M207.6,934.1h0M193.0,937.3h0M211.0,941.6h0M204.7,936.3h0M216.5,942.7h0M217.5,932.9h0M208.9,927.3h0M212.9,927.6h0M212.0,939.4h0"/>
<path stroke="#d2cc58" d="M171.7,977.7h0M164.8,991.9h0M177.2,982.5h0M162.2,967.3h0M175.7,969.4h0M178.1,974.7h0M166.4,956.5h0M175.0,961.2h0M170.3,972.3h0M169.6,978.2h0M176.1,984.5h0"/>
<path stroke="#d4a874" d="M96.7,979.4h0M107.9,984.2h0M99.9,971.5h0M106.3,983.9h0M97.9,970.9h0M106.4,985.0h0M96.3,987.4h0M90.4,988.1h0M90.9,982.3h0M95.9,990.9h0"/>
<path stroke="#d98596" d="M174.3,1049.7h0M154.7,1035.1h0M166.6,1052.5h0M167.8,1038.0h0M172.5,1029.9h0M167.2,1030.2h0M165.6,1045.7h0M174.5,1039.4h0M167.0,1048.4h0M170.4,1033.2h0"/>
<path stroke="#639dd6" d="M277.7,870.4h0M282.8,864.4h0M266.3,870.8h0M278.0,866.9h0M265.6,863.0h0M265.9,864.1h0M286.3,869.0h0M292.3,873.2h0M273.5,862.3h0M282.2,858.6h0"/>
<path stroke="#b02828" d="M297.7,960.0h0M288.8,961.2h0M279.5,948.2h0M287.4,957.6h0M279.4,962.5h0M273.0,970.3h0M272.2,952.3h0M283.9,963.5h0"/>
<path stroke="#d0883e" d="M252.4,938.6h0M271.5,940.1h0M282.0,925.8h0M234.1,923.9h0M264.9,958.2h0M256.5,943.4h0M279.2,958.9h0M282.7,954.8h0M265.5,929.8h0M286.9,937.2h0M252.2,943.4h0"/>
<path stroke="#8b50c0" d="M293.5,932.5h0M287.7,928.0h0M285.4,937.7h0M285.0,936.4h0M278.7,944.5h0M280.1,943.0h0M279.1,944.4h0M301.5,939.1h0M296.8,946.2h0M283.8,930.1h0"/>
<path stroke="#b02828" d="M259.1,961.5h0M261.0,964.7h0M289.4,962.3h0M280.9,966.1h0M286.7,964.4h0M293.3,960.3h0M286.4,953.0h0"/>
<path stroke="#8e3545" d="M217.0,949.0h0M209.1,953.8h0M202.3,945.4h0M218.0,939.8h0M201.5,942.8h0M203.4,939.7h0M197.8,943.1h0M198.9,939.6h0M208.3,946.8h0M202.0,948.4h0"/>
<path stroke="#b3c47e" d="M121.1,967.8h0M130.5,979.0h0M136.5,976.0h0M126.8,956.5h0M132.7,973.7h0M133.4,956.8h0M135.6,977.6h0M128.2,967.8h0M134.7,965.2h0M135.0,971.4h0"/>
<path stroke="#cc4878" d="M189.5,873.5h0M173.2,879.9h0M182.1,870.7h0M178.7,876.4h0M185.0,870.3h0M189.2,871.2h0M172.5,865.8h0M178.2,877.1h0M180.3,865.8h0M174.7,871.8h0M182.8,873.1h0"/>
<path stroke="#6e88d0" d="M174.1,884.1h0M164.0,898.1h0M185.6,903.5h0M184.2,891.5h0M168.2,897.5h0M162.7,894.8h0M185.7,898.4h0M181.3,896.3h0M185.9,899.1h0M179.2,891.0h0"/>
<path stroke="#d0883e" d="M259.4,944.8h0M271.7,936.3h0M277.2,939.6h0M273.8,946.4h0M278.0,937.7h0M269.9,969.2h0M280.7,944.7h0M284.9,936.8h0M276.7,941.4h0M276.5,956.5h0M268.9,929.8h0"/>
<path stroke="#c391d6" d="M109.9,954.2h0M106.7,958.6h0M108.8,951.2h0M104.7,954.4h0M109.2,962.8h0M107.4,955.4h0M114.5,957.2h0M120.1,967.7h0M120.5,957.5h0M112.6,961.3h0"/>
<path stroke="#d2cc58" d="M170.8,988.7h0M166.3,986.0h0M170.3,972.1h0M173.1,969.2h0M161.7,985.5h0M167.1,959.8h0M155.5,966.8h0M166.6,956.9h0M182.9,971.1h0M184.8,977.7h0M165.0,967.5h0"/>
<path stroke="#8e3545" d="M216.9,950.9h0M223.2,947.7h0M229.2,946.9h0M206.6,953.8h0M200.5,942.4h0M222.1,943.5h0M205.9,940.9h0M217.3,956.6h0M224.4,946.7h0M211.9,944.0h0"/>
<path stroke="#8b3d6a" d="M169.2,927.0h0M206.5,892.4h0M198.0,888.0h0M169.0,927.2h0M200.4,891.3h0M163.6,927.8h0M211.1,900.8h0M165.5,929.7h0M173.2,937.6h0M210.0,902.1h0M170.8,931.7h0"/>
<path stroke="#4d8840" d="M261.9,912.9h0M274.1,940.6h0M268.4,900.0h0M247.6,931.7h0M250.7,934.5h0M265.2,907.0h0M246.3,906.5h0M254.9,921.8h0M266.5,931.2h0M253.3,914.0h0"/>
<path stroke="#8b50c0" d="M280.6,932.1h0M289.0,941.4h0M272.8,936.2h0M288.1,937.1h0M279.5,947.0h0M294.0,941.8h0M295.5,929.5h0M275.5,940.9h0M288.5,937.8h0M287.5,941.6h0M299.1,933.2h0"/>
<path stroke="#7a3f80" d="M78.4,1018.2h0M81.6,1028.2h0M82.8,1013.9h0M71.1,1027.7h0M70.4,1024.4h0M72.8,1026.9h0M72.2,1027.2h0M92.5,1020.4h0M83.2,1014.2h0M92.5,1020.0h0M86.9,1025.2h0"/>
<path stroke="#c656b8" d="M242.6,925.7h0M246.7,932.7h0M242.2,933.4h0M255.3,935.4h0M250.7,918.6h0M248.2,936.2h0M252.7,920.1h0M258.1,920.6h0M243.3,923.0h0M248.6,927.4h0M247.8,916.9h0"/>
<path stroke="#de6530" d="M151.0,1019.6h0M163.3,1026.6h0M164.3,1027.3h0M176.8,1023.0h0M173.7,1031.0h0M170.0,1021.4h0M148.1,1019.3h0M152.6,1030.6h0M149.3,1019.3h0M155.7,1020.2h0M151.1,1019.3h0"/>
<path stroke="#639dd6" d="M279.1,874.2h0M288.0,872.7h0M273.1,873.6h0M291.2,863.7h0M277.5,877.9h0M279.6,878.6h0M273.9,870.6h0M295.4,869.2h0M286.3,867.2h0M268.4,866.2h0M268.2,869.2h0"/>
<path stroke="#4e8860" d="M287.9,889.5h0M279.7,891.8h0M269.5,879.6h0M281.3,882.7h0M273.0,874.2h0M285.3,881.7h0M293.6,886.0h0M278.2,887.4h0M290.6,886.3h0M276.4,873.3h0"/>
<path stroke="#8b3d6a" d="M197.8,890.2h0M208.2,897.5h0M205.0,897.2h0M174.3,936.7h0M171.7,935.9h0M196.6,888.1h0M174.1,935.7h0M210.3,899.6h0M201.3,892.7h0M196.9,883.1h0M213.3,888.3h0"/>
<path stroke="#4d8840" d="M268.6,913.2h0M249.0,932.2h0M252.6,927.1h0M257.6,887.3h0M264.6,937.3h0M256.9,942.4h0M255.7,926.9h0M245.8,924.3h0M265.8,912.4h0M249.4,904.5h0"/>
<path stroke="#c656b8" d="M251.9,934.5h0M245.6,941.0h0M247.8,918.1h0M254.8,921.5h0M248.4,918.7h0M247.0,919.3h0M248.0,930.0h0M251.5,922.8h0M257.1,922.7h0M245.7,913.8h0"/>
<path stroke="#c391d6" d="M121.0,963.5h0M114.2,957.5h0M110.8,955.9h0M126.1,968.0h0M123.3,964.0h0M121.9,972.0h0M112.7,957.6h0M127.5,972.7h0M122.2,974.3h0M119.9,960.5h0"/>
<path stroke="#8b50c0" d="M296.8,932.1h0M288.5,932.2h0M281.0,929.1h0M286.9,937.6h0M301.7,934.4h0M288.9,927.8h0M280.9,944.5h0M281.6,933.1h0M288.9,929.2h0M303.9,936.9h0M293.7,939.5h0"/>
<path stroke="#8e3545" d="M200.6,938.4h0M227.9,942.0h0M210.4,942.7h0M210.6,953.7h0M200.6,940.1h0M219.9,939.3h0M221.3,952.1h0M203.9,944.1h0M205.7,950.3h0M207.0,940.0h0"/>
<path stroke="#d98596" d="M157.2,1040.5h0M161.4,1049.0h0M165.0,1046.9h0M159.1,1047.9h0M163.0,1031.6h0M170.8,1034.2h0M150.4,1046.1h0M153.0,1043.9h0M155.0,1046.5h0M172.0,1046.5h0M172.0,1035.7h0"/>
<path stroke="#7dd3c3" d="M189.0,1045.0h0M181.0,1036.1h0M183.5,1037.8h0M179.9,1039.3h0M186.1,1031.1h0M189.8,1045.4h0M195.7,1044.0h0M188.0,1041.5h0M191.1,1041.4h0M192.6,1051.0h0"/>
<path stroke="#4d8840" d="M263.6,926.8h0M255.8,932.1h0M257.3,936.7h0M253.6,919.0h0M248.3,931.1h0M257.2,926.5h0M263.7,950.1h0M258.9,915.3h0M252.5,907.4h0M259.0,903.9h0"/>
<path stroke="#7a3f80" d="M89.1,1023.9h0M90.3,1018.9h0M85.1,1025.5h0M71.1,1027.0h0M78.5,1018.6h0M79.9,1022.4h0M77.6,1028.9h0M88.0,1020.6h0M83.5,1031.7h0M80.4,1018.6h0M82.6,1021.7h0"/>
<path stroke="#8b3d6a" d="M205.1,891.7h0M211.5,900.4h0M210.0,898.9h0M202.9,888.6h0M204.9,897.9h0M208.6,896.0h0M210.9,903.0h0M165.0,931.3h0M195.8,884.6h0M171.8,930.2h0"/>
<path stroke="#d0883e" d="M256.6,948.0h0M270.3,941.6h0M273.1,938.0h0M278.2,923.7h0M237.4,893.0h0M271.0,943.6h0M273.3,952.1h0M262.2,933.5h0M271.2,935.5h0M276.6,933.1h0"/>
<path stroke="#85b84a" d="M217.5,964.7h0M213.5,962.4h0M223.5,973.8h0M216.2,966.2h0M220.9,962.5h0M216.1,970.0h0M210.6,967.7h0M233.0,972.3h0M224.1,978.5h0M212.0,976.8h0M210.9,971.5h0"/>
<path stroke="#8fdc96" d="M199.3,932.4h0M200.2,939.1h0M209.8,931.5h0M211.5,930.4h0M204.5,934.1h0M203.8,944.9h0M214.1,934.0h0M197.6,940.8h0M202.9,936.7h0M217.1,928.9h0"/>
<path stroke="#b3c47e" d="M123.7,971.5h0M121.9,970.0h0M136.7,968.4h0M126.8,967.2h0M140.9,962.6h0M131.7,964.3h0M131.2,975.1h0M127.4,975.1h0M130.7,961.5h0M122.9,966.7h0M138.8,977.7h0"/>
<path stroke="#c656b8" d="M249.3,943.6h0M253.3,911.2h0M246.0,929.0h0M144.5,1019.8h0M251.4,926.6h0M246.6,929.8h0M250.7,942.6h0M253.6,918.2h0M255.8,926.3h0M250.2,943.3h0"/>
<path stroke="#6e88d0" d="M174.7,901.5h0M168.4,895.1h0M168.1,891.9h0M173.5,886.3h0M172.3,904.8h0M173.2,889.9h0M180.8,898.8h0M179.5,899.8h0M173.9,894.8h0M166.8,888.2h0M177.8,905.0h0"/>
<path stroke="#4d8840" d="M262.5,908.4h0M257.5,942.4h0M255.3,908.7h0M257.8,921.2h0M270.9,931.0h0M259.1,923.3h0M243.0,911.6h0M266.8,917.4h0M253.1,935.8h0M243.4,909.3h0M271.5,936.2h0"/>
<path stroke="#7a3f80" d="M76.8,1017.8h0M81.0,1016.2h0M83.0,1024.9h0M93.7,1024.5h0M85.6,1015.0h0M91.1,1019.7h0M87.8,1027.1h0M79.6,1026.6h0M85.2,1022.2h0M83.7,1019.8h0"/>
<path stroke="#4a4f9a" d="M165.1,958.7h0M147.2,980.2h0M158.9,984.1h0M158.6,973.3h0M154.8,971.2h0M163.1,953.7h0M160.3,953.0h0M148.5,961.5h0M160.6,969.4h0M161.7,967.8h0M170.7,980.0h0"/>
<path stroke="#995733" d="M121.0,1001.2h0M111.2,1011.0h0M104.9,1002.0h0M104.8,1011.8h0M114.7,1009.8h0M109.2,1002.6h0M102.7,999.1h0M115.4,1004.1h0M103.6,1011.3h0M117.3,1009.7h0"/>
<path stroke="#7a7030" d="M275.8,949.3h0M266.8,953.6h0M267.8,958.9h0M273.6,954.9h0M278.4,965.4h0M277.5,950.3h0M252.5,950.2h0M279.6,951.8h0M261.4,955.9h0M274.2,951.9h0"/>
<path stroke="#6e88d0" d="M178.1,897.6h0M183.2,888.9h0M184.3,900.1h0M176.1,898.8h0M166.9,893.5h0M168.5,891.9h0M183.6,899.5h0M170.0,895.4h0M187.1,895.9h0M169.0,894.3h0M175.4,887.9h0"/>
<path stroke="#4e8860" d="M291.6,879.7h0M294.7,888.9h0M279.8,890.3h0M299.9,879.0h0M273.7,883.5h0M283.4,880.1h0M278.6,876.0h0M271.1,877.1h0M284.2,875.5h0M276.7,883.6h0"/>
<path stroke="#d98596" d="M157.2,1046.3h0M158.4,1036.6h0M160.5,1045.3h0M171.0,1049.4h0M172.7,1045.6h0M165.8,1047.6h0M167.5,1045.9h0M164.7,1040.8h0M169.5,1048.0h0M161.6,1028.6h0"/>
<path stroke="#6e88d0" d="M166.1,894.3h0M174.7,888.0h0M187.2,894.0h0M180.1,887.4h0M167.5,902.4h0M167.5,894.5h0M176.4,901.8h0M181.0,901.2h0M174.9,899.4h0M178.5,896.4h0M173.5,895.4h0"/>
<path stroke="#cc4878" d="M189.7,877.3h0M196.3,866.7h0M175.6,873.8h0M169.0,875.8h0M180.8,875.2h0M186.0,873.2h0M188.0,880.8h0M189.3,865.1h0M196.1,874.8h0M182.5,873.2h0"/>
<path stroke="#b02828" d="M268.1,964.8h0M299.5,973.0h0M306.5,968.0h0M280.2,966.1h0M276.3,964.6h0M288.6,968.4h0M286.2,954.8h0"/>
<path stroke="#d98596" d="M167.4,1035.5h0M167.9,1029.5h0M163.8,1030.5h0M154.6,1043.9h0M161.6,1050.7h0M169.3,1027.7h0M171.9,1041.3h0M160.4,1027.3h0M171.4,1046.6h0M163.3,1036.8h0"/>
<path stroke="#8e3545" d="M218.4,941.9h0M213.6,954.6h0M218.6,952.5h0M213.8,946.1h0M203.8,943.2h0M210.0,954.0h0M217.9,946.1h0M215.7,955.0h0M196.5,949.0h0M227.6,951.3h0"/>
<path stroke="#8e3545" d="M205.3,953.4h0M227.9,946.7h0M196.5,947.7h0M220.4,942.6h0M213.5,940.1h0M206.8,954.0h0M205.4,941.7h0M221.2,952.2h0M220.7,948.4h0M214.6,943.4h0M212.9,948.4h0"/>
<path stroke="#4e8860" d="M293.2,881.0h0M273.7,878.2h0M287.7,886.4h0M290.5,876.9h0M289.7,882.3h0M273.5,884.2h0M287.0,880.2h0M274.0,874.9h0M288.0,871.7h0M286.4,869.0h0"/>
<path stroke="#d2cc58" d="M175.1,989.6h0M164.3,955.0h0M157.8,974.1h0M182.0,972.2h0M169.3,969.2h0M156.9,970.5h0M166.8,964.8h0M168.7,951.8h0M173.3,987.2h0M171.8,974.3h0"/>
<path stroke="#7a7030" d="M275.5,951.1h0M264.4,959.1h0M288.9,955.0h0M289.7,955.6h0M267.1,957.5h0M282.5,945.1h0M253.5,947.4h0M271.8,971.6h0M275.3,936.2h0M264.7,945.4h0"/>
<path stroke="#4e8860" d="M278.7,882.8h0M285.7,880.2h0M292.6,873.4h0M279.4,882.1h0M287.2,884.7h0M287.4,891.3h0M291.6,877.1h0M290.5,878.3h0M280.2,890.7h0M294.4,875.5h0M278.4,873.5h0"/>
<path stroke="#d98596" d="M168.1,1045.5h0M176.8,1037.8h0M170.3,1034.9h0M158.8,1028.0h0M158.8,1039.9h0M163.8,1041.0h0M167.3,1045.2h0M168.2,1053.0h0M172.7,1029.4h0M172.7,1042.5h0"/>
<path stroke="#4e8860" d="M278.8,877.4h0M278.4,880.9h0M281.4,867.9h0M289.1,884.7h0M286.1,877.1h0M297.6,880.3h0M288.3,891.9h0M285.9,877.4h0M283.1,885.8h0M282.7,881.2h0"/>
<path stroke="#d98596" d="M166.0,1045.6h0M157.8,1046.0h0M165.0,1046.1h0M161.9,1032.5h0M162.8,1037.0h0M169.9,1040.3h0M167.5,1030.6h0M150.7,1042.9h0M157.4,1045.8h0M160.0,1037.3h0M158.3,1043.1h0"/>
<path stroke="#7a3f80" d="M433.3,957.8h0M432.5,979.3h0M433.4,973.2h0M433.6,968.8h0M434.2,976.6h0M433.4,988.1h0M433.2,960.9h0M434.3,961.1h0M433.9,998.7h0M431.5,982.4h0M433.3,957.6h0"/>
<path stroke="#7a3f80" d="M432.7,980.3h0M435.4,972.3h0M434.4,1002.0h0M432.4,981.9h0M432.8,973.4h0M432.9,962.3h0M433.0,958.2h0M434.9,979.2h0M433.2,965.3h0M433.9,983.3h0M432.3,979.0h0"/>
<path stroke="#7a3f80" d="M433.7,983.5h0M432.6,975.7h0M432.9,990.5h0M433.5,970.8h0M432.4,970.7h0M432.9,967.4h0M433.9,960.1h0M433.0,948.9h0M434.0,980.1h0M432.9,981.0h0"/>
<path stroke="#7a3f80" d="M433.0,998.1h0M433.8,965.6h0M433.7,981.8h0M432.8,1002.3h0M432.6,985.1h0M433.5,982.2h0M434.7,988.5h0M432.7,975.5h0M435.0,954.6h0M433.6,1009.4h0"/>
<path stroke="#7a3f80" d="M433.5,977.8h0M433.9,975.9h0M432.8,976.5h0M433.1,983.7h0M434.7,994.2h0M433.8,963.5h0M433.8,988.1h0M434.0,957.2h0M433.9,991.0h0M433.6,984.0h0M434.7,957.6h0"/>
<path stroke="#7a3f80" d="M434.6,974.4h0M421.4,961.4h0M432.8,987.5h0M432.3,960.4h0M432.5,938.8h0M432.9,976.4h0M433.2,975.6h0M434.6,963.5h0M433.3,970.1h0M433.9,991.2h0"/>
<path stroke="#d4a874" d="M477.9,962.4h0M485.0,942.1h0M477.8,961.3h0M477.9,960.5h0M477.8,929.1h0M480.8,950.6h0M482.8,968.7h0M482.2,950.9h0M478.4,965.0h0M486.3,939.1h0"/>
<path stroke="#995733" d="M481.4,940.1h0M482.6,947.0h0"/>
<path stroke="#8b3d6a" d="M531.7,983.8h0M534.3,994.8h0M544.9,965.7h0M530.0,985.3h0M531.5,975.2h0M538.3,951.7h0M542.2,973.2h0M550.2,994.0h0M528.0,982.2h0M531.5,974.5h0M544.7,964.3h0"/>
<path stroke="#cc4878" d="M548.5,1032.4h0M536.5,1037.0h0M515.5,1027.7h0M552.6,1044.4h0M533.4,1026.7h0M492.6,1024.6h0M529.8,1042.2h0M535.6,1032.4h0M505.5,1020.8h0M521.7,1035.0h0"/>
<path stroke="#4a4f9a" d="M489.0,951.1h0M501.5,951.3h0M535.7,940.0h0M478.3,956.1h0M509.8,961.5h0M548.0,942.1h0M511.9,952.6h0M537.5,956.6h0M528.6,957.9h0M495.3,923.4h0"/>
<path stroke="#de6530" d="M511.4,903.0h0M492.2,894.0h0M525.3,916.8h0M477.8,911.9h0M477.8,907.7h0M506.2,895.8h0M490.9,901.9h0M494.0,892.5h0M477.8,917.7h0M497.4,913.0h0"/>
<path stroke="#b02828" d="M585.6,1023.1h0M599.9,1037.7h0M629.3,1007.9h0M598.2,999.3h0M600.8,1016.3h0M624.5,1001.9h0M584.1,1012.4h0"/>
<path stroke="#d98596" d="M521.4,873.1h0M547.1,897.4h0M509.4,878.7h0M541.4,888.0h0M542.8,874.9h0M509.5,880.2h0M544.7,881.4h0M488.3,874.2h0M500.7,902.5h0M527.7,886.7h0"/>
<path stroke="#de6530" d="M544.7,891.6h0M507.4,912.8h0M507.1,907.1h0M521.3,911.9h0M513.9,916.4h0M520.5,913.4h0M483.0,917.1h0M523.5,911.2h0M518.2,901.9h0M507.5,906.3h0"/>
<path stroke="#646bd8" d="M595.9,896.9h0M601.0,908.3h0M604.9,927.3h0M572.0,891.1h0M561.9,930.1h0M600.7,903.8h0M591.1,916.2h0M572.7,891.0h0M596.0,926.4h0M598.6,902.4h0M614.9,912.4h0"/>
<path stroke="#b02828" d="M600.7,1006.2h0M596.6,1004.2h0M588.1,1018.2h0M600.3,1007.7h0M589.4,998.5h0M584.1,1022.8h0"/>
<path stroke="#995733" d="M480.2,943.3h0M478.7,940.6h0"/>
<path stroke="#d0883e" d="M616.3,1041.3h0M591.4,1025.3h0M600.3,1035.8h0M609.0,1021.4h0M601.4,1001.0h0M594.4,1036.9h0M606.5,1044.6h0M600.2,1037.2h0M613.3,1022.7h0M602.7,1021.9h0"/>
<path stroke="#8b50c0" d="M612.1,998.8h0M603.0,1017.5h0M618.3,1038.5h0M606.7,1025.7h0M615.3,1004.6h0M608.7,1034.7h0M596.0,1021.1h0M595.7,1007.7h0M609.6,1037.7h0"/>
<path stroke="#d2cc58" d="M542.4,940.8h0M521.4,963.6h0M504.6,935.5h0M513.5,959.7h0M505.0,957.7h0M520.5,934.7h0M532.5,956.9h0M512.2,968.4h0M524.1,940.5h0M548.2,959.0h0M542.9,955.7h0"/>
<path stroke="#d98596" d="M527.8,877.0h0M504.7,878.6h0M510.5,893.7h0M496.7,892.0h0M526.3,879.5h0M519.8,877.7h0M550.1,878.8h0M512.1,884.0h0M515.1,885.6h0M506.4,853.1h0"/>
<path stroke="#639dd6" d="M650.8,1008.4h0M637.0,1008.9h0M634.8,965.5h0M639.3,983.9h0M643.2,1023.2h0M639.8,1006.6h0M637.3,983.0h0M639.8,995.6h0M635.0,1021.5h0M649.7,1016.6h0"/>
<path stroke="#de6530" d="M498.3,903.9h0M512.6,914.3h0M477.8,921.7h0M505.7,913.5h0M526.3,914.2h0M496.3,891.0h0M516.8,908.5h0M499.8,914.1h0M521.2,897.6h0M478.4,903.0h0M487.7,917.6h0"/>
<path stroke="#d98596" d="M513.5,870.1h0M521.4,885.0h0M480.8,869.9h0M487.4,863.4h0M487.7,873.3h0M541.3,894.6h0M509.3,876.6h0M497.0,883.4h0M519.2,875.7h0M483.8,883.5h0"/>
<path stroke="#d2cc58" d="M544.0,937.5h0M523.2,940.1h0M541.3,946.8h0M511.2,973.9h0M519.1,953.2h0M557.6,947.9h0M522.9,973.0h0M540.7,942.6h0M571.7,957.8h0M533.0,954.0h0"/>
<path stroke="#d4a874" d="M478.1,948.5h0M477.8,942.8h0M483.3,968.6h0M477.8,960.5h0M477.8,950.7h0M477.8,966.9h0M486.6,936.1h0M484.3,943.0h0M477.8,943.2h0M477.8,946.0h0M477.8,960.7h0"/>
<path stroke="#d4a874" d="M480.5,950.4h0M479.4,961.1h0M481.4,950.1h0M486.9,944.6h0M479.9,952.3h0M477.8,961.3h0M479.1,942.5h0M481.6,959.6h0M486.6,950.6h0M477.8,947.6h0M477.8,938.1h0"/>
<path stroke="#c656b8" d="M621.0,1014.9h0M625.5,1015.3h0M604.4,1034.1h0M596.3,1021.7h0M634.2,1035.8h0M613.8,1016.6h0M606.9,1022.0h0M622.8,1030.8h0M610.7,1006.7h0"/>
<path stroke="#646bd8" d="M576.4,912.9h0M599.3,901.2h0M583.6,892.4h0M590.7,913.2h0M590.3,911.3h0M596.1,894.8h0M603.6,906.5h0M590.3,912.1h0M584.6,892.6h0M610.0,924.7h0M584.5,884.9h0"/>
<path stroke="#4a4f9a" d="M528.0,937.9h0M529.9,958.2h0M528.0,936.2h0M516.9,951.3h0M507.4,961.0h0M538.0,933.5h0M529.9,928.4h0M500.9,954.0h0M514.3,933.6h0M503.2,937.1h0M517.8,951.3h0"/>
<path stroke="#d0883e" d="M605.4,1044.9h0M607.0,1003.8h0M608.8,1015.3h0M604.0,1023.0h0M588.7,1018.2h0M614.4,1017.4h0M591.6,1016.4h0M609.5,1015.7h0M625.6,1029.2h0M582.5,1019.8h0"/>
<path stroke="#8fdc96" d="M585.2,972.9h0M592.9,975.4h0M582.0,965.9h0M590.0,962.8h0M548.4,954.8h0M601.5,960.8h0M567.9,973.7h0M582.1,992.7h0M580.3,975.2h0M606.8,975.0h0"/>
<path stroke="#8b50c0" d="M600.4,1015.2h0M623.6,1011.6h0M622.6,1024.1h0M571.9,1016.1h0M626.0,1024.8h0M601.6,1033.7h0M610.6,1037.8h0M613.2,1041.3h0M579.0,985.7h0"/>
<path stroke="#8e3545" d="M586.2,981.4h0M595.0,961.8h0M587.4,970.1h0M586.2,948.0h0M583.8,959.5h0M572.2,970.3h0M575.1,961.1h0M566.3,955.2h0M592.9,976.7h0M569.1,951.9h0"/>
<path stroke="#d8a040" d="M604.9,1029.2h0M617.6,1027.2h0M613.1,1008.2h0M603.7,1037.4h0M619.6,1026.6h0M609.3,1053.0h0M612.1,1035.8h0M598.1,1010.4h0M612.0,1020.0h0M590.3,1023.5h0"/>
<path stroke="#8e3545" d="M611.1,968.0h0M557.4,966.6h0M562.2,971.4h0M601.9,955.9h0M575.3,939.8h0M578.1,947.4h0M582.5,970.8h0M578.2,948.5h0M584.6,974.0h0M566.2,943.4h0M584.5,976.6h0"/>
<path stroke="#cc4878" d="M558.8,1038.4h0M534.7,1036.2h0M534.6,1033.8h0M524.6,1043.2h0M560.7,1041.3h0M543.8,1038.3h0M521.5,1028.3h0M544.7,1025.3h0M529.0,1036.7h0M534.8,1040.8h0M517.7,1053.0h0"/>
<path stroke="#7a7030" d="M587.0,997.1h0M595.5,1012.0h0M600.5,1019.6h0M583.8,1016.9h0M605.9,1026.5h0M588.0,1050.4h0M590.5,1012.9h0M589.9,1049.1h0M592.5,1003.0h0M584.1,1017.5h0M586.4,1034.4h0"/>
<path stroke="#d8a040" d="M593.1,1023.0h0M590.4,1038.2h0M607.8,1009.2h0M609.0,1023.5h0M600.2,1024.8h0M599.9,1047.3h0M620.2,1021.3h0M574.8,1033.0h0M606.9,1011.9h0M625.5,1020.6h0"/>
<path stroke="#b3c47e" d="M505.4,926.9h0M564.2,929.9h0M507.3,928.1h0M505.2,928.1h0M549.4,928.0h0M501.7,935.4h0M527.2,925.5h0M518.4,933.4h0M501.4,930.7h0M494.4,927.8h0M493.8,923.4h0"/>
<path stroke="#8fdc96" d="M590.1,985.8h0M600.0,964.8h0M600.8,951.8h0M571.3,965.3h0M580.2,978.5h0M572.7,977.5h0M595.6,951.6h0M588.8,960.1h0M596.7,975.5h0M602.9,955.1h0"/>
<path stroke="#639dd6" d="M651.3,986.6h0M652.0,1020.0h0M638.6,1019.6h0M641.7,1005.5h0M630.4,1003.4h0M652.0,1003.1h0M621.1,1012.5h0M635.9,972.3h0M644.9,1019.2h0M633.1,999.5h0M627.5,1046.6h0"/>
<path stroke="#85b84a" d="M595.8,972.5h0M579.4,975.4h0M576.0,978.0h0M587.3,973.6h0M567.0,978.8h0M579.9,969.6h0M586.5,969.2h0M596.9,970.5h0M591.2,969.6h0"/>
<path stroke="#4d8840" d="M624.4,995.8h0M612.1,1013.3h0M614.9,1053.0h0M622.9,1008.1h0M634.5,1039.6h0M590.0,1005.8h0M627.6,1006.9h0M644.2,1010.8h0M630.0,1026.2h0M605.4,1043.0h0M595.7,1032.3h0"/>
<path stroke="#85b84a" d="M588.0,970.4h0M589.5,960.9h0M586.2,977.8h0M587.2,990.5h0M580.2,981.2h0M599.5,963.9h0M586.1,975.3h0M592.0,974.3h0"/>
<path stroke="#c656b8" d="M593.9,1028.1h0M611.1,995.5h0M604.7,1034.8h0M608.3,1009.6h0M591.0,1005.7h0M618.0,998.1h0M596.2,982.9h0M589.6,1027.1h0M596.2,1032.0h0"/>
<path stroke="#639dd6" d="M631.6,984.6h0M626.8,1030.7h0M645.1,1051.3h0M648.1,1042.3h0M636.2,977.9h0M635.8,1005.5h0M644.7,965.9h0M632.7,1004.1h0M618.8,995.7h0M637.2,990.5h0"/>
<path stroke="#d0883e" d="M603.8,1033.6h0M593.1,1010.0h0M582.7,1011.6h0M632.0,1006.8h0M622.6,1001.2h0M593.4,1024.9h0M591.8,1024.6h0M613.8,1019.5h0M604.9,1013.1h0M605.0,1023.5h0M588.9,1017.8h0"/>
<path stroke="#8b3d6a" d="M516.7,992.2h0M526.8,974.8h0M526.2,977.0h0M533.9,982.2h0M527.6,997.8h0M513.9,963.7h0M534.0,990.6h0M523.8,989.4h0M513.0,986.0h0M550.8,992.7h0"/>
<path stroke="#4d8840" d="M632.5,998.3h0M625.8,1001.4h0M628.1,1016.0h0M592.9,1044.2h0M647.4,1011.5h0M613.4,1021.6h0M652.0,1025.4h0M625.8,1015.1h0M580.1,995.3h0M629.9,1004.6h0"/>
<path stroke="#4d8840" d="M619.6,1010.2h0M620.0,1033.6h0M637.0,1017.4h0M633.9,1016.8h0M614.2,1011.4h0M650.9,1015.0h0M591.5,1027.2h0M583.6,1018.0h0M626.3,1017.8h0M624.8,1012.2h0M575.1,1024.7h0"/>
<path stroke="#7a7030" d="M588.8,1016.9h0M572.7,1021.6h0M586.8,1021.6h0M600.2,1013.9h0M585.1,1013.4h0M586.0,1032.6h0M571.5,1022.2h0M593.1,1045.5h0M605.5,1038.0h0M604.1,1041.0h0"/>
<path stroke="#d4a874" d="M480.0,940.7h0M486.8,948.6h0M477.8,926.7h0M479.3,949.7h0M479.5,949.9h0M483.1,963.7h0M482.6,941.2h0M477.8,943.5h0M477.8,946.1h0M481.0,957.6h0"/>
<path stroke="#c391d6" d="M527.2,955.0h0M538.9,945.1h0M535.2,951.1h0M551.3,952.7h0M486.9,955.0h0M491.8,951.7h0M488.8,954.9h0M512.5,960.0h0M522.4,955.6h0M553.5,948.9h0M555.1,955.8h0"/>
<path stroke="#6e88d0" d="M503.4,1010.6h0M545.5,1004.3h0M536.6,1015.6h0M553.6,1012.0h0M519.5,1001.9h0M526.3,1000.4h0M570.1,1012.7h0M538.0,1012.4h0M544.9,1043.7h0M542.3,995.5h0M530.3,1018.2h0"/>
<path stroke="#995733" d="M478.8,943.1h0"/>
<path stroke="#b02828" d="M607.5,1002.7h0M584.5,1007.5h0M607.3,988.7h0M605.2,990.0h0M606.3,1005.3h0M586.1,1003.0h0M601.7,1019.5h0"/>
<path stroke="#8fdc96" d="M589.2,984.2h0M570.8,970.6h0M581.3,965.8h0M607.5,958.9h0M596.1,968.4h0M594.8,976.8h0M587.7,946.4h0M581.0,973.4h0M593.5,972.6h0M595.4,966.9h0"/>
<path stroke="#646bd8" d="M586.3,902.5h0M605.1,923.7h0M579.9,899.7h0M602.2,901.3h0M584.2,934.2h0M614.3,910.8h0M602.7,942.5h0M563.7,913.4h0M579.6,924.5h0M573.3,942.5h0"/>
<path stroke="#639dd6" d="M642.2,1042.2h0M642.8,995.9h0M649.2,1003.3h0M629.1,981.3h0M645.9,998.3h0M630.4,986.9h0M626.7,971.6h0M636.8,1046.8h0M641.4,976.2h0M624.4,978.0h0M652.0,973.3h0"/>
<path stroke="#995733" d="M482.6,941.9h0"/>
<path stroke="#c391d6" d="M555.2,947.1h0M508.5,955.8h0M552.6,958.8h0M531.7,949.4h0M516.7,949.8h0M537.7,960.1h0M553.2,954.1h0M529.2,950.6h0M503.8,955.7h0M539.9,950.8h0M527.9,954.6h0"/>
<path stroke="#d2cc58" d="M503.2,973.5h0M521.7,970.0h0M515.8,960.3h0M553.5,960.4h0M540.2,941.0h0M494.3,949.1h0M523.8,965.7h0M539.1,950.0h0M539.4,938.5h0M554.2,944.6h0"/>
<path stroke="#4d8840" d="M642.9,1032.8h0M627.2,1023.7h0M583.5,985.9h0M629.7,1039.7h0M590.2,1031.4h0M641.3,1028.8h0M620.6,1049.4h0M638.2,997.6h0M630.4,1002.5h0M623.1,1013.2h0"/>
<path stroke="#b02828" d="M614.9,979.6h0M597.1,1008.8h0M611.1,1028.6h0M608.6,1014.9h0M619.2,1014.9h0M597.8,1003.6h0M606.0,997.6h0"/>
<path stroke="#85b84a" d="M589.8,976.0h0M589.3,978.7h0M580.9,972.1h0M586.3,969.3h0M586.6,981.4h0M578.6,968.1h0M573.4,974.5h0M563.3,967.8h0"/>
<path stroke="#d98596" d="M537.6,870.1h0M519.3,870.0h0M551.7,892.2h0M506.1,876.5h0M494.1,900.1h0M510.1,871.8h0M538.9,904.4h0M481.6,896.2h0M511.6,879.2h0M553.0,874.3h0M495.0,905.3h0"/>
<path stroke="#cc4878" d="M516.1,1028.4h0M553.6,1028.9h0M544.4,1038.4h0M540.0,1030.1h0M517.5,1026.1h0M567.2,1038.0h0M546.7,1032.7h0M541.3,1043.5h0M542.6,1030.2h0M533.0,1047.0h0M528.0,1032.1h0"/>
<path stroke="#d8a040" d="M583.0,1030.3h0M616.6,1021.9h0M606.0,1020.9h0M604.2,1033.1h0M581.0,1033.9h0M578.8,1009.1h0M614.0,1041.2h0M579.2,1015.1h0M604.0,1048.5h0M613.4,1019.9h0M590.9,1006.6h0"/>
<path stroke="#6e88d0" d="M552.9,998.6h0M528.1,987.7h0M517.9,1030.6h0M539.7,999.2h0M544.9,1007.6h0M503.7,995.5h0M553.0,1022.7h0M540.3,1002.9h0M526.3,1050.8h0M517.5,1007.0h0"/>
<path stroke="#85b84a" d="M601.6,978.6h0M595.5,972.2h0M583.2,975.9h0M597.4,979.0h0M588.5,971.7h0M582.3,977.2h0M581.3,961.5h0M587.4,979.3h0M576.8,983.0h0"/>
<path stroke="#d2cc58" d="M545.2,932.8h0M505.9,950.3h0M534.1,960.8h0M531.7,961.5h0M504.3,967.5h0M544.6,948.4h0M568.0,947.5h0M523.2,953.5h0M511.2,960.7h0M506.2,948.1h0M537.8,963.6h0"/>
<path stroke="#d2cc58" d="M519.5,942.8h0M548.6,961.7h0M552.1,955.6h0M538.1,945.9h0M529.1,958.0h0M515.5,947.7h0M523.6,951.4h0M516.5,964.3h0M549.6,967.5h0M477.8,955.6h0"/>
<path stroke="#646bd8" d="M574.9,924.8h0M604.0,911.1h0M590.6,922.6h0M596.8,925.3h0M576.7,936.4h0M571.6,908.0h0M578.1,886.4h0M557.2,897.4h0M588.6,869.7h0M591.7,918.7h0"/>
<path stroke="#8b3d6a" d="M533.3,964.8h0M559.9,983.3h0M529.8,982.3h0M526.7,999.7h0M538.1,978.3h0M528.6,982.7h0M531.2,991.3h0M519.9,979.0h0M550.2,1003.4h0M527.7,981.9h0"/>
<path stroke="#cc4878" d="M541.3,1036.8h0M534.2,1034.8h0M526.5,1030.7h0M508.3,1021.2h0M536.9,1048.4h0M568.3,1031.9h0M538.9,1042.6h0M525.5,1028.4h0M533.2,1017.6h0M528.7,1040.9h0"/>
<path stroke="#7dd3c3" d="M514.7,883.8h0M490.4,894.1h0M493.4,890.9h0M545.5,884.8h0M486.1,886.3h0M547.4,891.4h0M532.1,894.2h0M494.2,889.8h0M540.4,890.2h0M538.1,887.4h0"/>
<path stroke="#85b84a" d="M588.5,969.7h0M569.0,987.0h0M569.9,977.7h0M586.4,965.8h0M582.5,973.2h0M582.0,970.4h0M583.2,977.9h0M598.0,979.9h0"/>
<path stroke="#c656b8" d="M621.7,1036.0h0M595.0,1026.8h0M629.0,1035.8h0M626.0,1013.4h0M634.3,1006.5h0M590.9,994.8h0M621.5,1030.0h0M624.6,1027.4h0M625.7,1022.6h0"/>
<path stroke="#d98596" d="M522.7,867.0h0M502.8,895.8h0M527.7,883.9h0M538.9,868.3h0M505.8,863.0h0M500.5,867.6h0M482.5,892.5h0M519.2,885.4h0M510.6,885.8h0M526.2,886.6h0M494.9,884.1h0"/>
<path stroke="#639dd6" d="M639.8,1033.2h0M632.5,1001.4h0M637.7,963.5h0M639.0,986.5h0M651.5,951.7h0M629.0,999.6h0M626.0,969.5h0M615.4,999.4h0M626.9,966.1h0M639.8,964.6h0"/>
<path stroke="#646bd8" d="M577.8,917.2h0M592.2,904.6h0M606.0,868.3h0M604.3,921.6h0M594.2,908.8h0M588.7,929.7h0M594.7,926.4h0M600.3,924.3h0M614.7,919.1h0M570.3,915.9h0M555.2,926.5h0"/>
<path stroke="#4e8860" d="M619.0,1022.8h0M628.0,1003.0h0M620.4,1016.4h0M637.5,1019.5h0M647.5,1017.5h0M617.3,1008.4h0M617.0,1018.4h0M634.2,1022.7h0M625.9,1020.4h0M634.7,1013.4h0M628.2,1022.5h0"/>
<path stroke="#b02828" d="M608.6,1013.1h0M582.2,1014.6h0M600.0,1045.5h0M590.4,1000.8h0M605.5,1022.9h0M606.9,1010.9h0M612.4,1023.6h0"/>
<path stroke="#d0883e" d="M591.3,1040.0h0M592.9,1028.3h0M597.2,1030.9h0M612.7,1021.5h0M592.1,1040.4h0M578.7,1020.4h0M602.3,1023.0h0M607.9,1013.8h0M576.2,1029.1h0M602.2,1014.1h0"/>
<path stroke="#d8a040" d="M592.4,1012.8h0M604.4,1023.2h0M607.8,1031.0h0M593.5,1027.3h0M588.9,1019.1h0M601.4,1015.3h0M603.3,1031.7h0M591.5,1021.1h0M616.2,1020.5h0M597.3,1044.4h0"/>
<path stroke="#8b3d6a" d="M539.7,982.7h0M532.5,1003.9h0M517.9,965.4h0M533.5,994.3h0M539.6,984.8h0M528.1,982.1h0M520.3,988.3h0M520.5,1017.2h0M525.3,970.0h0M533.3,987.2h0"/>
<path stroke="#4e8860" d="M628.1,990.9h0M620.0,1002.5h0M601.0,1016.3h0M635.8,996.1h0M623.3,1022.2h0M644.2,984.3h0M626.2,1029.0h0M593.5,1025.3h0M622.3,1014.8h0M628.4,1006.9h0M624.1,1012.9h0M596.6,1014.5h0"/>
<path stroke="#8fdc96" d="M581.1,947.8h0M591.7,954.0h0M589.5,994.7h0M577.9,973.5h0M603.4,958.0h0M600.9,997.3h0M587.1,969.5h0M599.5,947.1h0M588.1,977.7h0M595.0,974.6h0M580.3,953.5h0"/>
<path stroke="#4a4f9a" d="M505.6,938.6h0M545.0,949.0h0M524.1,952.9h0M538.7,925.5h0M509.6,941.9h0M516.3,945.7h0M497.8,953.1h0M538.5,957.5h0M526.2,954.9h0M520.0,948.4h0M521.1,947.5h0"/>
<path stroke="#8e3545" d="M580.4,956.9h0M595.7,963.2h0M589.6,956.8h0M570.4,947.7h0M596.4,960.7h0M550.5,970.1h0M599.7,964.4h0M598.4,976.9h0M571.0,985.8h0M591.1,972.5h0"/>
<path stroke="#8e3545" d="M636.9,956.9h0M581.5,966.5h0M610.5,966.3h0M572.7,961.7h0M580.6,951.4h0M600.3,954.5h0M610.6,962.3h0M596.1,960.2h0M574.6,949.3h0M616.6,965.5h0"/>
<path stroke="#639dd6" d="M639.3,964.4h0M652.0,1009.9h0M622.8,1015.6h0M638.9,1009.6h0M633.8,958.6h0M639.7,1033.5h0M644.2,999.8h0M622.4,998.7h0M649.3,981.2h0M634.1,1009.1h0"/>
<path stroke="#4a4f9a" d="M530.2,956.3h0M552.7,940.5h0M504.5,956.2h0M543.0,955.8h0M502.4,946.9h0M509.1,945.3h0M522.6,953.2h0M553.4,944.4h0M552.3,935.6h0M516.0,951.0h0"/>
<path stroke="#6e88d0" d="M543.6,1027.3h0M494.8,1016.8h0M544.0,1023.6h0M534.2,1009.3h0M523.0,1014.3h0M530.0,1014.2h0M536.2,996.8h0M533.2,992.0h0M533.6,1016.0h0M554.3,1031.6h0"/>
<path stroke="#4d8840" d="M620.6,1007.1h0M627.2,1028.3h0M611.3,1033.3h0M628.4,1032.1h0M635.6,994.7h0M616.6,1018.5h0M595.3,1028.6h0M606.9,1000.0h0M619.3,994.2h0M600.6,1032.9h0"/>
<path stroke="#8fdc96" d="M586.9,974.5h0M585.2,970.4h0M609.0,944.5h0M591.0,984.7h0M572.9,965.9h0M610.4,976.2h0M590.0,977.0h0M584.4,968.7h0M603.3,970.7h0M602.7,966.1h0"/>
<path stroke="#4e8860" d="M641.2,1018.4h0M621.7,1031.6h0M628.0,991.0h0M629.9,1021.7h0M590.2,1017.3h0M624.7,1002.5h0M602.9,1003.7h0M628.1,1012.9h0M629.8,1021.0h0M619.0,1006.7h0M626.9,1035.3h0"/>
<path stroke="#8b50c0" d="M595.0,1018.5h0M593.8,993.2h0M599.9,987.6h0M603.5,1036.7h0M616.4,1012.3h0M606.7,1001.0h0M618.2,1038.7h0M624.4,1040.2h0M618.5,1040.3h0"/>
<path stroke="#de6530" d="M510.3,905.7h0M516.8,909.2h0M502.7,903.2h0M519.1,898.5h0M530.2,914.0h0M505.1,904.4h0M494.4,901.5h0M525.7,899.3h0M546.2,904.5h0M507.7,909.1h0"/>
<path stroke="#d2cc58" d="M535.5,937.5h0M522.2,959.8h0M503.4,957.2h0M565.4,942.6h0M514.1,978.4h0M532.8,944.9h0M511.3,972.7h0M555.8,955.6h0M546.2,957.8h0M522.2,956.1h0"/>
<path stroke="#8b50c0" d="M622.5,1009.3h0M612.8,1009.0h0M604.8,1033.4h0M602.0,1018.8h0M623.7,1020.4h0M601.2,998.4h0M613.4,1035.7h0M583.7,1010.5h0M625.9,1016.1h0"/>
<path stroke="#8fdc96" d="M572.0,978.3h0M587.8,986.7h0M588.9,961.8h0M581.8,997.1h0M579.0,982.9h0M582.1,986.7h0M583.9,976.7h0M607.7,993.9h0M578.4,974.1h0M588.6,986.1h0M596.4,987.5h0"/>
<path stroke="#d8a040" d="M587.7,1013.1h0M606.7,1046.3h0M619.3,1036.4h0M607.7,1021.0h0M594.0,1026.8h0M597.0,1033.2h0M606.8,1031.1h0M595.9,1034.8h0M591.3,1031.5h0M604.6,1032.0h0M592.9,1029.5h0"/>
<path stroke="#6e88d0" d="M548.7,1009.8h0M512.7,1007.1h0M523.3,1000.6h0M524.6,1008.3h0M529.3,1010.3h0M554.3,1021.2h0M499.6,1035.3h0M522.9,1013.4h0M558.6,1018.2h0M544.9,1020.3h0"/>
<path stroke="#d0883e" d="M617.3,1031.3h0M619.7,1032.2h0M585.9,1003.7h0M602.8,1010.2h0M616.0,998.5h0M607.9,1044.7h0M608.4,1021.8h0M588.9,1027.3h0M586.8,1011.8h0M601.3,1027.6h0M597.4,1030.9h0"/>
<path stroke="#b3c47e" d="M501.5,936.2h0M546.2,929.4h0M535.3,931.6h0M512.5,927.4h0M519.2,930.7h0M541.3,927.4h0M498.5,924.9h0M536.6,924.3h0M520.4,923.7h0M560.0,934.2h0"/>
<path stroke="#7a7030" d="M580.5,1017.0h0M590.6,1033.9h0M592.8,1007.9h0M590.2,1026.6h0M599.5,1020.2h0M604.7,1028.6h0M580.4,1001.2h0M601.9,1034.6h0M611.4,1023.2h0M574.1,1025.0h0"/>
<path stroke="#995733" d="M482.6,942.5h0"/>
<path stroke="#6e88d0" d="M514.0,996.9h0M548.1,998.6h0M555.7,1019.0h0M514.7,1014.8h0M532.3,1009.6h0M525.7,1010.0h0M531.1,998.2h0M545.9,1003.2h0M513.1,1013.0h0M555.3,990.2h0"/>
<path stroke="#8b3d6a" d="M512.8,985.1h0M535.0,965.2h0M541.0,965.8h0M546.1,997.2h0M541.1,986.5h0M519.2,981.6h0M527.6,970.4h0M533.5,987.3h0M521.4,970.2h0M517.2,989.9h0M537.8,978.1h0"/>
<path stroke="#de6530" d="M513.1,913.8h0M484.8,913.1h0M520.5,904.9h0M503.7,907.7h0M489.8,909.9h0M487.3,911.9h0M508.8,902.8h0M491.0,902.7h0M488.6,906.1h0M487.7,900.1h0"/>
<path stroke="#c391d6" d="M550.5,956.7h0M534.5,957.8h0M551.1,946.6h0M497.7,948.8h0M518.8,947.7h0M516.2,952.0h0M549.4,957.4h0M526.4,943.1h0M546.7,954.9h0M514.6,954.1h0"/>
<path stroke="#b3c47e" d="M499.7,924.9h0M555.4,934.5h0M506.1,936.0h0M539.0,927.5h0M538.7,930.1h0M526.8,923.6h0M545.6,924.2h0M561.6,934.4h0M524.8,925.0h0M544.8,934.3h0M534.7,935.9h0"/>
<path stroke="#4a4f9a" d="M506.7,948.1h0M528.9,941.6h0M489.2,941.3h0M565.3,975.0h0M535.2,940.8h0M530.1,942.9h0M518.0,947.4h0M571.6,962.7h0M501.8,939.1h0M499.7,947.2h0"/>
<path stroke="#646bd8" d="M607.5,909.5h0M587.5,906.2h0M587.7,909.7h0M602.4,923.3h0M586.5,922.9h0M619.8,893.0h0M596.7,925.2h0M600.7,922.1h0M575.5,911.4h0M620.5,921.4h0M595.8,924.8h0"/>
<path stroke="#d4a874" d="M481.3,944.2h0M477.8,960.8h0M477.8,963.8h0M477.8,943.0h0M479.4,961.8h0M477.8,947.3h0M480.2,941.3h0M484.3,948.5h0M480.5,948.0h0M477.8,952.2h0"/>
<path stroke="#c391d6" d="M501.8,957.2h0M563.4,942.4h0M477.8,944.2h0M550.4,948.4h0M513.5,947.6h0M550.4,951.8h0M500.0,949.0h0M508.4,960.7h0M496.4,943.5h0M518.6,959.8h0"/>
<path stroke="#8b50c0" d="M639.4,1022.6h0M605.9,1001.0h0M629.3,1014.5h0M601.3,1048.4h0M624.8,1003.5h0M593.1,1037.5h0M610.4,1027.0h0M587.0,1036.1h0M615.8,1027.1h0"/>
<path stroke="#c391d6" d="M496.8,953.4h0M530.6,952.4h0M540.7,951.3h0M540.8,955.9h0M540.9,957.1h0M549.9,961.2h0M507.5,951.8h0M570.3,943.3h0M488.0,946.7h0M518.7,953.1h0"/>
<path stroke="#d8a040" d="M624.9,1032.7h0M600.2,1038.8h0M592.8,1051.3h0M591.4,1029.5h0M575.8,1039.8h0M592.0,1006.0h0M594.6,1028.8h0M590.3,1032.7h0M598.6,1034.1h0M596.4,1012.3h0"/>
<path stroke="#d98596" d="M515.4,882.3h0M489.8,876.7h0M521.6,881.0h0M519.5,872.2h0M544.7,854.1h0M517.4,885.6h0M511.4,890.6h0M512.2,886.5h0M521.7,882.5h0M493.6,892.4h0M506.1,878.7h0"/>
<path stroke="#d4a874" d="M483.9,930.1h0M477.8,954.7h0M478.3,940.1h0M491.2,950.8h0M484.9,946.6h0M484.3,969.2h0M477.8,943.9h0M478.9,957.0h0M477.8,946.8h0M489.0,949.8h0"/>
<path stroke="#995733" d="M481.8,943.5h0"/>
<path stroke="#7a7030" d="M587.7,1021.5h0M570.0,1032.9h0M593.4,1020.1h0M575.8,1008.9h0M599.7,1025.8h0M580.3,1012.1h0M600.0,1014.1h0M602.1,1016.0h0M595.3,998.4h0M607.3,994.8h0M619.3,1025.6h0"/>
<path stroke="#6e88d0" d="M533.6,1013.2h0M548.7,996.7h0M537.4,1018.4h0M557.8,1001.9h0M526.3,993.4h0M560.2,1005.3h0M523.3,995.6h0M521.6,993.1h0M534.6,1026.9h0M552.0,1012.8h0M522.1,998.4h0"/>
<path stroke="#cc4878" d="M543.6,1030.2h0M547.1,1044.2h0M526.0,1030.4h0M546.0,1035.8h0M534.5,1029.6h0M528.6,1030.3h0M533.9,1051.8h0M535.1,1043.5h0M519.8,1017.3h0M560.6,1029.4h0"/>
<path stroke="#c656b8" d="M630.6,1017.1h0M609.9,1012.5h0M605.7,1022.8h0M599.0,1023.6h0M630.6,1043.5h0M596.1,1042.1h0M615.3,1021.9h0M618.8,1026.7h0M588.4,1037.7h0M600.7,1020.3h0"/>
<path stroke="#c656b8" d="M625.3,1000.5h0M614.0,1030.9h0M599.4,1020.0h0M628.1,1050.2h0M609.0,1043.2h0M617.8,1002.3h0M595.5,1006.3h0M621.5,1017.2h0M606.4,998.5h0"/>
<path stroke="#4a4f9a" d="M543.7,930.7h0M518.1,945.5h0M494.9,944.6h0M547.2,949.4h0M517.5,939.8h0M537.9,946.7h0M502.4,944.0h0M542.1,959.2h0M518.0,949.4h0M531.9,941.7h0"/>
<path stroke="#b02828" d="M608.2,1009.1h0M598.4,1006.9h0M583.1,1006.3h0M609.3,1034.3h0M599.6,1005.8h0M589.6,1003.5h0"/>
<path stroke="#de6530" d="M506.0,914.3h0M507.2,901.7h0M505.8,896.8h0M488.6,918.0h0M540.8,914.8h0M488.8,909.5h0M496.8,895.3h0M504.4,911.0h0M499.2,901.1h0M477.8,912.1h0M552.1,892.8h0"/>
<path stroke="#8e3545" d="M590.1,960.9h0M588.4,959.7h0M613.0,986.4h0M605.2,978.8h0M588.1,968.2h0M619.4,933.6h0M595.3,965.8h0M603.1,956.6h0M603.5,956.2h0M580.4,963.0h0M610.6,960.7h0"/>
<path stroke="#85b84a" d="M589.3,971.7h0M563.8,974.1h0M584.9,983.9h0M582.2,983.4h0M592.8,983.4h0M567.4,969.0h0M591.7,983.6h0M602.9,975.4h0"/>
<path stroke="#7dd3c3" d="M505.8,929.1h0M550.9,887.5h0M506.2,882.4h0M494.9,924.6h0M522.4,893.2h0M501.9,884.9h0M536.0,883.5h0M534.4,880.4h0M491.0,888.4h0M522.7,894.1h0"/>
<path stroke="#b3c47e" d="M515.5,936.6h0M523.3,936.8h0M503.7,930.7h0M499.2,934.5h0M499.8,933.1h0M560.9,938.1h0M517.6,930.7h0M505.5,928.2h0M556.7,936.4h0M535.6,925.4h0"/>
<path stroke="#4d8840" d="M624.6,1037.6h0M616.3,1001.5h0M607.0,1031.3h0M639.7,1013.1h0M584.3,1007.2h0M620.5,1026.2h0M599.5,1042.9h0M603.1,1020.6h0M638.5,1029.4h0M648.5,1008.2h0"/>
<path stroke="#cc4878" d="M543.8,1026.4h0M560.7,1025.7h0M536.8,1053.0h0M532.9,1021.3h0M544.8,1026.4h0M531.8,1025.7h0M564.1,1022.2h0M531.5,1032.0h0M507.6,1029.5h0M536.9,1038.2h0"/>
<path stroke="#c656b8" d="M631.9,1010.4h0M590.5,1016.3h0M607.6,991.7h0M631.2,999.7h0M610.6,1040.3h0M612.2,1009.5h0M608.5,1004.4h0M609.2,1006.1h0M614.5,1010.4h0"/>
<path stroke="#8b50c0" d="M601.7,1027.9h0M626.3,1024.5h0M631.3,1013.0h0M610.4,1028.3h0M602.4,1006.8h0M621.3,1017.6h0M582.4,1023.5h0M616.9,1027.7h0M581.1,1020.8h0M613.3,996.2h0"/>
<path stroke="#d0883e" d="M605.9,1036.8h0M606.3,1053.0h0M602.7,1025.3h0M605.9,1023.2h0M595.4,1023.1h0M600.1,1032.3h0M620.0,1014.4h0M606.7,1040.7h0M605.7,1023.4h0M604.3,1030.4h0"/>
<path stroke="#7a7030" d="M591.5,1030.3h0M603.1,1023.5h0M604.0,1001.9h0M595.3,1015.0h0M599.1,1006.3h0M553.9,1015.6h0M600.7,1018.5h0M584.6,1008.4h0M578.9,1015.7h0M602.2,1007.5h0"/>
<path stroke="#8b3d6a" d="M534.8,988.8h0M523.6,988.5h0M514.8,977.8h0M536.8,1003.1h0M534.0,996.0h0M537.8,1001.1h0M539.5,971.8h0M525.0,1000.6h0M547.7,996.7h0M542.9,976.8h0"/>
<path stroke="#b3c47e" d="M518.1,935.4h0M497.2,923.9h0M531.8,929.9h0M521.3,938.0h0M499.3,937.6h0M528.3,924.1h0M503.4,931.9h0M523.4,938.0h0M523.4,936.6h0M500.7,924.7h0"/>
<path stroke="#b3c47e" d="M544.2,927.5h0M506.0,926.3h0M497.0,934.3h0M559.9,934.6h0M549.2,936.6h0M527.2,932.9h0M553.1,935.5h0M560.3,926.6h0M543.4,929.2h0M536.5,926.1h0"/>
<path stroke="#7a7030" d="M594.1,1035.1h0M592.8,1019.5h0M617.3,1022.1h0M593.2,1014.5h0M597.3,1001.6h0M613.9,1014.4h0M572.9,1010.2h0M601.9,1020.3h0M580.2,1030.9h0M594.6,1031.8h0"/>
<path stroke="#c391d6" d="M532.1,950.5h0M505.9,948.1h0M511.4,952.9h0M507.1,951.5h0M496.1,943.4h0M566.4,946.9h0M533.0,950.5h0M563.2,948.1h0M563.2,946.7h0M496.9,949.4h0"/>
<path stroke="#8e3545" d="M598.1,953.0h0M605.9,952.6h0M577.3,943.7h0M601.5,958.5h0M594.9,966.0h0M584.5,956.6h0M587.0,954.5h0M585.9,966.8h0M581.3,951.8h0M577.6,947.2h0"/>
<path stroke="#4e8860" d="M630.2,1016.9h0M612.9,1002.4h0M629.3,1012.4h0M652.0,1030.7h0M632.2,1007.3h0M622.4,1021.8h0M609.0,998.5h0M636.5,1019.7h0M634.1,1023.5h0M610.4,1007.1h0M618.6,1013.0h0M622.7,1004.4h0"/>
<path stroke="#7dd3c3" d="M482.1,885.6h0M524.9,929.2h0M488.5,892.0h0M518.9,884.0h0M481.3,887.4h0M544.5,886.9h0M541.4,882.7h0M512.3,892.9h0M536.0,893.8h0M550.7,887.7h0"/>
<path stroke="#7dd3c3" d="M509.3,915.2h0M510.1,926.0h0M484.5,884.0h0M512.0,936.6h0M533.3,881.0h0M480.9,882.3h0M497.1,880.6h0M526.4,924.0h0M529.4,944.4h0M492.3,889.4h0M497.4,893.1h0"/>
<path stroke="#7dd3c3" d="M489.5,892.9h0M550.9,883.3h0M498.1,891.1h0M550.7,890.6h0M514.2,925.5h0M539.3,939.7h0M534.1,893.6h0M539.9,886.4h0M549.6,886.2h0M516.8,883.2h0"/>
<path stroke="#7dd3c3" d="M513.0,925.0h0M491.1,884.1h0M539.6,888.0h0M519.2,932.1h0M498.6,881.4h0M494.8,884.1h0M523.6,887.6h0M511.0,880.5h0M509.2,884.1h0M511.3,890.6h0M479.1,892.1h0"/>
<path stroke="#4e8860" d="M645.1,1024.3h0M626.0,992.6h0M630.9,1003.8h0M641.3,1009.3h0M577.4,1042.1h0M608.5,1004.6h0M635.2,1014.1h0M602.1,996.8h0M643.6,1027.1h0M632.4,1026.3h0M644.9,1035.1h0M607.7,991.4h0"/>
<path stroke="#4e8860" d="M620.7,1003.0h0M621.2,1012.0h0M623.1,1018.4h0M652.0,1016.5h0M619.4,998.6h0M631.4,1012.5h0M601.6,1002.2h0M624.8,1010.6h0M616.4,1023.1h0M613.4,1022.2h0M624.5,1026.8h0M618.8,1022.7h0"/>
<path stroke="#b02828" d="M272.7,504.0h0M264.2,508.3h0M282.2,507.9h0M277.6,506.8h0M288.3,502.3h0M290.3,508.1h0"/>
<path stroke="#b02828" d="M285.2,507.2h0M296.8,503.2h0M281.8,510.6h0M291.0,483.3h0M274.3,503.9h0M273.2,511.0h0"/>
<path stroke="#b02828" d="M286.3,505.3h0M294.2,484.1h0M251.1,510.7h0M260.7,506.8h0M267.8,510.3h0M281.4,509.0h0"/>
<path stroke="#995733" d="M131.1,507.3h0M126.7,479.0h0M117.9,506.4h0M125.1,509.1h0M160.0,498.5h0M135.1,472.6h0M154.6,497.2h0"/>
<path stroke="#995733" d="M108.0,505.5h0M137.7,505.8h0M116.2,506.9h0M122.4,491.4h0M196.4,505.7h0M111.2,485.0h0M127.3,503.5h0"/>
<path stroke="#639dd6" d="M279.0,315.3h0M278.3,383.7h0M253.8,408.6h0M279.3,316.1h0M248.3,315.4h0M300.3,315.9h0M227.4,315.6h0M225.4,316.0h0"/>
<path stroke="#639dd6" d="M279.8,315.3h0M301.3,315.3h0M263.6,315.4h0M262.0,384.7h0M257.5,315.3h0M264.1,315.3h0M239.7,315.3h0"/>
<path stroke="#b3c47e" d="M202.1,492.0h0M114.0,482.7h0M192.7,490.1h0M202.0,493.0h0M210.0,508.6h0M179.5,499.6h0M179.6,496.1h0M117.7,496.8h0M150.6,502.9h0"/>
<path stroke="#995733" d="M103.8,505.3h0M110.5,508.1h0M194.0,494.6h0M135.3,504.7h0M133.2,506.1h0M98.0,508.5h0M133.3,506.2h0"/>
<path stroke="#b02828" d="M257.6,510.2h0M263.3,510.9h0M263.9,510.9h0M296.0,507.4h0M270.0,509.3h0M250.3,504.6h0"/>
<path stroke="#b3c47e" d="M219.4,495.6h0M184.5,465.0h0M161.7,500.5h0M187.0,488.3h0M173.7,479.1h0M235.1,495.8h0M130.9,494.3h0M246.0,497.6h0M132.5,490.6h0"/>
<path stroke="#d2cc58" d="M170.9,502.2h0M106.6,501.8h0M132.9,507.5h0M220.6,489.7h0M195.7,502.3h0M178.2,503.3h0M196.3,508.7h0M190.4,503.7h0M158.0,506.7h0"/>
<path stroke="#d2cc58" d="M157.9,507.9h0M131.2,507.3h0M181.9,507.8h0M172.1,507.5h0M135.3,507.1h0M168.9,505.0h0M100.6,498.1h0M170.6,500.0h0"/>
<path stroke="#995733" d="M134.3,506.5h0M102.4,510.0h0M162.4,490.5h0M121.5,504.7h0M112.6,507.3h0M125.4,473.3h0M98.9,472.0h0"/>
<path stroke="#de6530" d="M149.1,492.9h0M129.1,504.0h0M111.5,505.6h0M87.8,501.2h0M133.9,498.4h0M137.6,503.8h0M88.3,504.6h0"/>
<path stroke="#de6530" d="M85.0,482.0h0M118.0,478.0h0M116.3,501.3h0M97.0,496.6h0M137.0,490.0h0M115.9,502.0h0"/>
<path stroke="#de6530" d="M107.2,499.5h0M84.9,502.9h0M110.6,492.6h0M157.3,496.5h0M145.0,497.2h0M84.8,502.1h0M122.1,499.4h0"/>
<path stroke="#639dd6" d="M259.5,329.0h0M258.8,315.3h0M277.0,315.3h0M242.7,316.4h0M239.7,325.5h0M274.5,385.0h0M252.8,315.5h0M246.7,315.3h0"/>
<path stroke="#b3c47e" d="M203.4,508.5h0M207.0,508.8h0M194.3,502.4h0M111.5,501.3h0M190.7,507.9h0M143.5,504.7h0M205.7,468.9h0M146.8,496.9h0M177.8,501.6h0"/>
<path stroke="#995733" d="M131.5,503.1h0M116.3,504.0h0M170.4,493.7h0M125.6,503.2h0M134.9,506.7h0M120.1,507.7h0M193.8,497.4h0"/>
<path stroke="#d4a874" d="M74.2,495.3h0M91.9,499.8h0M74.0,491.7h0M84.0,448.0h0M80.3,498.1h0M73.7,497.8h0M79.5,494.7h0M74.2,495.6h0M76.2,487.7h0M78.2,484.0h0"/>
<path stroke="#8fdc96" d="M276.6,355.2h0M226.9,401.9h0M225.8,342.6h0M242.5,315.3h0M239.2,430.9h0M159.4,328.8h0M268.4,395.4h0M252.4,342.3h0M174.6,356.4h0M226.1,363.2h0M244.9,372.1h0"/>
<path stroke="#8b50c0" d="M289.1,499.2h0M275.6,507.7h0M300.6,500.5h0M298.6,498.0h0M293.5,508.0h0M275.5,508.3h0"/>
<path stroke="#d0883e" d="M285.3,472.9h0M264.0,502.6h0M293.8,422.7h0M286.3,365.8h0M267.9,398.5h0M276.0,375.1h0M300.5,484.8h0M296.0,467.3h0M284.3,450.6h0M300.0,387.7h0"/>
<path stroke="#d2cc58" d="M224.4,503.6h0M173.5,497.6h0M235.2,499.6h0M164.2,500.6h0M215.4,493.8h0M150.7,493.8h0M216.6,471.7h0M216.2,472.1h0"/>
<path stroke="#cc4878" d="M203.6,470.3h0M220.3,485.5h0M199.3,480.1h0M187.4,481.8h0M172.1,450.7h0M187.7,492.0h0M185.7,494.2h0M173.5,482.9h0M169.6,489.7h0M178.5,501.9h0M172.0,501.6h0"/>
<path stroke="#4a4f9a" d="M126.3,506.0h0M138.4,493.6h0M124.0,437.0h0M132.4,504.0h0M141.1,485.2h0M127.5,505.7h0M173.0,490.8h0M162.8,503.1h0"/>
<path stroke="#b3c47e" d="M186.6,502.9h0M223.6,501.8h0M245.7,503.7h0M154.0,492.8h0M219.2,501.2h0M184.4,490.7h0M174.5,498.5h0M191.7,501.2h0M159.0,491.1h0"/>
<path stroke="#d8a040" d="M274.0,497.7h0M278.0,501.8h0M288.4,492.7h0M289.7,494.5h0M281.1,497.3h0M285.1,493.4h0M286.3,500.3h0M275.1,496.0h0M297.6,504.9h0M272.1,508.5h0"/>
<path stroke="#639dd6" d="M232.8,315.3h0M277.3,315.3h0M265.2,315.3h0M235.3,316.0h0M256.8,321.9h0M292.8,315.3h0M241.9,327.7h0"/>
<path stroke="#d2cc58" d="M100.7,499.5h0M121.7,499.0h0M145.0,499.5h0M222.6,508.4h0M183.0,497.0h0M225.8,490.5h0M179.1,495.1h0M101.2,498.9h0M160.4,508.5h0"/>
<path stroke="#6e88d0" d="M122.1,351.5h0M168.4,344.4h0M207.9,339.5h0M144.1,337.4h0M194.4,320.4h0M175.6,338.8h0M169.6,349.4h0M125.3,350.8h0M117.8,350.0h0"/>
<path stroke="#4a4f9a" d="M137.7,493.8h0M149.8,483.5h0M134.7,469.4h0M105.0,443.0h0M153.7,502.6h0M132.1,492.8h0M196.1,499.8h0M148.6,500.3h0M137.9,486.9h0"/>
<path stroke="#8b3d6a" d="M202.6,480.5h0M196.5,445.7h0M195.9,502.9h0M198.4,495.6h0M174.7,489.7h0M162.2,505.7h0M218.6,492.8h0M175.1,472.8h0M223.4,501.4h0"/>
<path stroke="#6e88d0" d="M194.8,348.5h0M190.6,352.3h0M163.8,356.4h0M170.3,369.5h0M144.6,377.4h0M141.8,347.6h0M203.8,342.9h0M185.5,379.1h0M143.1,350.4h0"/>
<path stroke="#c656b8" d="M297.7,347.7h0M238.3,358.9h0M243.6,364.2h0M296.5,367.9h0M233.5,356.9h0M288.4,367.6h0M240.4,366.3h0M289.6,360.2h0M237.7,330.0h0M281.6,339.0h0M273.8,359.5h0"/>
<path stroke="#b02828" d="M255.9,508.4h0M281.8,452.8h0M276.4,507.6h0M288.1,508.9h0M288.1,502.8h0M281.4,508.6h0"/>
<path stroke="#d2cc58" d="M194.3,491.8h0M206.8,493.4h0M180.6,499.0h0M210.3,484.8h0M157.4,493.0h0M113.9,503.4h0M141.5,490.5h0M210.6,478.4h0M249.0,492.2h0"/>
<path stroke="#8b50c0" d="M289.8,499.4h0M285.0,485.0h0M293.1,495.7h0M281.1,496.5h0M300.0,442.0h0M293.5,498.1h0"/>
<path stroke="#b02828" d="M297.5,485.6h0M254.5,505.7h0M281.2,508.5h0M269.9,509.8h0M287.4,508.2h0M257.6,509.9h0"/>
<path stroke="#c391d6" d="M171.4,473.8h0M105.4,505.0h0M181.7,496.7h0M218.1,502.7h0M148.6,500.6h0M139.1,488.9h0M152.4,507.6h0M207.1,494.9h0M154.0,482.7h0M204.9,502.6h0"/>
<path stroke="#8fdc96" d="M203.5,340.2h0M251.2,344.3h0M235.5,353.4h0M257.0,339.2h0M241.1,344.5h0M231.5,352.2h0M230.8,327.4h0M241.7,367.8h0M198.4,332.5h0M256.2,366.2h0"/>
<path stroke="#c391d6" d="M209.5,505.7h0M190.8,497.9h0M247.5,503.1h0M107.8,492.2h0M237.8,499.5h0M116.1,505.5h0M126.6,485.0h0M123.9,499.1h0M221.6,490.6h0M235.6,499.4h0"/>
<path stroke="#85b84a" d="M212.5,462.4h0M255.9,489.3h0M253.8,491.2h0M278.1,491.0h0M264.6,486.8h0M217.8,495.1h0M246.4,437.6h0"/>
<path stroke="#d8a040" d="M294.3,493.7h0M280.2,500.0h0M300.7,499.2h0M292.4,504.4h0M272.7,510.4h0M297.1,448.4h0M271.6,502.9h0M283.2,494.8h0M301.3,499.8h0M275.6,506.7h0M301.3,477.9h0"/>
<path stroke="#cc4878" d="M208.9,497.4h0M163.4,386.8h0M229.3,488.9h0M154.4,484.3h0M178.2,488.7h0M177.2,448.8h0M169.8,494.9h0M153.3,491.8h0M243.9,483.4h0M206.6,494.9h0M173.4,494.3h0"/>
<path stroke="#8b3d6a" d="M203.6,503.8h0M201.3,484.8h0M207.7,479.2h0M245.4,490.8h0M226.0,505.6h0M166.3,485.0h0M210.4,490.1h0M200.4,478.9h0M124.4,505.5h0M181.8,452.1h0"/>
<path stroke="#c391d6" d="M106.6,492.0h0M226.7,497.1h0M195.7,502.6h0M169.6,498.5h0M92.1,505.4h0M130.1,473.5h0M109.7,495.2h0M178.3,506.0h0M176.0,496.3h0M115.9,488.1h0"/>
<path stroke="#de6530" d="M151.3,493.2h0M91.9,503.0h0M116.8,496.8h0M119.4,506.7h0M134.2,505.9h0M173.1,406.6h0"/>
<path stroke="#de6530" d="M121.0,484.0h0M88.0,476.0h0M133.0,500.0h0M86.9,499.5h0M145.3,494.6h0M152.2,498.7h0"/>
<path stroke="#d4a874" d="M73.7,500.2h0M76.1,508.3h0M90.3,504.0h0M76.4,500.9h0M73.6,486.7h0M74.3,500.7h0M76.5,494.9h0M80.5,493.4h0M76.1,498.4h0"/>
<path stroke="#cc4878" d="M195.4,503.0h0M171.8,402.1h0M190.0,497.3h0M199.5,508.0h0M150.3,368.0h0M173.4,507.4h0M206.6,497.1h0M203.0,497.0h0M185.9,480.5h0M196.0,485.0h0M226.7,485.9h0"/>
<path stroke="#de6530" d="M158.0,461.0h0M151.2,498.9h0M133.1,505.3h0M173.0,408.0h0M89.4,502.9h0M130.0,481.0h0M87.1,492.7h0"/>
<path stroke="#d4a874" d="M96.6,506.6h0M78.5,473.4h0M86.1,496.6h0M77.6,469.6h0M79.8,504.3h0M81.8,476.9h0M77.3,491.5h0M82.5,494.3h0M78.9,491.2h0M75.6,488.1h0"/>
<path stroke="#b3c47e" d="M223.2,495.2h0M155.9,506.6h0M145.0,481.3h0M166.6,504.1h0M182.6,494.2h0M124.5,501.3h0M227.7,477.7h0M125.4,488.0h0"/>
<path stroke="#6e88d0" d="M173.5,346.6h0M217.8,324.5h0M140.3,352.3h0M164.3,342.3h0M248.8,364.4h0M143.1,354.1h0M173.5,316.3h0M166.9,370.6h0M194.8,333.9h0M169.9,360.7h0"/>
<path stroke="#639dd6" d="M283.6,315.3h0M226.3,329.7h0M240.7,315.3h0M257.1,316.3h0M276.3,315.5h0M268.3,315.3h0M269.8,329.9h0M295.9,315.3h0"/>
<path stroke="#d0883e" d="M283.3,489.1h0M282.0,367.1h0M298.2,384.7h0M270.4,404.1h0M289.3,441.3h0M290.3,475.4h0M292.9,421.4h0M296.9,401.3h0M277.1,445.0h0M299.0,448.0h0M272.9,449.1h0"/>
<path stroke="#7dd3c3" d="M162.6,495.6h0M89.8,502.1h0M128.1,495.6h0M154.7,499.7h0M100.7,495.3h0M128.9,500.1h0M72.8,500.8h0M88.8,506.9h0M77.0,501.3h0M108.7,508.7h0"/>
<path stroke="#646bd8" d="M297.0,497.0h0M240.8,481.4h0M273.6,508.5h0M294.2,496.9h0M281.4,507.8h0M250.2,491.3h0M272.2,493.2h0M265.2,499.0h0M298.0,498.2h0M278.4,498.1h0M255.6,494.8h0"/>
<path stroke="#8e3545" d="M193.5,469.1h0M204.6,393.1h0M257.6,388.2h0M255.4,404.6h0M221.4,402.8h0M192.7,450.9h0M220.0,401.6h0M268.0,399.9h0M269.4,381.5h0M235.4,405.8h0M207.9,436.0h0"/>
<path stroke="#646bd8" d="M252.5,492.6h0M267.1,493.4h0M258.7,461.2h0M268.5,507.0h0M294.8,507.8h0M290.0,440.2h0M296.1,494.9h0M287.8,459.9h0M276.9,504.8h0M252.5,506.8h0M260.7,500.6h0"/>
<path stroke="#c656b8" d="M257.4,334.9h0M240.6,371.7h0M236.7,353.4h0M265.9,369.2h0M283.3,344.0h0M265.3,341.0h0M286.5,355.9h0M247.6,328.1h0M301.3,368.8h0M296.5,348.4h0"/>
<path stroke="#639dd6" d="M252.6,316.4h0M285.7,315.8h0M227.0,315.4h0M301.3,315.3h0M255.4,422.1h0M272.1,315.3h0M224.1,315.3h0"/>
<path stroke="#d4a874" d="M76.4,491.9h0M73.8,477.1h0M80.5,491.3h0M81.4,488.1h0M78.6,487.8h0M90.2,503.9h0M75.0,503.5h0M82.1,469.9h0M76.9,496.0h0"/>
<path stroke="#b3c47e" d="M193.6,491.2h0M223.4,503.7h0M233.6,507.2h0M116.0,499.1h0M123.8,505.7h0M147.2,498.7h0M133.6,498.9h0M165.8,506.3h0M215.6,490.5h0"/>
<path stroke="#8b50c0" d="M291.4,508.5h0M289.2,496.3h0M292.5,501.7h0M294.1,509.9h0M277.9,501.6h0M293.1,503.9h0"/>
<path stroke="#d2cc58" d="M237.1,496.9h0M196.7,475.1h0M175.7,508.1h0M190.4,498.9h0M130.6,492.3h0M222.6,502.0h0M127.2,498.4h0M203.0,507.9h0"/>
<path stroke="#8fdc96" d="M220.8,355.9h0M240.9,351.5h0M189.6,346.3h0M222.5,353.3h0M261.9,326.4h0M266.2,353.5h0M202.1,330.3h0M271.4,330.6h0M248.6,354.4h0M240.9,330.5h0"/>
<path stroke="#d98596" d="M101.4,493.0h0M92.4,503.9h0M110.9,507.6h0M174.0,490.3h0M113.2,501.2h0M96.4,490.2h0M134.0,497.4h0M168.1,507.7h0M109.6,504.4h0M153.9,496.2h0"/>
<path stroke="#8e3545" d="M212.8,374.1h0M243.1,420.0h0M224.4,394.6h0M171.4,341.1h0M264.5,422.5h0M288.4,400.3h0M212.7,350.4h0M228.3,348.4h0M249.6,404.3h0M161.7,368.0h0M199.6,403.5h0M192.7,385.8h0"/>
<path stroke="#8b50c0" d="M293.0,504.9h0M279.3,505.1h0M298.1,498.1h0M281.1,499.1h0M281.6,496.2h0M282.8,496.1h0"/>
<path stroke="#d8a040" d="M280.3,502.6h0M289.5,474.0h0M287.1,493.5h0M276.0,494.6h0M298.9,504.6h0M276.2,498.6h0M299.7,504.1h0M295.3,505.7h0M272.7,508.7h0M288.0,510.9h0"/>
<path stroke="#c391d6" d="M217.0,493.1h0M230.4,506.5h0M118.9,500.8h0M86.2,495.1h0M227.0,493.9h0M241.7,505.8h0M125.0,496.0h0M95.7,508.1h0M143.3,493.1h0M105.8,494.9h0"/>
<path stroke="#6e88d0" d="M243.3,458.1h0M171.3,362.6h0M155.3,323.8h0M135.3,347.4h0M169.9,374.8h0M132.4,352.3h0M163.4,346.6h0M201.3,479.8h0M150.1,333.1h0"/>
<path stroke="#c656b8" d="M257.1,350.6h0M255.0,329.1h0M232.3,338.5h0M297.3,370.2h0M232.1,371.6h0M256.1,344.7h0M235.7,335.6h0M261.3,358.9h0M278.6,323.7h0M263.4,340.6h0M274.9,367.3h0"/>
<path stroke="#8fdc96" d="M226.7,359.4h0M163.0,360.7h0M263.3,437.4h0M128.3,332.0h0M223.7,356.0h0M254.7,352.7h0M225.9,341.0h0M270.5,327.7h0M250.2,361.2h0M245.4,372.6h0"/>
<path stroke="#4d8840" d="M298.3,331.1h0M300.3,322.8h0M299.8,331.0h0M298.7,323.2h0M277.9,370.3h0M296.0,366.5h0M282.7,386.4h0M299.6,330.5h0M265.8,336.8h0M279.6,361.9h0"/>
<path stroke="#646bd8" d="M292.2,506.7h0M261.5,500.2h0M292.9,502.3h0M300.7,490.7h0M296.7,506.4h0M240.6,454.7h0M291.3,506.9h0M290.6,494.7h0M287.9,501.3h0M276.1,490.5h0"/>
<path stroke="#4a4f9a" d="M139.6,501.4h0M181.8,502.6h0M124.4,491.1h0M156.2,489.4h0M170.8,494.3h0M148.9,494.2h0M135.5,490.9h0M125.7,505.1h0"/>
<path stroke="#d8a040" d="M292.2,469.4h0M274.9,499.4h0M276.0,498.4h0M279.9,496.8h0M291.2,499.3h0M297.4,505.3h0M299.6,508.9h0M294.1,507.3h0M290.4,508.5h0M279.2,507.1h0"/>
<path stroke="#995733" d="M135.1,470.7h0M103.8,504.1h0M164.1,507.4h0M191.1,492.2h0M177.1,490.7h0M134.9,503.9h0M107.9,503.6h0"/>
<path stroke="#4d8840" d="M301.3,345.9h0M298.7,323.3h0M279.0,415.8h0M281.3,397.4h0M301.1,339.7h0M300.2,326.5h0M270.5,375.1h0M273.2,347.4h0M298.5,323.7h0M301.0,317.4h0"/>
<path stroke="#cc4878" d="M119.6,480.1h0M128.0,490.1h0M180.4,478.8h0M186.8,506.8h0M159.4,477.6h0M169.9,449.2h0M152.0,504.2h0M153.3,499.2h0M174.6,501.2h0M198.3,500.3h0"/>
<path stroke="#8b50c0" d="M280.7,502.8h0M286.8,502.4h0M280.0,506.4h0M282.4,506.8h0M300.0,495.5h0M291.3,509.7h0"/>
<path stroke="#8e3545" d="M283.6,424.1h0M269.1,383.1h0M208.1,399.2h0M197.2,345.1h0M227.8,357.6h0M220.1,366.2h0M268.6,409.9h0M214.8,337.2h0M200.8,396.9h0M301.3,351.7h0M170.5,389.4h0M242.1,364.9h0"/>
<path stroke="#d0883e" d="M297.6,436.7h0M280.5,447.1h0M295.6,466.1h0M299.5,475.8h0M295.1,479.7h0M292.1,466.8h0M295.0,395.8h0M295.6,480.8h0M291.4,448.5h0M278.8,485.5h0"/>
<path stroke="#4a4f9a" d="M189.9,497.5h0M164.1,489.7h0M152.5,482.1h0M129.9,492.8h0M142.4,498.4h0M156.3,477.0h0M144.0,490.1h0M165.7,493.6h0"/>
<path stroke="#4a4f9a" d="M139.8,502.5h0M175.1,495.3h0M144.1,495.0h0M147.2,494.0h0M155.2,497.9h0M140.4,483.1h0M153.3,500.1h0M121.0,465.0h0"/>
<path stroke="#646bd8" d="M281.1,505.6h0M278.2,476.5h0M282.2,459.7h0M261.7,508.4h0M221.2,482.4h0M256.9,499.6h0M264.4,490.2h0M290.5,495.6h0M217.8,502.4h0M301.3,440.7h0M265.7,483.6h0"/>
<path stroke="#c656b8" d="M252.2,331.6h0M281.1,386.3h0M253.1,360.5h0M267.5,338.5h0M242.6,359.7h0M250.1,327.8h0M301.3,378.5h0M283.8,371.8h0M277.2,333.3h0M285.0,365.8h0M293.7,354.8h0"/>
<path stroke="#4e8860" d="M298.2,351.3h0M274.1,315.3h0M301.3,418.8h0M292.6,315.3h0M292.7,387.2h0M299.4,426.9h0M274.6,315.8h0M292.5,315.3h0M263.8,315.4h0M291.1,315.3h0M263.3,315.4h0"/>
<path stroke="#c391d6" d="M86.3,498.3h0M163.3,493.8h0M211.6,507.0h0M187.1,490.5h0M135.8,485.8h0M113.2,503.7h0M131.7,502.3h0M214.4,500.2h0M233.0,505.5h0M93.2,492.8h0"/>
<path stroke="#7a3f80" d="M218.6,505.0h0M240.8,497.9h0M109.3,496.6h0M121.4,506.3h0M237.4,503.7h0M166.4,499.4h0M101.8,499.8h0M154.7,509.4h0M125.2,509.1h0M193.3,498.4h0M124.5,485.1h0M131.8,505.7h0M172.0,502.1h0M117.5,485.1h0"/>
<path stroke="#6e88d0" d="M160.4,369.1h0M201.5,360.3h0M168.1,334.3h0M145.0,356.4h0M217.3,443.0h0M185.4,392.6h0M178.2,382.4h0M202.9,452.4h0M117.4,380.8h0M120.4,401.2h0"/>
<path stroke="#cc4878" d="M169.4,505.9h0M196.9,466.6h0M165.6,495.8h0M148.4,393.9h0M189.8,493.7h0M202.7,483.7h0M214.5,478.2h0M144.5,476.8h0M207.1,465.0h0M208.4,507.3h0"/>
<path stroke="#4e8860" d="M259.6,315.6h0M287.1,474.7h0M281.2,349.5h0M263.1,315.3h0M298.1,436.6h0M252.7,316.1h0M296.2,336.2h0M297.5,315.7h0M301.3,315.3h0M292.7,478.8h0M284.8,315.6h0"/>
<path stroke="#85b84a" d="M234.3,489.7h0M273.0,503.2h0M254.8,503.8h0M266.3,497.7h0M236.5,500.9h0M231.7,472.3h0M287.4,497.3h0"/>
<path stroke="#d98596" d="M184.7,493.5h0M126.6,497.9h0M109.3,494.8h0M106.4,498.7h0M173.1,487.7h0M72.8,496.7h0M157.7,494.1h0M101.6,501.7h0M102.3,490.8h0M104.6,505.9h0"/>
<path stroke="#d0883e" d="M300.4,460.8h0M290.3,395.1h0M290.3,408.5h0M279.5,378.0h0M296.4,385.5h0M293.8,400.2h0M294.8,481.2h0M275.7,457.1h0M262.3,427.0h0M277.0,457.2h0"/>
<path stroke="#8e3545" d="M251.6,371.8h0M255.2,421.0h0M289.7,416.8h0M144.3,366.1h0M194.6,418.5h0M196.3,409.7h0M202.9,360.0h0M175.5,345.4h0M253.5,381.3h0M274.8,441.4h0M212.3,377.0h0"/>
<path stroke="#7dd3c3" d="M116.4,506.4h0M135.3,502.3h0M181.6,503.5h0M101.3,509.5h0M158.8,503.1h0M115.3,503.6h0M72.8,496.3h0M129.9,505.8h0M116.6,507.8h0M115.4,498.1h0"/>
<path stroke="#7dd3c3" d="M193.5,500.7h0M88.4,495.7h0M138.8,505.5h0M156.0,497.4h0M77.9,500.2h0M127.4,505.8h0M145.0,508.1h0M82.8,501.3h0M108.2,498.8h0M93.7,496.3h0"/>
<path stroke="#646bd8" d="M279.8,498.0h0M249.5,468.2h0M277.4,508.3h0M281.9,476.0h0M264.3,503.6h0M287.7,468.3h0M280.5,499.9h0M288.3,490.1h0M285.5,504.7h0M276.5,502.5h0"/>
<path stroke="#d98596" d="M83.9,504.5h0M100.5,495.1h0M89.3,492.0h0M104.0,492.9h0M160.3,504.7h0M122.4,507.6h0M117.3,504.6h0M188.3,495.8h0M101.2,493.0h0M118.0,506.3h0"/>
<path stroke="#4d8840" d="M300.5,327.4h0M265.6,357.4h0M301.0,317.4h0M299.8,332.1h0M298.0,324.5h0M300.0,347.9h0M277.0,369.0h0M284.8,348.0h0M298.3,408.2h0M282.2,370.7h0"/>
<path stroke="#4a4f9a" d="M143.8,483.0h0M146.6,501.1h0M137.5,505.8h0M163.6,486.1h0M121.0,486.0h0M138.9,477.6h0M194.6,505.7h0M146.4,477.2h0"/>
<path stroke="#d8a040" d="M278.3,504.5h0M277.1,509.5h0M278.9,496.9h0M276.8,509.4h0M286.2,502.0h0M273.5,496.5h0M277.3,496.9h0M292.7,466.9h0M301.3,506.7h0M299.1,473.9h0"/>
<path stroke="#646bd8" d="M253.4,495.2h0M281.5,495.4h0M254.4,468.8h0M254.5,449.5h0M269.6,475.3h0M301.3,494.0h0M223.3,506.9h0M288.2,494.0h0M281.9,443.1h0M248.7,483.6h0M239.8,508.6h0"/>
<path stroke="#8b3d6a" d="M180.5,485.4h0M173.3,499.1h0M159.6,465.6h0M175.5,508.4h0M173.1,485.9h0M181.6,490.2h0M189.9,459.3h0M166.5,507.2h0M198.7,493.3h0M211.8,496.6h0"/>
<path stroke="#8fdc96" d="M197.6,381.8h0M260.8,341.7h0M241.4,359.9h0M202.1,416.8h0M227.0,445.8h0M212.6,340.9h0M130.9,365.8h0M239.6,342.4h0M214.2,340.7h0M207.9,351.4h0"/>
<path stroke="#8b3d6a" d="M220.8,504.5h0M198.4,465.6h0M146.2,489.9h0M198.7,505.7h0M184.4,484.2h0M167.5,494.5h0M197.6,489.3h0M159.9,434.8h0M209.6,485.4h0M205.4,505.9h0"/>
<path stroke="#d98596" d="M83.6,495.8h0M76.7,497.7h0M141.4,497.4h0M85.5,501.6h0M141.1,505.4h0M127.1,494.8h0M92.8,505.9h0M90.9,495.2h0M158.1,481.5h0M125.2,500.4h0"/>
<path stroke="#d98596" d="M146.6,493.0h0M111.0,504.2h0M118.7,497.0h0M182.4,485.5h0M134.0,443.0h0M116.9,506.2h0M78.1,492.6h0M72.8,497.3h0M110.5,492.2h0M112.3,506.2h0M144.7,507.9h0"/>
<path stroke="#c656b8" d="M251.3,342.9h0M275.6,366.7h0M298.4,345.1h0M234.1,337.0h0M284.9,327.2h0M255.4,336.7h0M254.7,349.1h0M278.1,381.8h0M263.3,357.9h0M294.4,367.9h0M258.5,370.2h0"/>
<path stroke="#cc4878" d="M215.7,492.4h0M204.8,496.9h0M241.1,486.0h0M147.6,496.6h0M182.9,487.4h0M184.8,455.5h0M210.0,488.9h0M188.0,436.4h0M171.6,454.9h0M142.6,488.7h0M185.0,492.5h0"/>
<path stroke="#d0883e" d="M273.2,463.2h0M295.2,428.4h0M291.5,502.3h0M290.7,499.6h0M288.5,394.4h0M274.5,489.9h0M297.6,482.0h0M286.3,416.3h0M289.4,498.9h0M299.8,464.1h0"/>
<path stroke="#d0883e" d="M284.2,491.5h0M277.5,420.5h0M295.9,460.0h0M285.2,382.4h0M263.6,481.9h0M294.9,365.7h0M292.1,375.0h0M287.6,442.7h0M288.4,455.3h0M272.0,401.1h0M278.7,413.3h0"/>
<path stroke="#d4a874" d="M77.0,491.3h0M75.4,477.5h0M77.5,502.3h0M98.2,498.6h0M74.9,499.2h0M83.9,503.4h0M75.5,503.6h0M82.0,507.0h0M74.7,492.9h0M74.9,499.7h0"/>
<path stroke="#85b84a" d="M234.3,498.6h0M237.3,492.4h0M234.5,511.0h0M199.4,486.0h0M245.3,492.7h0M224.8,494.5h0M247.7,501.4h0"/>
<path stroke="#85b84a" d="M244.8,502.7h0M233.0,498.7h0M210.8,511.0h0M253.9,485.8h0M248.2,490.8h0M235.2,479.3h0M249.3,489.8h0"/>
<path stroke="#c391d6" d="M228.4,498.7h0M243.8,503.8h0M246.9,502.2h0M161.6,483.5h0M152.7,491.9h0M185.4,492.5h0M189.3,508.1h0M190.2,493.8h0M163.0,507.7h0M183.8,508.0h0M235.0,508.7h0"/>
<path stroke="#8b50c0" d="M290.1,500.2h0M275.5,509.4h0M287.3,506.0h0M289.6,504.8h0M296.8,507.7h0M278.7,498.9h0M287.9,505.7h0"/>
<path stroke="#c656b8" d="M286.5,333.1h0M268.7,365.3h0M248.8,370.9h0M233.1,366.0h0M297.5,347.9h0M261.0,348.4h0M293.9,364.1h0M285.2,331.2h0M273.6,348.4h0M272.4,357.2h0"/>
<path stroke="#4d8840" d="M288.5,381.5h0M277.0,373.3h0M301.3,331.0h0M289.8,362.6h0M282.7,417.3h0M300.5,327.9h0M295.5,326.2h0M296.6,320.9h0M299.6,322.0h0M296.2,345.9h0"/>
<path stroke="#4d8840" d="M272.8,388.5h0M265.9,395.4h0M301.0,322.8h0M274.3,427.3h0M299.3,332.4h0M300.9,339.8h0M298.7,322.4h0M294.8,404.5h0M301.2,325.0h0M300.3,357.3h0"/>
<path stroke="#8fdc96" d="M263.4,378.8h0M192.3,359.0h0M169.8,336.3h0M181.8,341.0h0M251.3,349.7h0M235.7,355.7h0M237.4,355.7h0M257.5,384.5h0M155.1,333.9h0M205.6,351.6h0"/>
<path stroke="#8e3545" d="M189.6,398.6h0M241.1,405.0h0M213.1,420.8h0M222.0,399.3h0M235.1,402.0h0M233.1,393.5h0M198.1,410.4h0M226.8,401.0h0M290.1,443.8h0M197.8,368.3h0M257.4,380.5h0"/>
<path stroke="#8b3d6a" d="M145.6,488.6h0M181.2,485.9h0M186.3,452.3h0M204.0,476.9h0M151.6,491.7h0M242.7,501.8h0M193.6,478.7h0M157.4,471.7h0M181.0,487.2h0M194.4,502.6h0"/>
<path stroke="#8b3d6a" d="M199.5,495.0h0M177.2,508.9h0M211.8,495.9h0M156.9,464.3h0M245.2,507.6h0M171.3,486.5h0M164.5,454.1h0M179.9,487.8h0M183.1,495.0h0"/>
<path stroke="#7a7030" d="M284.3,420.5h0M278.8,499.2h0M257.1,494.3h0M295.8,434.3h0M260.3,461.6h0M275.3,498.9h0M294.5,508.1h0M261.7,455.0h0M288.2,506.9h0M282.8,462.9h0M278.8,507.1h0"/>
<path stroke="#d8a040" d="M271.0,498.6h0M298.4,503.4h0M280.4,499.9h0M279.5,495.7h0M286.0,498.6h0M301.0,508.2h0M283.8,493.2h0M283.6,493.0h0M276.8,499.9h0M279.1,501.8h0"/>
<path stroke="#7a7030" d="M299.5,460.7h0M279.2,440.7h0M301.2,458.4h0M299.1,470.2h0M292.8,506.0h0M275.3,508.9h0M299.6,422.0h0M292.7,495.3h0M257.0,493.8h0M297.1,498.7h0M297.4,437.4h0"/>
<path stroke="#d98596" d="M137.9,508.0h0M178.8,497.8h0M107.6,504.4h0M128.4,490.3h0M72.8,496.5h0M164.0,491.8h0M100.9,506.8h0M133.6,502.4h0M128.8,496.7h0M72.8,492.6h0"/>
<path stroke="#8e3545" d="M248.3,407.0h0M122.5,382.6h0M231.0,384.6h0M184.0,372.6h0M250.3,387.3h0M251.3,344.1h0M172.2,382.8h0M194.9,393.0h0M217.9,453.6h0M191.2,404.3h0M190.9,381.5h0"/>
<path stroke="#4e8860" d="M291.5,315.3h0M284.1,316.1h0M284.9,349.1h0M260.2,316.0h0M285.8,328.4h0M292.9,418.6h0M296.7,453.8h0M281.2,315.5h0M258.4,315.3h0M301.2,315.6h0M300.9,315.7h0"/>
<path stroke="#7a7030" d="M270.5,432.4h0M299.8,452.2h0M273.0,494.8h0M295.9,506.6h0M285.2,483.5h0M259.8,502.7h0M300.7,490.0h0M258.0,505.1h0M296.8,494.0h0M300.4,454.1h0M301.1,479.6h0"/>
<path stroke="#6e88d0" d="M183.1,326.6h0M145.0,351.9h0M185.9,392.6h0M127.2,374.4h0M175.0,330.7h0M185.4,378.5h0M152.5,343.6h0M174.1,355.6h0M173.5,325.1h0M189.6,353.2h0"/>
<path stroke="#d4a874" d="M78.9,507.8h0M74.7,488.7h0M73.7,505.4h0M74.1,494.8h0M77.3,497.4h0M95.0,508.6h0M73.2,504.7h0M75.2,508.5h0M76.6,485.8h0M75.2,470.4h0"/>
<path stroke="#85b84a" d="M190.7,448.6h0M246.2,488.7h0M253.2,505.8h0M288.4,455.0h0M250.2,501.6h0M252.8,477.6h0M224.4,489.4h0"/>
<path stroke="#85b84a" d="M264.6,489.7h0M280.1,468.5h0M217.4,503.9h0M248.0,497.1h0M285.5,484.7h0M240.2,492.6h0M236.7,490.7h0"/>
<path stroke="#4d8840" d="M300.9,323.5h0M298.2,340.7h0M299.2,338.1h0M300.8,333.8h0M266.8,353.6h0M273.3,396.8h0M300.9,339.2h0M281.5,425.5h0M300.5,332.0h0M300.1,330.3h0"/>
<path stroke="#7dd3c3" d="M124.8,496.3h0M121.5,500.1h0M92.1,497.2h0M149.3,506.4h0M193.1,503.4h0M123.5,503.9h0M150.0,413.0h0M151.3,500.4h0M110.4,501.9h0M170.1,503.5h0"/>
<path stroke="#7dd3c3" d="M103.7,496.0h0M147.8,498.6h0M207.6,503.4h0M72.8,500.0h0M102.7,509.3h0M171.5,507.3h0M72.8,495.0h0M99.2,508.1h0M134.3,509.3h0M215.9,503.9h0M185.1,500.4h0"/>
<path stroke="#7a3f80" d="M226.1,506.6h0M129.9,503.8h0M209.1,509.6h0M171.4,496.7h0M137.2,496.1h0M103.1,502.5h0M92.7,508.4h0M211.4,505.0h0M139.2,504.0h0M144.2,495.7h0M95.1,495.5h0M200.5,499.9h0M117.6,507.1h0"/>
<path stroke="#7dd3c3" d="M81.8,505.8h0M144.2,501.7h0M169.3,500.4h0M113.4,500.4h0M138.0,500.7h0M87.0,482.0h0M188.8,499.1h0M108.6,508.3h0M99.1,504.1h0M79.9,498.5h0M110.3,500.1h0"/>
<path stroke="#7a3f80" d="M180.3,471.2h0M122.1,505.8h0M105.6,474.3h0M99.2,497.4h0M179.2,503.1h0M129.1,487.2h0M208.6,501.2h0M95.5,490.5h0M164.2,508.4h0M86.7,507.9h0M169.8,506.3h0M115.6,502.7h0M161.6,500.4h0"/>
<path stroke="#7a3f80" d="M106.4,504.7h0M155.1,482.1h0M133.1,507.5h0M123.4,497.9h0M234.6,496.0h0M214.1,504.1h0M134.5,498.4h0M216.2,504.5h0M128.4,490.7h0M149.1,508.6h0M127.1,509.5h0M94.4,497.6h0M153.9,501.8h0M242.3,496.7h0"/>
<path stroke="#7a7030" d="M297.3,427.9h0M297.2,448.3h0M273.4,495.7h0M281.7,495.9h0M278.9,498.8h0M293.0,505.3h0M300.9,492.0h0M262.0,499.2h0M300.7,504.8h0M293.5,494.8h0M258.7,443.7h0"/>
<path stroke="#4e8860" d="M286.3,384.8h0M292.8,424.3h0M282.0,315.3h0M293.8,482.6h0M269.4,315.3h0M291.6,343.9h0M250.1,315.7h0M288.5,338.5h0M299.1,384.1h0M258.4,315.3h0M290.8,315.5h0"/>
<path stroke="#4e8860" d="M294.3,375.3h0M267.5,315.6h0M286.5,394.0h0M292.7,417.6h0M295.6,315.3h0M265.7,315.3h0M273.6,315.3h0M266.8,315.3h0M271.1,315.3h0M260.5,315.3h0M260.3,315.4h0"/>
<path stroke="#7a3f80" d="M162.4,499.1h0M155.5,506.7h0M216.5,507.9h0M196.0,499.8h0M170.3,497.1h0M135.2,509.4h0M225.9,502.4h0M141.4,496.9h0M102.7,500.4h0M194.4,496.4h0M225.9,508.0h0M208.1,501.5h0M130.3,506.1h0M141.0,508.1h0"/>
<path stroke="#7a7030" d="M297.8,450.4h0M255.2,492.5h0M283.9,501.6h0M289.7,501.8h0M264.2,469.4h0M301.2,495.1h0M264.7,501.6h0M255.3,506.6h0M299.3,459.2h0M280.1,415.5h0"/>
<path stroke="#4e8860" d="M282.4,316.9h0M290.9,315.3h0M251.9,315.9h0M281.3,392.3h0M252.1,316.5h0M283.7,315.3h0M280.6,315.5h0M268.5,316.7h0M298.4,315.3h0M267.3,316.4h0M295.1,506.6h0"/>
<path stroke="#7a7030" d="M285.4,508.1h0M279.4,482.1h0M273.4,499.9h0M295.6,456.0h0M289.3,509.6h0M289.0,433.4h0M270.9,500.9h0M282.0,507.1h0M269.9,440.8h0M278.3,452.6h0"/>
<path stroke="#7a3f80" d="M241.7,507.4h0M142.9,466.6h0M104.4,502.5h0M147.4,487.8h0M103.8,502.8h0M108.7,507.8h0M188.7,501.1h0M139.0,474.2h0M217.7,499.7h0M124.8,502.0h0M158.4,505.8h0M219.1,497.0h0M123.3,507.5h0M136.5,471.6h0"/>
</g>
<rect x="60.0" y="30.6" width="256.5" height="222.85" fill="none" stroke="#000" stroke-width="0.85"/>
<rect x="408.85" y="30.6" width="256.54999999999995" height="222.85" fill="none" stroke="#000" stroke-width="0.85"/>
<rect x="60.0" y="301.35" width="256.5" height="222.94999999999993" fill="none" stroke="#000" stroke-width="0.85"/>
<rect x="408.85" y="301.35" width="256.54999999999995" height="222.94999999999993" fill="none" stroke="#000" stroke-width="0.85"/>
<rect x="60.0" y="571.75" width="256.5" height="223.25" fill="none" stroke="#000" stroke-width="0.85"/>
<rect x="408.85" y="571.75" width="256.54999999999995" height="223.25" fill="none" stroke="#000" stroke-width="0.85"/>
<rect x="60.0" y="842.5" width="256.5" height="222.9000000000001" fill="none" stroke="#000" stroke-width="0.85"/>
<rect x="408.85" y="842.5" width="256.54999999999995" height="222.9000000000001" fill="none" stroke="#000" stroke-width="0.85"/>
<g style="filter:grayscale(1)"><text x="53.0" y="257.25" font-size="10" text-anchor="end">0.0</text>
<text x="53.0" y="225.68" font-size="10" text-anchor="end">0.5</text>
<text x="53.0" y="194.11" font-size="10" text-anchor="end">1.0</text>
<text x="53.0" y="162.54" font-size="10" text-anchor="end">1.5</text>
<text x="53.0" y="130.97" font-size="10" text-anchor="end">2.0</text>
<text x="53.0" y="99.40" font-size="10" text-anchor="end">2.5</text>
<text x="53.0" y="67.83" font-size="10" text-anchor="end">3.0</text>
<text x="53.0" y="36.26" font-size="10" text-anchor="end">3.5</text>
<text x="60.00" y="268.05" font-size="10" text-anchor="middle">0</text>
<text x="106.13" y="268.05" font-size="10" text-anchor="middle">500</text>
<text x="152.27" y="268.05" font-size="10" text-anchor="middle">1000</text>
<text x="198.40" y="268.05" font-size="10" text-anchor="middle">1500</text>
<text x="244.53" y="268.05" font-size="10" text-anchor="middle">2000</text>
<text x="290.67" y="268.05" font-size="10" text-anchor="middle">2500</text>
<text x="401.85" y="257.25" font-size="10" text-anchor="end">0.0</text>
<text x="401.85" y="225.68" font-size="10" text-anchor="end">0.5</text>
<text x="401.85" y="194.11" font-size="10" text-anchor="end">1.0</text>
<text x="401.85" y="162.54" font-size="10" text-anchor="end">1.5</text>
<text x="401.85" y="130.97" font-size="10" text-anchor="end">2.0</text>
<text x="401.85" y="99.40" font-size="10" text-anchor="end">2.5</text>
<text x="401.85" y="67.83" font-size="10" text-anchor="end">3.0</text>
<text x="401.85" y="36.26" font-size="10" text-anchor="end">3.5</text>
<text x="408.85" y="268.05" font-size="10" text-anchor="middle">0</text>
<text x="440.92" y="268.05" font-size="10" text-anchor="middle">25</text>
<text x="472.99" y="268.05" font-size="10" text-anchor="middle">50</text>
<text x="505.06" y="268.05" font-size="10" text-anchor="middle">75</text>
<text x="537.12" y="268.05" font-size="10" text-anchor="middle">100</text>
<text x="569.19" y="268.05" font-size="10" text-anchor="middle">125</text>
<text x="601.26" y="268.05" font-size="10" text-anchor="middle">150</text>
<text x="633.33" y="268.05" font-size="10" text-anchor="middle">175</text>
<text x="665.40" y="268.05" font-size="10" text-anchor="middle">200</text>
<text x="188.25" y="24.40" font-size="17.15" text-anchor="middle">Attained Front</text>
<text x="537.125" y="24.40" font-size="17.15" text-anchor="middle">Attained Front (≤200 complexity)</text>
<text x="188.25" y="295.15" font-size="17.15" text-anchor="middle">(FS) Cost: 3.2854 Complexity: 2</text>
<text x="537.125" y="295.15" font-size="17.15" text-anchor="middle">(Sample 1) Cost: 2.0650 Complexity: 39</text>
<text x="188.25" y="565.55" font-size="17.15" text-anchor="middle">(Sample 2) Cost: 1.5468 Complexity: 131</text>
<text x="537.125" y="565.55" font-size="17.15" text-anchor="middle">(Max) Cost: 1.3083 Complexity: 2754</text>
<text x="188.25" y="836.30" font-size="17.15" text-anchor="middle">(t-SNE) Cost: 0.6502</text>
<text x="537.125" y="836.30" font-size="17.15" text-anchor="middle">(GP-MaL) Cost: 3.4046</text></g>
</svg>
</body></html>
